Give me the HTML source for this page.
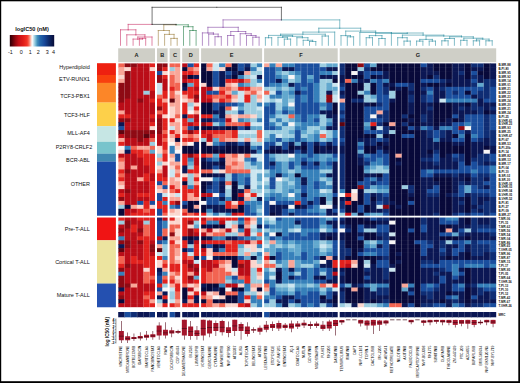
<!DOCTYPE html>
<html><head><meta charset="utf-8"><title>Drug response heatmap</title>
<style>html,body{margin:0;padding:0;background:#fff;overflow:hidden}body{width:520px;height:383px;position:relative}</style>
</head><body>
<svg width="520" height="383" viewBox="0 0 520 383" style="position:absolute;left:0;top:0">
<rect x="0" y="0" width="520" height="383" fill="#fff"/>
<defs><linearGradient id="lg" x1="0" x2="1" y1="0" y2="0"><stop offset="0" stop-color="#2a0008"/><stop offset="0.04" stop-color="#4a0008"/><stop offset="0.13" stop-color="#980810"/><stop offset="0.2" stop-color="#c41018"/><stop offset="0.3" stop-color="#e01c18"/><stop offset="0.39" stop-color="#f43426"/><stop offset="0.43" stop-color="#f86a58"/><stop offset="0.46" stop-color="#faa898"/><stop offset="0.485" stop-color="#fcdcd4"/><stop offset="0.505" stop-color="#ffffff"/><stop offset="0.53" stop-color="#d4eaf2"/><stop offset="0.57" stop-color="#8cc6dc"/><stop offset="0.62" stop-color="#4490bc"/><stop offset="0.68" stop-color="#2468ac"/><stop offset="0.78" stop-color="#18489a"/><stop offset="0.88" stop-color="#0e2a6a"/><stop offset="0.96" stop-color="#0a1648"/><stop offset="1" stop-color="#080c38"/></linearGradient></defs>
<rect x="9.8" y="35" width="44.4" height="11.5" fill="url(#lg)"/>
<text x="32" y="30.6" font-family="Liberation Sans, sans-serif" font-weight="bold" font-size="5.6" text-anchor="middle" fill="#111">logIC50 (nM)</text>
<text x="10.3" y="53.9" font-family="Liberation Sans, sans-serif" font-size="5.4" text-anchor="middle" fill="#111">-1</text>
<text x="21.3" y="53.9" font-family="Liberation Sans, sans-serif" font-size="5.4" text-anchor="middle" fill="#111">0</text>
<text x="30.3" y="53.9" font-family="Liberation Sans, sans-serif" font-size="5.4" text-anchor="middle" fill="#111">1</text>
<text x="38.3" y="53.9" font-family="Liberation Sans, sans-serif" font-size="5.4" text-anchor="middle" fill="#111">2</text>
<text x="47.3" y="53.9" font-family="Liberation Sans, sans-serif" font-size="5.4" text-anchor="middle" fill="#111">3</text>
<text x="53.4" y="53.9" font-family="Liberation Sans, sans-serif" font-size="5.4" text-anchor="middle" fill="#111">4</text>
<clipPath id="hc"><rect x="118.2" y="63.2" width="378.00" height="243.97"/></clipPath>
<g id="heat" clip-path="url(#hc)">
<rect x="118.20" y="63.20" width="6.90" height="4.54" fill="#f26452"/>
<rect x="124.50" y="63.20" width="13.20" height="4.54" fill="#8e0a14"/>
<rect x="137.10" y="63.20" width="13.20" height="4.54" fill="#ba0d18"/>
<rect x="149.70" y="63.20" width="6.90" height="4.54" fill="#e2221e"/>
<rect x="156.00" y="63.20" width="13.20" height="4.54" fill="#8e0a14"/>
<rect x="168.60" y="63.20" width="13.20" height="4.54" fill="#f26452"/>
<rect x="181.20" y="63.20" width="6.90" height="4.54" fill="#ba0d18"/>
<rect x="187.50" y="63.20" width="6.90" height="4.54" fill="#1a4e9e"/>
<rect x="193.80" y="63.20" width="6.90" height="4.54" fill="#e2221e"/>
<rect x="200.10" y="63.20" width="6.90" height="4.54" fill="#08093a"/>
<rect x="206.40" y="63.20" width="6.90" height="4.54" fill="#f26452"/>
<rect x="212.70" y="63.20" width="6.90" height="4.54" fill="#cce6f0"/>
<rect x="219.00" y="63.20" width="6.90" height="4.54" fill="#3680ba"/>
<rect x="225.30" y="63.20" width="6.90" height="4.54" fill="#f26452"/>
<rect x="231.60" y="63.20" width="6.90" height="4.54" fill="#08093a"/>
<rect x="237.90" y="63.20" width="6.90" height="4.54" fill="#1a4e9e"/>
<rect x="244.20" y="63.20" width="6.90" height="4.54" fill="#0f2d74"/>
<rect x="250.50" y="63.20" width="6.90" height="4.54" fill="#9ccde0"/>
<rect x="256.80" y="63.20" width="6.90" height="4.54" fill="#3680ba"/>
<rect x="263.10" y="63.20" width="6.90" height="4.54" fill="#f9a698"/>
<rect x="269.40" y="63.20" width="6.90" height="4.54" fill="#3680ba"/>
<rect x="275.70" y="63.20" width="6.90" height="4.54" fill="#f9a698"/>
<rect x="282.00" y="63.20" width="13.20" height="4.54" fill="#3680ba"/>
<rect x="294.60" y="63.20" width="25.80" height="4.54" fill="#1a4e9e"/>
<rect x="319.80" y="63.20" width="6.90" height="4.54" fill="#9ccde0"/>
<rect x="326.10" y="63.20" width="13.20" height="4.54" fill="#62a8ce"/>
<rect x="338.70" y="63.20" width="6.90" height="4.54" fill="#0f2d74"/>
<rect x="345.00" y="63.20" width="13.20" height="4.54" fill="#08093a"/>
<rect x="357.60" y="63.20" width="6.90" height="4.54" fill="#8e0a14"/>
<rect x="363.90" y="63.20" width="6.90" height="4.54" fill="#1a4e9e"/>
<rect x="370.20" y="63.20" width="6.90" height="4.54" fill="#62a8ce"/>
<rect x="376.50" y="63.20" width="44.70" height="4.54" fill="#08093a"/>
<rect x="420.60" y="63.20" width="6.90" height="4.54" fill="#1a4e9e"/>
<rect x="426.90" y="63.20" width="6.90" height="4.54" fill="#0b1754"/>
<rect x="433.20" y="63.20" width="19.50" height="4.54" fill="#08093a"/>
<rect x="452.10" y="63.20" width="13.20" height="4.54" fill="#0b1754"/>
<rect x="464.70" y="63.20" width="6.90" height="4.54" fill="#08093a"/>
<rect x="471.00" y="63.20" width="13.20" height="4.54" fill="#0f2d74"/>
<rect x="483.60" y="63.20" width="6.90" height="4.54" fill="#08093a"/>
<rect x="489.90" y="63.20" width="6.90" height="4.54" fill="#0b1754"/>
<rect x="118.20" y="67.14" width="6.90" height="4.54" fill="#f9a698"/>
<rect x="124.50" y="67.14" width="6.90" height="4.54" fill="#fbd6ce"/>
<rect x="130.80" y="67.14" width="19.50" height="4.54" fill="#ba0d18"/>
<rect x="149.70" y="67.14" width="6.90" height="4.54" fill="#fbd6ce"/>
<rect x="156.00" y="67.14" width="6.90" height="4.54" fill="#8e0a14"/>
<rect x="162.30" y="67.14" width="6.90" height="4.54" fill="#e2221e"/>
<rect x="168.60" y="67.14" width="6.90" height="4.54" fill="#9ccde0"/>
<rect x="174.90" y="67.14" width="6.90" height="4.54" fill="#f9a698"/>
<rect x="181.20" y="67.14" width="6.90" height="4.54" fill="#08093a"/>
<rect x="187.50" y="67.14" width="6.90" height="4.54" fill="#f26452"/>
<rect x="193.80" y="67.14" width="6.90" height="4.54" fill="#f9a698"/>
<rect x="200.10" y="67.14" width="6.90" height="4.54" fill="#08093a"/>
<rect x="206.40" y="67.14" width="6.90" height="4.54" fill="#f9a698"/>
<rect x="212.70" y="67.14" width="6.90" height="4.54" fill="#cce6f0"/>
<rect x="219.00" y="67.14" width="6.90" height="4.54" fill="#fbd6ce"/>
<rect x="225.30" y="67.14" width="13.20" height="4.54" fill="#08093a"/>
<rect x="237.90" y="67.14" width="6.90" height="4.54" fill="#1a4e9e"/>
<rect x="244.20" y="67.14" width="6.90" height="4.54" fill="#0b1754"/>
<rect x="250.50" y="67.14" width="6.90" height="4.54" fill="#3680ba"/>
<rect x="256.80" y="67.14" width="6.90" height="4.54" fill="#cce6f0"/>
<rect x="263.10" y="67.14" width="13.20" height="4.54" fill="#1a4e9e"/>
<rect x="275.70" y="67.14" width="6.90" height="4.54" fill="#3680ba"/>
<rect x="282.00" y="67.14" width="13.20" height="4.54" fill="#0b1754"/>
<rect x="294.60" y="67.14" width="32.10" height="4.54" fill="#1a4e9e"/>
<rect x="326.10" y="67.14" width="13.20" height="4.54" fill="#0b1754"/>
<rect x="338.70" y="67.14" width="6.90" height="4.54" fill="#0f2d74"/>
<rect x="345.00" y="67.14" width="13.20" height="4.54" fill="#08093a"/>
<rect x="357.60" y="67.14" width="6.90" height="4.54" fill="#9ccde0"/>
<rect x="363.90" y="67.14" width="6.90" height="4.54" fill="#0f2d74"/>
<rect x="370.20" y="67.14" width="51.00" height="4.54" fill="#08093a"/>
<rect x="420.60" y="67.14" width="13.20" height="4.54" fill="#0b1754"/>
<rect x="433.20" y="67.14" width="19.50" height="4.54" fill="#08093a"/>
<rect x="452.10" y="67.14" width="13.20" height="4.54" fill="#0b1754"/>
<rect x="464.70" y="67.14" width="6.90" height="4.54" fill="#08093a"/>
<rect x="471.00" y="67.14" width="13.20" height="4.54" fill="#0b1754"/>
<rect x="483.60" y="67.14" width="6.90" height="4.54" fill="#08093a"/>
<rect x="489.90" y="67.14" width="6.90" height="4.54" fill="#0b1754"/>
<rect x="118.20" y="71.07" width="6.90" height="4.54" fill="#f9a698"/>
<rect x="124.50" y="71.07" width="6.90" height="4.54" fill="#8e0a14"/>
<rect x="130.80" y="71.07" width="19.50" height="4.54" fill="#ba0d18"/>
<rect x="149.70" y="71.07" width="6.90" height="4.54" fill="#e2221e"/>
<rect x="156.00" y="71.07" width="6.90" height="4.54" fill="#1a4e9e"/>
<rect x="162.30" y="71.07" width="6.90" height="4.54" fill="#fbd6ce"/>
<rect x="168.60" y="71.07" width="13.20" height="4.54" fill="#f9a698"/>
<rect x="181.20" y="71.07" width="13.20" height="4.54" fill="#e2221e"/>
<rect x="193.80" y="71.07" width="6.90" height="4.54" fill="#f26452"/>
<rect x="200.10" y="71.07" width="13.20" height="4.54" fill="#08093a"/>
<rect x="212.70" y="71.07" width="6.90" height="4.54" fill="#1a4e9e"/>
<rect x="219.00" y="71.07" width="6.90" height="4.54" fill="#0b1754"/>
<rect x="225.30" y="71.07" width="6.90" height="4.54" fill="#1a4e9e"/>
<rect x="231.60" y="71.07" width="6.90" height="4.54" fill="#0b1754"/>
<rect x="237.90" y="71.07" width="6.90" height="4.54" fill="#08093a"/>
<rect x="244.20" y="71.07" width="6.90" height="4.54" fill="#f9a698"/>
<rect x="250.50" y="71.07" width="13.20" height="4.54" fill="#9ccde0"/>
<rect x="263.10" y="71.07" width="13.20" height="4.54" fill="#1a4e9e"/>
<rect x="275.70" y="71.07" width="6.90" height="4.54" fill="#62a8ce"/>
<rect x="282.00" y="71.07" width="6.90" height="4.54" fill="#9ccde0"/>
<rect x="288.30" y="71.07" width="6.90" height="4.54" fill="#62a8ce"/>
<rect x="294.60" y="71.07" width="6.90" height="4.54" fill="#3680ba"/>
<rect x="300.90" y="71.07" width="19.50" height="4.54" fill="#1a4e9e"/>
<rect x="319.80" y="71.07" width="13.20" height="4.54" fill="#3680ba"/>
<rect x="332.40" y="71.07" width="6.90" height="4.54" fill="#9ccde0"/>
<rect x="338.70" y="71.07" width="6.90" height="4.54" fill="#0f2d74"/>
<rect x="345.00" y="71.07" width="6.90" height="4.54" fill="#08093a"/>
<rect x="351.30" y="71.07" width="6.90" height="4.54" fill="#f8f6f6"/>
<rect x="357.60" y="71.07" width="6.90" height="4.54" fill="#0b1754"/>
<rect x="363.90" y="71.07" width="19.50" height="4.54" fill="#1a4e9e"/>
<rect x="382.80" y="71.07" width="6.90" height="4.54" fill="#0b1754"/>
<rect x="389.10" y="71.07" width="32.10" height="4.54" fill="#08093a"/>
<rect x="420.60" y="71.07" width="19.50" height="4.54" fill="#0b1754"/>
<rect x="439.50" y="71.07" width="13.20" height="4.54" fill="#08093a"/>
<rect x="452.10" y="71.07" width="6.90" height="4.54" fill="#0b1754"/>
<rect x="458.40" y="71.07" width="6.90" height="4.54" fill="#0f2d74"/>
<rect x="464.70" y="71.07" width="6.90" height="4.54" fill="#08093a"/>
<rect x="471.00" y="71.07" width="6.90" height="4.54" fill="#1a4e9e"/>
<rect x="477.30" y="71.07" width="13.20" height="4.54" fill="#08093a"/>
<rect x="489.90" y="71.07" width="6.90" height="4.54" fill="#0b1754"/>
<rect x="118.20" y="75.00" width="6.90" height="4.54" fill="#fbd6ce"/>
<rect x="124.50" y="75.00" width="6.90" height="4.54" fill="#8e0a14"/>
<rect x="130.80" y="75.00" width="19.50" height="4.54" fill="#ba0d18"/>
<rect x="149.70" y="75.00" width="6.90" height="4.54" fill="#e2221e"/>
<rect x="156.00" y="75.00" width="6.90" height="4.54" fill="#8e0a14"/>
<rect x="162.30" y="75.00" width="6.90" height="4.54" fill="#e2221e"/>
<rect x="168.60" y="75.00" width="6.90" height="4.54" fill="#f26452"/>
<rect x="174.90" y="75.00" width="6.90" height="4.54" fill="#f9a698"/>
<rect x="181.20" y="75.00" width="6.90" height="4.54" fill="#8e0a14"/>
<rect x="187.50" y="75.00" width="6.90" height="4.54" fill="#08093a"/>
<rect x="193.80" y="75.00" width="6.90" height="4.54" fill="#0b1754"/>
<rect x="200.10" y="75.00" width="13.20" height="4.54" fill="#08093a"/>
<rect x="212.70" y="75.00" width="6.90" height="4.54" fill="#1a4e9e"/>
<rect x="219.00" y="75.00" width="6.90" height="4.54" fill="#0b1754"/>
<rect x="225.30" y="75.00" width="6.90" height="4.54" fill="#0f2d74"/>
<rect x="231.60" y="75.00" width="6.90" height="4.54" fill="#08093a"/>
<rect x="237.90" y="75.00" width="6.90" height="4.54" fill="#3680ba"/>
<rect x="244.20" y="75.00" width="6.90" height="4.54" fill="#9ccde0"/>
<rect x="250.50" y="75.00" width="6.90" height="4.54" fill="#cce6f0"/>
<rect x="256.80" y="75.00" width="6.90" height="4.54" fill="#0b1754"/>
<rect x="263.10" y="75.00" width="13.20" height="4.54" fill="#1a4e9e"/>
<rect x="275.70" y="75.00" width="6.90" height="4.54" fill="#3680ba"/>
<rect x="282.00" y="75.00" width="6.90" height="4.54" fill="#62a8ce"/>
<rect x="288.30" y="75.00" width="6.90" height="4.54" fill="#f8f6f6"/>
<rect x="294.60" y="75.00" width="6.90" height="4.54" fill="#62a8ce"/>
<rect x="300.90" y="75.00" width="6.90" height="4.54" fill="#1a4e9e"/>
<rect x="307.20" y="75.00" width="6.90" height="4.54" fill="#62a8ce"/>
<rect x="313.50" y="75.00" width="6.90" height="4.54" fill="#1a4e9e"/>
<rect x="319.80" y="75.00" width="25.80" height="4.54" fill="#0b1754"/>
<rect x="345.00" y="75.00" width="19.50" height="4.54" fill="#08093a"/>
<rect x="363.90" y="75.00" width="6.90" height="4.54" fill="#1a4e9e"/>
<rect x="370.20" y="75.00" width="6.90" height="4.54" fill="#08093a"/>
<rect x="376.50" y="75.00" width="13.20" height="4.54" fill="#0b1754"/>
<rect x="389.10" y="75.00" width="32.10" height="4.54" fill="#08093a"/>
<rect x="420.60" y="75.00" width="6.90" height="4.54" fill="#0b1754"/>
<rect x="426.90" y="75.00" width="6.90" height="4.54" fill="#08093a"/>
<rect x="433.20" y="75.00" width="6.90" height="4.54" fill="#0f2d74"/>
<rect x="439.50" y="75.00" width="13.20" height="4.54" fill="#08093a"/>
<rect x="452.10" y="75.00" width="13.20" height="4.54" fill="#0b1754"/>
<rect x="464.70" y="75.00" width="6.90" height="4.54" fill="#08093a"/>
<rect x="471.00" y="75.00" width="6.90" height="4.54" fill="#0f2d74"/>
<rect x="477.30" y="75.00" width="6.90" height="4.54" fill="#0b1754"/>
<rect x="483.60" y="75.00" width="6.90" height="4.54" fill="#08093a"/>
<rect x="489.90" y="75.00" width="6.90" height="4.54" fill="#0b1754"/>
<rect x="118.20" y="78.94" width="6.90" height="4.54" fill="#f9a698"/>
<rect x="124.50" y="78.94" width="6.90" height="4.54" fill="#8e0a14"/>
<rect x="130.80" y="78.94" width="19.50" height="4.54" fill="#ba0d18"/>
<rect x="149.70" y="78.94" width="6.90" height="4.54" fill="#e2221e"/>
<rect x="156.00" y="78.94" width="6.90" height="4.54" fill="#8e0a14"/>
<rect x="162.30" y="78.94" width="6.90" height="4.54" fill="#ba0d18"/>
<rect x="168.60" y="78.94" width="6.90" height="4.54" fill="#f26452"/>
<rect x="174.90" y="78.94" width="6.90" height="4.54" fill="#f9a698"/>
<rect x="181.20" y="78.94" width="6.90" height="4.54" fill="#ba0d18"/>
<rect x="187.50" y="78.94" width="13.20" height="4.54" fill="#e2221e"/>
<rect x="200.10" y="78.94" width="13.20" height="4.54" fill="#08093a"/>
<rect x="212.70" y="78.94" width="6.90" height="4.54" fill="#1a4e9e"/>
<rect x="219.00" y="78.94" width="6.90" height="4.54" fill="#0b1754"/>
<rect x="225.30" y="78.94" width="13.20" height="4.54" fill="#e2221e"/>
<rect x="237.90" y="78.94" width="6.90" height="4.54" fill="#ba0d18"/>
<rect x="244.20" y="78.94" width="6.90" height="4.54" fill="#f26452"/>
<rect x="250.50" y="78.94" width="6.90" height="4.54" fill="#9ccde0"/>
<rect x="256.80" y="78.94" width="6.90" height="4.54" fill="#3680ba"/>
<rect x="263.10" y="78.94" width="13.20" height="4.54" fill="#1a4e9e"/>
<rect x="275.70" y="78.94" width="6.90" height="4.54" fill="#0b1754"/>
<rect x="282.00" y="78.94" width="6.90" height="4.54" fill="#3680ba"/>
<rect x="288.30" y="78.94" width="6.90" height="4.54" fill="#9ccde0"/>
<rect x="294.60" y="78.94" width="6.90" height="4.54" fill="#62a8ce"/>
<rect x="300.90" y="78.94" width="6.90" height="4.54" fill="#1a4e9e"/>
<rect x="307.20" y="78.94" width="6.90" height="4.54" fill="#3680ba"/>
<rect x="313.50" y="78.94" width="6.90" height="4.54" fill="#1a4e9e"/>
<rect x="319.80" y="78.94" width="13.20" height="4.54" fill="#9ccde0"/>
<rect x="332.40" y="78.94" width="6.90" height="4.54" fill="#08093a"/>
<rect x="338.70" y="78.94" width="6.90" height="4.54" fill="#0b1754"/>
<rect x="345.00" y="78.94" width="6.90" height="4.54" fill="#f26452"/>
<rect x="351.30" y="78.94" width="6.90" height="4.54" fill="#3680ba"/>
<rect x="357.60" y="78.94" width="13.20" height="4.54" fill="#0b1754"/>
<rect x="370.20" y="78.94" width="6.90" height="4.54" fill="#3680ba"/>
<rect x="376.50" y="78.94" width="6.90" height="4.54" fill="#1a4e9e"/>
<rect x="382.80" y="78.94" width="6.90" height="4.54" fill="#3680ba"/>
<rect x="389.10" y="78.94" width="32.10" height="4.54" fill="#08093a"/>
<rect x="420.60" y="78.94" width="19.50" height="4.54" fill="#1a4e9e"/>
<rect x="439.50" y="78.94" width="6.90" height="4.54" fill="#0f2d74"/>
<rect x="445.80" y="78.94" width="25.80" height="4.54" fill="#0b1754"/>
<rect x="471.00" y="78.94" width="6.90" height="4.54" fill="#1a4e9e"/>
<rect x="477.30" y="78.94" width="6.90" height="4.54" fill="#0b1754"/>
<rect x="483.60" y="78.94" width="13.20" height="4.54" fill="#0f2d74"/>
<rect x="118.20" y="82.88" width="13.20" height="4.54" fill="#8e0a14"/>
<rect x="130.80" y="82.88" width="19.50" height="4.54" fill="#ba0d18"/>
<rect x="149.70" y="82.88" width="6.90" height="4.54" fill="#e2221e"/>
<rect x="156.00" y="82.88" width="6.90" height="4.54" fill="#cce6f0"/>
<rect x="162.30" y="82.88" width="6.90" height="4.54" fill="#ba0d18"/>
<rect x="168.60" y="82.88" width="13.20" height="4.54" fill="#f26452"/>
<rect x="181.20" y="82.88" width="6.90" height="4.54" fill="#08093a"/>
<rect x="187.50" y="82.88" width="6.90" height="4.54" fill="#62a8ce"/>
<rect x="193.80" y="82.88" width="6.90" height="4.54" fill="#e2221e"/>
<rect x="200.10" y="82.88" width="6.90" height="4.54" fill="#fbd6ce"/>
<rect x="206.40" y="82.88" width="6.90" height="4.54" fill="#08093a"/>
<rect x="212.70" y="82.88" width="6.90" height="4.54" fill="#1a4e9e"/>
<rect x="219.00" y="82.88" width="6.90" height="4.54" fill="#0b1754"/>
<rect x="225.30" y="82.88" width="6.90" height="4.54" fill="#f9a698"/>
<rect x="231.60" y="82.88" width="6.90" height="4.54" fill="#fbd6ce"/>
<rect x="237.90" y="82.88" width="6.90" height="4.54" fill="#3680ba"/>
<rect x="244.20" y="82.88" width="6.90" height="4.54" fill="#62a8ce"/>
<rect x="250.50" y="82.88" width="6.90" height="4.54" fill="#9ccde0"/>
<rect x="256.80" y="82.88" width="6.90" height="4.54" fill="#cce6f0"/>
<rect x="263.10" y="82.88" width="6.90" height="4.54" fill="#1a4e9e"/>
<rect x="269.40" y="82.88" width="13.20" height="4.54" fill="#3680ba"/>
<rect x="282.00" y="82.88" width="6.90" height="4.54" fill="#62a8ce"/>
<rect x="288.30" y="82.88" width="6.90" height="4.54" fill="#0b1754"/>
<rect x="294.60" y="82.88" width="19.50" height="4.54" fill="#1a4e9e"/>
<rect x="313.50" y="82.88" width="6.90" height="4.54" fill="#3680ba"/>
<rect x="319.80" y="82.88" width="6.90" height="4.54" fill="#9ccde0"/>
<rect x="326.10" y="82.88" width="6.90" height="4.54" fill="#62a8ce"/>
<rect x="332.40" y="82.88" width="6.90" height="4.54" fill="#cce6f0"/>
<rect x="338.70" y="82.88" width="6.90" height="4.54" fill="#0f2d74"/>
<rect x="345.00" y="82.88" width="19.50" height="4.54" fill="#08093a"/>
<rect x="363.90" y="82.88" width="6.90" height="4.54" fill="#9ccde0"/>
<rect x="370.20" y="82.88" width="6.90" height="4.54" fill="#08093a"/>
<rect x="376.50" y="82.88" width="6.90" height="4.54" fill="#1a4e9e"/>
<rect x="382.80" y="82.88" width="13.20" height="4.54" fill="#0b1754"/>
<rect x="395.40" y="82.88" width="13.20" height="4.54" fill="#1a4e9e"/>
<rect x="408.00" y="82.88" width="6.90" height="4.54" fill="#0f2d74"/>
<rect x="414.30" y="82.88" width="6.90" height="4.54" fill="#08093a"/>
<rect x="420.60" y="82.88" width="6.90" height="4.54" fill="#0b1754"/>
<rect x="426.90" y="82.88" width="13.20" height="4.54" fill="#08093a"/>
<rect x="439.50" y="82.88" width="6.90" height="4.54" fill="#0b1754"/>
<rect x="445.80" y="82.88" width="6.90" height="4.54" fill="#08093a"/>
<rect x="452.10" y="82.88" width="19.50" height="4.54" fill="#0b1754"/>
<rect x="471.00" y="82.88" width="6.90" height="4.54" fill="#0f2d74"/>
<rect x="477.30" y="82.88" width="6.90" height="4.54" fill="#62a8ce"/>
<rect x="483.60" y="82.88" width="13.20" height="4.54" fill="#0f2d74"/>
<rect x="118.20" y="86.81" width="13.20" height="4.54" fill="#8e0a14"/>
<rect x="130.80" y="86.81" width="19.50" height="4.54" fill="#ba0d18"/>
<rect x="149.70" y="86.81" width="6.90" height="4.54" fill="#e2221e"/>
<rect x="156.00" y="86.81" width="6.90" height="4.54" fill="#cce6f0"/>
<rect x="162.30" y="86.81" width="6.90" height="4.54" fill="#ba0d18"/>
<rect x="168.60" y="86.81" width="6.90" height="4.54" fill="#e2221e"/>
<rect x="174.90" y="86.81" width="6.90" height="4.54" fill="#f26452"/>
<rect x="181.20" y="86.81" width="6.90" height="4.54" fill="#0b1754"/>
<rect x="187.50" y="86.81" width="6.90" height="4.54" fill="#e2221e"/>
<rect x="193.80" y="86.81" width="19.50" height="4.54" fill="#ba0d18"/>
<rect x="212.70" y="86.81" width="6.90" height="4.54" fill="#fbd6ce"/>
<rect x="219.00" y="86.81" width="13.20" height="4.54" fill="#f26452"/>
<rect x="231.60" y="86.81" width="6.90" height="4.54" fill="#f9a698"/>
<rect x="237.90" y="86.81" width="13.20" height="4.54" fill="#e2221e"/>
<rect x="250.50" y="86.81" width="13.20" height="4.54" fill="#f9a698"/>
<rect x="263.10" y="86.81" width="13.20" height="4.54" fill="#9ccde0"/>
<rect x="275.70" y="86.81" width="6.90" height="4.54" fill="#62a8ce"/>
<rect x="282.00" y="86.81" width="6.90" height="4.54" fill="#9ccde0"/>
<rect x="288.30" y="86.81" width="6.90" height="4.54" fill="#62a8ce"/>
<rect x="294.60" y="86.81" width="6.90" height="4.54" fill="#1a4e9e"/>
<rect x="300.90" y="86.81" width="6.90" height="4.54" fill="#3680ba"/>
<rect x="307.20" y="86.81" width="6.90" height="4.54" fill="#1a4e9e"/>
<rect x="313.50" y="86.81" width="6.90" height="4.54" fill="#3680ba"/>
<rect x="319.80" y="86.81" width="6.90" height="4.54" fill="#9ccde0"/>
<rect x="326.10" y="86.81" width="13.20" height="4.54" fill="#62a8ce"/>
<rect x="338.70" y="86.81" width="6.90" height="4.54" fill="#1a4e9e"/>
<rect x="345.00" y="86.81" width="19.50" height="4.54" fill="#08093a"/>
<rect x="363.90" y="86.81" width="6.90" height="4.54" fill="#9ccde0"/>
<rect x="370.20" y="86.81" width="6.90" height="4.54" fill="#08093a"/>
<rect x="376.50" y="86.81" width="6.90" height="4.54" fill="#1a4e9e"/>
<rect x="382.80" y="86.81" width="6.90" height="4.54" fill="#0f2d74"/>
<rect x="389.10" y="86.81" width="6.90" height="4.54" fill="#08093a"/>
<rect x="395.40" y="86.81" width="6.90" height="4.54" fill="#0b1754"/>
<rect x="401.70" y="86.81" width="6.90" height="4.54" fill="#08093a"/>
<rect x="408.00" y="86.81" width="6.90" height="4.54" fill="#0f2d74"/>
<rect x="414.30" y="86.81" width="6.90" height="4.54" fill="#08093a"/>
<rect x="420.60" y="86.81" width="6.90" height="4.54" fill="#0f2d74"/>
<rect x="426.90" y="86.81" width="6.90" height="4.54" fill="#1a4e9e"/>
<rect x="433.20" y="86.81" width="6.90" height="4.54" fill="#0b1754"/>
<rect x="439.50" y="86.81" width="6.90" height="4.54" fill="#0f2d74"/>
<rect x="445.80" y="86.81" width="38.40" height="4.54" fill="#1a4e9e"/>
<rect x="483.60" y="86.81" width="6.90" height="4.54" fill="#0f2d74"/>
<rect x="489.90" y="86.81" width="6.90" height="4.54" fill="#1a4e9e"/>
<rect x="118.20" y="90.75" width="13.20" height="4.54" fill="#8e0a14"/>
<rect x="130.80" y="90.75" width="13.20" height="4.54" fill="#ba0d18"/>
<rect x="143.40" y="90.75" width="6.90" height="4.54" fill="#9ccde0"/>
<rect x="149.70" y="90.75" width="6.90" height="4.54" fill="#ba0d18"/>
<rect x="156.00" y="90.75" width="6.90" height="4.54" fill="#cce6f0"/>
<rect x="162.30" y="90.75" width="6.90" height="4.54" fill="#e2221e"/>
<rect x="168.60" y="90.75" width="6.90" height="4.54" fill="#f26452"/>
<rect x="174.90" y="90.75" width="6.90" height="4.54" fill="#fbd6ce"/>
<rect x="181.20" y="90.75" width="19.50" height="4.54" fill="#e2221e"/>
<rect x="200.10" y="90.75" width="6.90" height="4.54" fill="#ba0d18"/>
<rect x="206.40" y="90.75" width="13.20" height="4.54" fill="#1a4e9e"/>
<rect x="219.00" y="90.75" width="6.90" height="4.54" fill="#e2221e"/>
<rect x="225.30" y="90.75" width="6.90" height="4.54" fill="#f9a698"/>
<rect x="231.60" y="90.75" width="6.90" height="4.54" fill="#62a8ce"/>
<rect x="237.90" y="90.75" width="6.90" height="4.54" fill="#cce6f0"/>
<rect x="244.20" y="90.75" width="6.90" height="4.54" fill="#f9a698"/>
<rect x="250.50" y="90.75" width="6.90" height="4.54" fill="#f26452"/>
<rect x="256.80" y="90.75" width="6.90" height="4.54" fill="#fbd6ce"/>
<rect x="263.10" y="90.75" width="6.90" height="4.54" fill="#f26452"/>
<rect x="269.40" y="90.75" width="6.90" height="4.54" fill="#cce6f0"/>
<rect x="275.70" y="90.75" width="6.90" height="4.54" fill="#1a4e9e"/>
<rect x="282.00" y="90.75" width="6.90" height="4.54" fill="#62a8ce"/>
<rect x="288.30" y="90.75" width="6.90" height="4.54" fill="#3680ba"/>
<rect x="294.60" y="90.75" width="6.90" height="4.54" fill="#0b1754"/>
<rect x="300.90" y="90.75" width="13.20" height="4.54" fill="#1a4e9e"/>
<rect x="313.50" y="90.75" width="6.90" height="4.54" fill="#3680ba"/>
<rect x="319.80" y="90.75" width="6.90" height="4.54" fill="#9ccde0"/>
<rect x="326.10" y="90.75" width="6.90" height="4.54" fill="#0b1754"/>
<rect x="332.40" y="90.75" width="6.90" height="4.54" fill="#9ccde0"/>
<rect x="338.70" y="90.75" width="6.90" height="4.54" fill="#0b1754"/>
<rect x="345.00" y="90.75" width="13.20" height="4.54" fill="#08093a"/>
<rect x="357.60" y="90.75" width="6.90" height="4.54" fill="#9ccde0"/>
<rect x="363.90" y="90.75" width="6.90" height="4.54" fill="#3680ba"/>
<rect x="370.20" y="90.75" width="6.90" height="4.54" fill="#08093a"/>
<rect x="376.50" y="90.75" width="6.90" height="4.54" fill="#1a4e9e"/>
<rect x="382.80" y="90.75" width="6.90" height="4.54" fill="#0f2d74"/>
<rect x="389.10" y="90.75" width="6.90" height="4.54" fill="#9ccde0"/>
<rect x="395.40" y="90.75" width="13.20" height="4.54" fill="#08093a"/>
<rect x="408.00" y="90.75" width="6.90" height="4.54" fill="#0b1754"/>
<rect x="414.30" y="90.75" width="6.90" height="4.54" fill="#08093a"/>
<rect x="420.60" y="90.75" width="6.90" height="4.54" fill="#0b1754"/>
<rect x="426.90" y="90.75" width="6.90" height="4.54" fill="#3680ba"/>
<rect x="433.20" y="90.75" width="13.20" height="4.54" fill="#0b1754"/>
<rect x="445.80" y="90.75" width="6.90" height="4.54" fill="#1a4e9e"/>
<rect x="452.10" y="90.75" width="6.90" height="4.54" fill="#0f2d74"/>
<rect x="458.40" y="90.75" width="6.90" height="4.54" fill="#1a4e9e"/>
<rect x="464.70" y="90.75" width="6.90" height="4.54" fill="#08093a"/>
<rect x="471.00" y="90.75" width="6.90" height="4.54" fill="#1a4e9e"/>
<rect x="477.30" y="90.75" width="13.20" height="4.54" fill="#0f2d74"/>
<rect x="489.90" y="90.75" width="6.90" height="4.54" fill="#1a4e9e"/>
<rect x="118.20" y="94.68" width="13.20" height="4.54" fill="#8e0a14"/>
<rect x="130.80" y="94.68" width="25.80" height="4.54" fill="#ba0d18"/>
<rect x="156.00" y="94.68" width="6.90" height="4.54" fill="#f26452"/>
<rect x="162.30" y="94.68" width="6.90" height="4.54" fill="#e2221e"/>
<rect x="168.60" y="94.68" width="6.90" height="4.54" fill="#f26452"/>
<rect x="174.90" y="94.68" width="13.20" height="4.54" fill="#f9a698"/>
<rect x="187.50" y="94.68" width="6.90" height="4.54" fill="#e2221e"/>
<rect x="193.80" y="94.68" width="6.90" height="4.54" fill="#8e0a14"/>
<rect x="200.10" y="94.68" width="6.90" height="4.54" fill="#ba0d18"/>
<rect x="206.40" y="94.68" width="6.90" height="4.54" fill="#e2221e"/>
<rect x="212.70" y="94.68" width="13.20" height="4.54" fill="#f26452"/>
<rect x="225.30" y="94.68" width="6.90" height="4.54" fill="#e2221e"/>
<rect x="231.60" y="94.68" width="6.90" height="4.54" fill="#f9a698"/>
<rect x="237.90" y="94.68" width="6.90" height="4.54" fill="#cce6f0"/>
<rect x="244.20" y="94.68" width="6.90" height="4.54" fill="#e2221e"/>
<rect x="250.50" y="94.68" width="6.90" height="4.54" fill="#9ccde0"/>
<rect x="256.80" y="94.68" width="6.90" height="4.54" fill="#f9a698"/>
<rect x="263.10" y="94.68" width="6.90" height="4.54" fill="#cce6f0"/>
<rect x="269.40" y="94.68" width="13.20" height="4.54" fill="#3680ba"/>
<rect x="282.00" y="94.68" width="13.20" height="4.54" fill="#62a8ce"/>
<rect x="294.60" y="94.68" width="6.90" height="4.54" fill="#1a4e9e"/>
<rect x="300.90" y="94.68" width="6.90" height="4.54" fill="#3680ba"/>
<rect x="307.20" y="94.68" width="6.90" height="4.54" fill="#1a4e9e"/>
<rect x="313.50" y="94.68" width="6.90" height="4.54" fill="#3680ba"/>
<rect x="319.80" y="94.68" width="6.90" height="4.54" fill="#9ccde0"/>
<rect x="326.10" y="94.68" width="6.90" height="4.54" fill="#8e0a14"/>
<rect x="332.40" y="94.68" width="6.90" height="4.54" fill="#cce6f0"/>
<rect x="338.70" y="94.68" width="6.90" height="4.54" fill="#0f2d74"/>
<rect x="345.00" y="94.68" width="19.50" height="4.54" fill="#08093a"/>
<rect x="363.90" y="94.68" width="6.90" height="4.54" fill="#9ccde0"/>
<rect x="370.20" y="94.68" width="6.90" height="4.54" fill="#62a8ce"/>
<rect x="376.50" y="94.68" width="13.20" height="4.54" fill="#1a4e9e"/>
<rect x="389.10" y="94.68" width="6.90" height="4.54" fill="#9ccde0"/>
<rect x="395.40" y="94.68" width="13.20" height="4.54" fill="#08093a"/>
<rect x="408.00" y="94.68" width="6.90" height="4.54" fill="#0f2d74"/>
<rect x="414.30" y="94.68" width="6.90" height="4.54" fill="#08093a"/>
<rect x="420.60" y="94.68" width="6.90" height="4.54" fill="#0f2d74"/>
<rect x="426.90" y="94.68" width="6.90" height="4.54" fill="#1a4e9e"/>
<rect x="433.20" y="94.68" width="13.20" height="4.54" fill="#0b1754"/>
<rect x="445.80" y="94.68" width="25.80" height="4.54" fill="#1a4e9e"/>
<rect x="471.00" y="94.68" width="6.90" height="4.54" fill="#0b1754"/>
<rect x="477.30" y="94.68" width="13.20" height="4.54" fill="#0f2d74"/>
<rect x="489.90" y="94.68" width="6.90" height="4.54" fill="#1a4e9e"/>
<rect x="118.20" y="98.62" width="6.90" height="4.54" fill="#8e0a14"/>
<rect x="124.50" y="98.62" width="13.20" height="4.54" fill="#ba0d18"/>
<rect x="137.10" y="98.62" width="6.90" height="4.54" fill="#8e0a14"/>
<rect x="143.40" y="98.62" width="6.90" height="4.54" fill="#ba0d18"/>
<rect x="149.70" y="98.62" width="13.20" height="4.54" fill="#e2221e"/>
<rect x="162.30" y="98.62" width="6.90" height="4.54" fill="#f9a698"/>
<rect x="168.60" y="98.62" width="6.90" height="4.54" fill="#5e0410"/>
<rect x="174.90" y="98.62" width="6.90" height="4.54" fill="#f9a698"/>
<rect x="181.20" y="98.62" width="6.90" height="4.54" fill="#fbd6ce"/>
<rect x="187.50" y="98.62" width="6.90" height="4.54" fill="#f9a698"/>
<rect x="193.80" y="98.62" width="19.50" height="4.54" fill="#ba0d18"/>
<rect x="212.70" y="98.62" width="6.90" height="4.54" fill="#f9a698"/>
<rect x="219.00" y="98.62" width="6.90" height="4.54" fill="#e2221e"/>
<rect x="225.30" y="98.62" width="6.90" height="4.54" fill="#f26452"/>
<rect x="231.60" y="98.62" width="6.90" height="4.54" fill="#fbd6ce"/>
<rect x="237.90" y="98.62" width="6.90" height="4.54" fill="#cce6f0"/>
<rect x="244.20" y="98.62" width="6.90" height="4.54" fill="#e2221e"/>
<rect x="250.50" y="98.62" width="6.90" height="4.54" fill="#9ccde0"/>
<rect x="256.80" y="98.62" width="6.90" height="4.54" fill="#fbd6ce"/>
<rect x="263.10" y="98.62" width="6.90" height="4.54" fill="#cce6f0"/>
<rect x="269.40" y="98.62" width="6.90" height="4.54" fill="#9ccde0"/>
<rect x="275.70" y="98.62" width="6.90" height="4.54" fill="#cce6f0"/>
<rect x="282.00" y="98.62" width="6.90" height="4.54" fill="#62a8ce"/>
<rect x="288.30" y="98.62" width="6.90" height="4.54" fill="#9ccde0"/>
<rect x="294.60" y="98.62" width="6.90" height="4.54" fill="#1a4e9e"/>
<rect x="300.90" y="98.62" width="6.90" height="4.54" fill="#3680ba"/>
<rect x="307.20" y="98.62" width="6.90" height="4.54" fill="#1a4e9e"/>
<rect x="313.50" y="98.62" width="6.90" height="4.54" fill="#3680ba"/>
<rect x="319.80" y="98.62" width="6.90" height="4.54" fill="#9ccde0"/>
<rect x="326.10" y="98.62" width="6.90" height="4.54" fill="#8e0a14"/>
<rect x="332.40" y="98.62" width="6.90" height="4.54" fill="#cce6f0"/>
<rect x="338.70" y="98.62" width="6.90" height="4.54" fill="#f9a698"/>
<rect x="345.00" y="98.62" width="6.90" height="4.54" fill="#08093a"/>
<rect x="351.30" y="98.62" width="13.20" height="4.54" fill="#0f2d74"/>
<rect x="363.90" y="98.62" width="13.20" height="4.54" fill="#9ccde0"/>
<rect x="376.50" y="98.62" width="13.20" height="4.54" fill="#1a4e9e"/>
<rect x="389.10" y="98.62" width="6.90" height="4.54" fill="#0b1754"/>
<rect x="395.40" y="98.62" width="13.20" height="4.54" fill="#08093a"/>
<rect x="408.00" y="98.62" width="6.90" height="4.54" fill="#0f2d74"/>
<rect x="414.30" y="98.62" width="6.90" height="4.54" fill="#08093a"/>
<rect x="420.60" y="98.62" width="6.90" height="4.54" fill="#0f2d74"/>
<rect x="426.90" y="98.62" width="6.90" height="4.54" fill="#1a4e9e"/>
<rect x="433.20" y="98.62" width="6.90" height="4.54" fill="#0b1754"/>
<rect x="439.50" y="98.62" width="6.90" height="4.54" fill="#cce6f0"/>
<rect x="445.80" y="98.62" width="32.10" height="4.54" fill="#3680ba"/>
<rect x="477.30" y="98.62" width="6.90" height="4.54" fill="#0b1754"/>
<rect x="483.60" y="98.62" width="13.20" height="4.54" fill="#1a4e9e"/>
<rect x="118.20" y="102.55" width="38.40" height="4.54" fill="#ba0d18"/>
<rect x="156.00" y="102.55" width="13.20" height="4.54" fill="#e2221e"/>
<rect x="168.60" y="102.55" width="13.20" height="4.54" fill="#f9a698"/>
<rect x="181.20" y="102.55" width="6.90" height="4.54" fill="#e2221e"/>
<rect x="187.50" y="102.55" width="6.90" height="4.54" fill="#9ccde0"/>
<rect x="193.80" y="102.55" width="6.90" height="4.54" fill="#fbd6ce"/>
<rect x="200.10" y="102.55" width="13.20" height="4.54" fill="#08093a"/>
<rect x="212.70" y="102.55" width="6.90" height="4.54" fill="#1a4e9e"/>
<rect x="219.00" y="102.55" width="6.90" height="4.54" fill="#0f2d74"/>
<rect x="225.30" y="102.55" width="13.20" height="4.54" fill="#1a4e9e"/>
<rect x="237.90" y="102.55" width="6.90" height="4.54" fill="#3680ba"/>
<rect x="244.20" y="102.55" width="13.20" height="4.54" fill="#9ccde0"/>
<rect x="256.80" y="102.55" width="13.20" height="4.54" fill="#3680ba"/>
<rect x="269.40" y="102.55" width="6.90" height="4.54" fill="#1a4e9e"/>
<rect x="275.70" y="102.55" width="6.90" height="4.54" fill="#9ccde0"/>
<rect x="282.00" y="102.55" width="6.90" height="4.54" fill="#62a8ce"/>
<rect x="288.30" y="102.55" width="6.90" height="4.54" fill="#f8f6f6"/>
<rect x="294.60" y="102.55" width="25.80" height="4.54" fill="#1a4e9e"/>
<rect x="319.80" y="102.55" width="6.90" height="4.54" fill="#3680ba"/>
<rect x="326.10" y="102.55" width="6.90" height="4.54" fill="#1a4e9e"/>
<rect x="332.40" y="102.55" width="6.90" height="4.54" fill="#08093a"/>
<rect x="338.70" y="102.55" width="6.90" height="4.54" fill="#1a4e9e"/>
<rect x="345.00" y="102.55" width="19.50" height="4.54" fill="#08093a"/>
<rect x="363.90" y="102.55" width="6.90" height="4.54" fill="#0b1754"/>
<rect x="370.20" y="102.55" width="6.90" height="4.54" fill="#08093a"/>
<rect x="376.50" y="102.55" width="6.90" height="4.54" fill="#0f2d74"/>
<rect x="382.80" y="102.55" width="6.90" height="4.54" fill="#1a4e9e"/>
<rect x="389.10" y="102.55" width="19.50" height="4.54" fill="#08093a"/>
<rect x="408.00" y="102.55" width="6.90" height="4.54" fill="#0b1754"/>
<rect x="414.30" y="102.55" width="6.90" height="4.54" fill="#08093a"/>
<rect x="420.60" y="102.55" width="13.20" height="4.54" fill="#0b1754"/>
<rect x="433.20" y="102.55" width="19.50" height="4.54" fill="#08093a"/>
<rect x="452.10" y="102.55" width="13.20" height="4.54" fill="#0b1754"/>
<rect x="464.70" y="102.55" width="6.90" height="4.54" fill="#08093a"/>
<rect x="471.00" y="102.55" width="6.90" height="4.54" fill="#0f2d74"/>
<rect x="477.30" y="102.55" width="19.50" height="4.54" fill="#0b1754"/>
<rect x="118.20" y="106.49" width="38.40" height="4.54" fill="#ba0d18"/>
<rect x="156.00" y="106.49" width="6.90" height="4.54" fill="#8e0a14"/>
<rect x="162.30" y="106.49" width="6.90" height="4.54" fill="#e2221e"/>
<rect x="168.60" y="106.49" width="6.90" height="4.54" fill="#fbd6ce"/>
<rect x="174.90" y="106.49" width="6.90" height="4.54" fill="#f9a698"/>
<rect x="181.20" y="106.49" width="6.90" height="4.54" fill="#e2221e"/>
<rect x="187.50" y="106.49" width="6.90" height="4.54" fill="#cce6f0"/>
<rect x="193.80" y="106.49" width="6.90" height="4.54" fill="#e2221e"/>
<rect x="200.10" y="106.49" width="13.20" height="4.54" fill="#08093a"/>
<rect x="212.70" y="106.49" width="6.90" height="4.54" fill="#1a4e9e"/>
<rect x="219.00" y="106.49" width="6.90" height="4.54" fill="#0b1754"/>
<rect x="225.30" y="106.49" width="6.90" height="4.54" fill="#f26452"/>
<rect x="231.60" y="106.49" width="6.90" height="4.54" fill="#f8f6f6"/>
<rect x="237.90" y="106.49" width="6.90" height="4.54" fill="#62a8ce"/>
<rect x="244.20" y="106.49" width="13.20" height="4.54" fill="#9ccde0"/>
<rect x="256.80" y="106.49" width="6.90" height="4.54" fill="#cce6f0"/>
<rect x="263.10" y="106.49" width="13.20" height="4.54" fill="#1a4e9e"/>
<rect x="275.70" y="106.49" width="6.90" height="4.54" fill="#9ccde0"/>
<rect x="282.00" y="106.49" width="6.90" height="4.54" fill="#3680ba"/>
<rect x="288.30" y="106.49" width="6.90" height="4.54" fill="#62a8ce"/>
<rect x="294.60" y="106.49" width="25.80" height="4.54" fill="#1a4e9e"/>
<rect x="319.80" y="106.49" width="6.90" height="4.54" fill="#62a8ce"/>
<rect x="326.10" y="106.49" width="6.90" height="4.54" fill="#1a4e9e"/>
<rect x="332.40" y="106.49" width="6.90" height="4.54" fill="#08093a"/>
<rect x="338.70" y="106.49" width="6.90" height="4.54" fill="#1a4e9e"/>
<rect x="345.00" y="106.49" width="19.50" height="4.54" fill="#08093a"/>
<rect x="363.90" y="106.49" width="25.80" height="4.54" fill="#1a4e9e"/>
<rect x="389.10" y="106.49" width="19.50" height="4.54" fill="#08093a"/>
<rect x="408.00" y="106.49" width="6.90" height="4.54" fill="#0b1754"/>
<rect x="414.30" y="106.49" width="6.90" height="4.54" fill="#08093a"/>
<rect x="420.60" y="106.49" width="6.90" height="4.54" fill="#0b1754"/>
<rect x="426.90" y="106.49" width="6.90" height="4.54" fill="#0f2d74"/>
<rect x="433.20" y="106.49" width="19.50" height="4.54" fill="#08093a"/>
<rect x="452.10" y="106.49" width="6.90" height="4.54" fill="#0b1754"/>
<rect x="458.40" y="106.49" width="6.90" height="4.54" fill="#0f2d74"/>
<rect x="464.70" y="106.49" width="6.90" height="4.54" fill="#0b1754"/>
<rect x="471.00" y="106.49" width="13.20" height="4.54" fill="#0f2d74"/>
<rect x="483.60" y="106.49" width="6.90" height="4.54" fill="#0b1754"/>
<rect x="489.90" y="106.49" width="6.90" height="4.54" fill="#0f2d74"/>
<rect x="118.20" y="110.42" width="6.90" height="4.54" fill="#f9a698"/>
<rect x="124.50" y="110.42" width="32.10" height="4.54" fill="#ba0d18"/>
<rect x="156.00" y="110.42" width="6.90" height="4.54" fill="#f26452"/>
<rect x="162.30" y="110.42" width="6.90" height="4.54" fill="#e2221e"/>
<rect x="168.60" y="110.42" width="6.90" height="4.54" fill="#fbd6ce"/>
<rect x="174.90" y="110.42" width="6.90" height="4.54" fill="#f9a698"/>
<rect x="181.20" y="110.42" width="6.90" height="4.54" fill="#e2221e"/>
<rect x="187.50" y="110.42" width="6.90" height="4.54" fill="#f8f6f6"/>
<rect x="193.80" y="110.42" width="6.90" height="4.54" fill="#f9a698"/>
<rect x="200.10" y="110.42" width="13.20" height="4.54" fill="#08093a"/>
<rect x="212.70" y="110.42" width="13.20" height="4.54" fill="#0b1754"/>
<rect x="225.30" y="110.42" width="13.20" height="4.54" fill="#9ccde0"/>
<rect x="237.90" y="110.42" width="6.90" height="4.54" fill="#1a4e9e"/>
<rect x="244.20" y="110.42" width="19.50" height="4.54" fill="#9ccde0"/>
<rect x="263.10" y="110.42" width="13.20" height="4.54" fill="#1a4e9e"/>
<rect x="275.70" y="110.42" width="6.90" height="4.54" fill="#62a8ce"/>
<rect x="282.00" y="110.42" width="6.90" height="4.54" fill="#1a4e9e"/>
<rect x="288.30" y="110.42" width="6.90" height="4.54" fill="#3680ba"/>
<rect x="294.60" y="110.42" width="25.80" height="4.54" fill="#1a4e9e"/>
<rect x="319.80" y="110.42" width="13.20" height="4.54" fill="#0b1754"/>
<rect x="332.40" y="110.42" width="6.90" height="4.54" fill="#08093a"/>
<rect x="338.70" y="110.42" width="6.90" height="4.54" fill="#0f2d74"/>
<rect x="345.00" y="110.42" width="19.50" height="4.54" fill="#08093a"/>
<rect x="363.90" y="110.42" width="13.20" height="4.54" fill="#1a4e9e"/>
<rect x="376.50" y="110.42" width="6.90" height="4.54" fill="#f9a698"/>
<rect x="382.80" y="110.42" width="6.90" height="4.54" fill="#0f2d74"/>
<rect x="389.10" y="110.42" width="19.50" height="4.54" fill="#08093a"/>
<rect x="408.00" y="110.42" width="6.90" height="4.54" fill="#0b1754"/>
<rect x="414.30" y="110.42" width="6.90" height="4.54" fill="#08093a"/>
<rect x="420.60" y="110.42" width="13.20" height="4.54" fill="#0b1754"/>
<rect x="433.20" y="110.42" width="19.50" height="4.54" fill="#08093a"/>
<rect x="452.10" y="110.42" width="25.80" height="4.54" fill="#0b1754"/>
<rect x="477.30" y="110.42" width="6.90" height="4.54" fill="#0f2d74"/>
<rect x="483.60" y="110.42" width="6.90" height="4.54" fill="#08093a"/>
<rect x="489.90" y="110.42" width="6.90" height="4.54" fill="#0b1754"/>
<rect x="118.20" y="114.36" width="13.20" height="4.54" fill="#e2221e"/>
<rect x="130.80" y="114.36" width="19.50" height="4.54" fill="#ba0d18"/>
<rect x="149.70" y="114.36" width="6.90" height="4.54" fill="#e2221e"/>
<rect x="156.00" y="114.36" width="6.90" height="4.54" fill="#ba0d18"/>
<rect x="162.30" y="114.36" width="13.20" height="4.54" fill="#fbd6ce"/>
<rect x="174.90" y="114.36" width="6.90" height="4.54" fill="#f26452"/>
<rect x="181.20" y="114.36" width="6.90" height="4.54" fill="#0b1754"/>
<rect x="187.50" y="114.36" width="6.90" height="4.54" fill="#e2221e"/>
<rect x="193.80" y="114.36" width="6.90" height="4.54" fill="#ba0d18"/>
<rect x="200.10" y="114.36" width="13.20" height="4.54" fill="#e2221e"/>
<rect x="212.70" y="114.36" width="6.90" height="4.54" fill="#3680ba"/>
<rect x="219.00" y="114.36" width="6.90" height="4.54" fill="#0b1754"/>
<rect x="225.30" y="114.36" width="6.90" height="4.54" fill="#f9a698"/>
<rect x="231.60" y="114.36" width="6.90" height="4.54" fill="#fbd6ce"/>
<rect x="237.90" y="114.36" width="13.20" height="4.54" fill="#f9a698"/>
<rect x="250.50" y="114.36" width="6.90" height="4.54" fill="#fbd6ce"/>
<rect x="256.80" y="114.36" width="6.90" height="4.54" fill="#9ccde0"/>
<rect x="263.10" y="114.36" width="6.90" height="4.54" fill="#1a4e9e"/>
<rect x="269.40" y="114.36" width="6.90" height="4.54" fill="#3680ba"/>
<rect x="275.70" y="114.36" width="13.20" height="4.54" fill="#9ccde0"/>
<rect x="288.30" y="114.36" width="6.90" height="4.54" fill="#f26452"/>
<rect x="294.60" y="114.36" width="6.90" height="4.54" fill="#3680ba"/>
<rect x="300.90" y="114.36" width="6.90" height="4.54" fill="#1a4e9e"/>
<rect x="307.20" y="114.36" width="13.20" height="4.54" fill="#3680ba"/>
<rect x="319.80" y="114.36" width="6.90" height="4.54" fill="#9ccde0"/>
<rect x="326.10" y="114.36" width="13.20" height="4.54" fill="#0b1754"/>
<rect x="338.70" y="114.36" width="6.90" height="4.54" fill="#1a4e9e"/>
<rect x="345.00" y="114.36" width="19.50" height="4.54" fill="#08093a"/>
<rect x="363.90" y="114.36" width="6.90" height="4.54" fill="#1a4e9e"/>
<rect x="370.20" y="114.36" width="6.90" height="4.54" fill="#f8f6f6"/>
<rect x="376.50" y="114.36" width="13.20" height="4.54" fill="#0f2d74"/>
<rect x="389.10" y="114.36" width="13.20" height="4.54" fill="#08093a"/>
<rect x="401.70" y="114.36" width="6.90" height="4.54" fill="#0f2d74"/>
<rect x="408.00" y="114.36" width="13.20" height="4.54" fill="#08093a"/>
<rect x="420.60" y="114.36" width="6.90" height="4.54" fill="#0f2d74"/>
<rect x="426.90" y="114.36" width="6.90" height="4.54" fill="#0b1754"/>
<rect x="433.20" y="114.36" width="19.50" height="4.54" fill="#08093a"/>
<rect x="452.10" y="114.36" width="6.90" height="4.54" fill="#1a4e9e"/>
<rect x="458.40" y="114.36" width="6.90" height="4.54" fill="#0b1754"/>
<rect x="464.70" y="114.36" width="19.50" height="4.54" fill="#1a4e9e"/>
<rect x="483.60" y="114.36" width="6.90" height="4.54" fill="#0f2d74"/>
<rect x="489.90" y="114.36" width="6.90" height="4.54" fill="#1a4e9e"/>
<rect x="118.20" y="118.29" width="13.20" height="4.54" fill="#8e0a14"/>
<rect x="130.80" y="118.29" width="25.80" height="4.54" fill="#ba0d18"/>
<rect x="156.00" y="118.29" width="6.90" height="4.54" fill="#8e0a14"/>
<rect x="162.30" y="118.29" width="13.20" height="4.54" fill="#e2221e"/>
<rect x="174.90" y="118.29" width="6.90" height="4.54" fill="#fbd6ce"/>
<rect x="181.20" y="118.29" width="6.90" height="4.54" fill="#e2221e"/>
<rect x="187.50" y="118.29" width="6.90" height="4.54" fill="#62a8ce"/>
<rect x="193.80" y="118.29" width="6.90" height="4.54" fill="#ba0d18"/>
<rect x="200.10" y="118.29" width="13.20" height="4.54" fill="#0b1754"/>
<rect x="212.70" y="118.29" width="13.20" height="4.54" fill="#1a4e9e"/>
<rect x="225.30" y="118.29" width="6.90" height="4.54" fill="#ba0d18"/>
<rect x="231.60" y="118.29" width="6.90" height="4.54" fill="#fbd6ce"/>
<rect x="237.90" y="118.29" width="6.90" height="4.54" fill="#3680ba"/>
<rect x="244.20" y="118.29" width="6.90" height="4.54" fill="#62a8ce"/>
<rect x="250.50" y="118.29" width="6.90" height="4.54" fill="#9ccde0"/>
<rect x="256.80" y="118.29" width="6.90" height="4.54" fill="#3680ba"/>
<rect x="263.10" y="118.29" width="6.90" height="4.54" fill="#1a4e9e"/>
<rect x="269.40" y="118.29" width="6.90" height="4.54" fill="#9ccde0"/>
<rect x="275.70" y="118.29" width="6.90" height="4.54" fill="#3680ba"/>
<rect x="282.00" y="118.29" width="6.90" height="4.54" fill="#9ccde0"/>
<rect x="288.30" y="118.29" width="6.90" height="4.54" fill="#62a8ce"/>
<rect x="294.60" y="118.29" width="6.90" height="4.54" fill="#3680ba"/>
<rect x="300.90" y="118.29" width="6.90" height="4.54" fill="#1a4e9e"/>
<rect x="307.20" y="118.29" width="6.90" height="4.54" fill="#3680ba"/>
<rect x="313.50" y="118.29" width="6.90" height="4.54" fill="#1a4e9e"/>
<rect x="319.80" y="118.29" width="6.90" height="4.54" fill="#9ccde0"/>
<rect x="326.10" y="118.29" width="6.90" height="4.54" fill="#62a8ce"/>
<rect x="332.40" y="118.29" width="6.90" height="4.54" fill="#0b1754"/>
<rect x="338.70" y="118.29" width="6.90" height="4.54" fill="#0f2d74"/>
<rect x="345.00" y="118.29" width="19.50" height="4.54" fill="#08093a"/>
<rect x="363.90" y="118.29" width="19.50" height="4.54" fill="#1a4e9e"/>
<rect x="382.80" y="118.29" width="6.90" height="4.54" fill="#0f2d74"/>
<rect x="389.10" y="118.29" width="19.50" height="4.54" fill="#08093a"/>
<rect x="408.00" y="118.29" width="6.90" height="4.54" fill="#0b1754"/>
<rect x="414.30" y="118.29" width="6.90" height="4.54" fill="#08093a"/>
<rect x="420.60" y="118.29" width="6.90" height="4.54" fill="#0f2d74"/>
<rect x="426.90" y="118.29" width="6.90" height="4.54" fill="#0b1754"/>
<rect x="433.20" y="118.29" width="13.20" height="4.54" fill="#08093a"/>
<rect x="445.80" y="118.29" width="6.90" height="4.54" fill="#0b1754"/>
<rect x="452.10" y="118.29" width="6.90" height="4.54" fill="#08093a"/>
<rect x="458.40" y="118.29" width="6.90" height="4.54" fill="#0b1754"/>
<rect x="464.70" y="118.29" width="19.50" height="4.54" fill="#1a4e9e"/>
<rect x="483.60" y="118.29" width="6.90" height="4.54" fill="#0f2d74"/>
<rect x="489.90" y="118.29" width="6.90" height="4.54" fill="#1a4e9e"/>
<rect x="118.20" y="122.22" width="6.90" height="4.54" fill="#0b1754"/>
<rect x="124.50" y="122.22" width="25.80" height="4.54" fill="#ba0d18"/>
<rect x="149.70" y="122.22" width="6.90" height="4.54" fill="#e2221e"/>
<rect x="156.00" y="122.22" width="6.90" height="4.54" fill="#8e0a14"/>
<rect x="162.30" y="122.22" width="6.90" height="4.54" fill="#e2221e"/>
<rect x="168.60" y="122.22" width="13.20" height="4.54" fill="#f9a698"/>
<rect x="181.20" y="122.22" width="6.90" height="4.54" fill="#e2221e"/>
<rect x="187.50" y="122.22" width="6.90" height="4.54" fill="#ba0d18"/>
<rect x="193.80" y="122.22" width="6.90" height="4.54" fill="#e2221e"/>
<rect x="200.10" y="122.22" width="6.90" height="4.54" fill="#8e0a14"/>
<rect x="206.40" y="122.22" width="6.90" height="4.54" fill="#e2221e"/>
<rect x="212.70" y="122.22" width="6.90" height="4.54" fill="#9ccde0"/>
<rect x="219.00" y="122.22" width="6.90" height="4.54" fill="#3680ba"/>
<rect x="225.30" y="122.22" width="19.50" height="4.54" fill="#f26452"/>
<rect x="244.20" y="122.22" width="6.90" height="4.54" fill="#e2221e"/>
<rect x="250.50" y="122.22" width="13.20" height="4.54" fill="#cce6f0"/>
<rect x="263.10" y="122.22" width="6.90" height="4.54" fill="#1a4e9e"/>
<rect x="269.40" y="122.22" width="6.90" height="4.54" fill="#3680ba"/>
<rect x="275.70" y="122.22" width="6.90" height="4.54" fill="#9ccde0"/>
<rect x="282.00" y="122.22" width="6.90" height="4.54" fill="#3680ba"/>
<rect x="288.30" y="122.22" width="6.90" height="4.54" fill="#f8f6f6"/>
<rect x="294.60" y="122.22" width="6.90" height="4.54" fill="#62a8ce"/>
<rect x="300.90" y="122.22" width="19.50" height="4.54" fill="#3680ba"/>
<rect x="319.80" y="122.22" width="6.90" height="4.54" fill="#9ccde0"/>
<rect x="326.10" y="122.22" width="6.90" height="4.54" fill="#3680ba"/>
<rect x="332.40" y="122.22" width="6.90" height="4.54" fill="#0b1754"/>
<rect x="338.70" y="122.22" width="6.90" height="4.54" fill="#5e0410"/>
<rect x="345.00" y="122.22" width="19.50" height="4.54" fill="#08093a"/>
<rect x="363.90" y="122.22" width="6.90" height="4.54" fill="#62a8ce"/>
<rect x="370.20" y="122.22" width="6.90" height="4.54" fill="#e2221e"/>
<rect x="376.50" y="122.22" width="6.90" height="4.54" fill="#0f2d74"/>
<rect x="382.80" y="122.22" width="6.90" height="4.54" fill="#08093a"/>
<rect x="389.10" y="122.22" width="6.90" height="4.54" fill="#f9a698"/>
<rect x="395.40" y="122.22" width="6.90" height="4.54" fill="#08093a"/>
<rect x="401.70" y="122.22" width="6.90" height="4.54" fill="#0f2d74"/>
<rect x="408.00" y="122.22" width="13.20" height="4.54" fill="#08093a"/>
<rect x="420.60" y="122.22" width="13.20" height="4.54" fill="#0b1754"/>
<rect x="433.20" y="122.22" width="6.90" height="4.54" fill="#08093a"/>
<rect x="439.50" y="122.22" width="13.20" height="4.54" fill="#0b1754"/>
<rect x="452.10" y="122.22" width="13.20" height="4.54" fill="#1a4e9e"/>
<rect x="464.70" y="122.22" width="6.90" height="4.54" fill="#3680ba"/>
<rect x="471.00" y="122.22" width="13.20" height="4.54" fill="#1a4e9e"/>
<rect x="483.60" y="122.22" width="6.90" height="4.54" fill="#0f2d74"/>
<rect x="489.90" y="122.22" width="6.90" height="4.54" fill="#1a4e9e"/>
<rect x="118.20" y="126.16" width="6.90" height="4.54" fill="#1a4e9e"/>
<rect x="124.50" y="126.16" width="25.80" height="4.54" fill="#ba0d18"/>
<rect x="149.70" y="126.16" width="6.90" height="4.54" fill="#fbd6ce"/>
<rect x="156.00" y="126.16" width="6.90" height="4.54" fill="#8e0a14"/>
<rect x="162.30" y="126.16" width="6.90" height="4.54" fill="#e2221e"/>
<rect x="168.60" y="126.16" width="6.90" height="4.54" fill="#cce6f0"/>
<rect x="174.90" y="126.16" width="6.90" height="4.54" fill="#f9a698"/>
<rect x="181.20" y="126.16" width="6.90" height="4.54" fill="#f26452"/>
<rect x="187.50" y="126.16" width="6.90" height="4.54" fill="#1a4e9e"/>
<rect x="193.80" y="126.16" width="6.90" height="4.54" fill="#0b1754"/>
<rect x="200.10" y="126.16" width="13.20" height="4.54" fill="#08093a"/>
<rect x="212.70" y="126.16" width="13.20" height="4.54" fill="#0b1754"/>
<rect x="225.30" y="126.16" width="13.20" height="4.54" fill="#08093a"/>
<rect x="237.90" y="126.16" width="6.90" height="4.54" fill="#1a4e9e"/>
<rect x="244.20" y="126.16" width="6.90" height="4.54" fill="#0b1754"/>
<rect x="250.50" y="126.16" width="13.20" height="4.54" fill="#62a8ce"/>
<rect x="263.10" y="126.16" width="13.20" height="4.54" fill="#1a4e9e"/>
<rect x="275.70" y="126.16" width="6.90" height="4.54" fill="#3680ba"/>
<rect x="282.00" y="126.16" width="13.20" height="4.54" fill="#9ccde0"/>
<rect x="294.60" y="126.16" width="13.20" height="4.54" fill="#3680ba"/>
<rect x="307.20" y="126.16" width="13.20" height="4.54" fill="#9ccde0"/>
<rect x="319.80" y="126.16" width="6.90" height="4.54" fill="#62a8ce"/>
<rect x="326.10" y="126.16" width="13.20" height="4.54" fill="#0b1754"/>
<rect x="338.70" y="126.16" width="6.90" height="4.54" fill="#0f2d74"/>
<rect x="345.00" y="126.16" width="19.50" height="4.54" fill="#08093a"/>
<rect x="363.90" y="126.16" width="6.90" height="4.54" fill="#3680ba"/>
<rect x="370.20" y="126.16" width="6.90" height="4.54" fill="#08093a"/>
<rect x="376.50" y="126.16" width="6.90" height="4.54" fill="#cce6f0"/>
<rect x="382.80" y="126.16" width="6.90" height="4.54" fill="#0f2d74"/>
<rect x="389.10" y="126.16" width="19.50" height="4.54" fill="#08093a"/>
<rect x="408.00" y="126.16" width="6.90" height="4.54" fill="#1a4e9e"/>
<rect x="414.30" y="126.16" width="6.90" height="4.54" fill="#0b1754"/>
<rect x="420.60" y="126.16" width="6.90" height="4.54" fill="#3680ba"/>
<rect x="426.90" y="126.16" width="6.90" height="4.54" fill="#1a4e9e"/>
<rect x="433.20" y="126.16" width="6.90" height="4.54" fill="#0b1754"/>
<rect x="439.50" y="126.16" width="13.20" height="4.54" fill="#3680ba"/>
<rect x="452.10" y="126.16" width="6.90" height="4.54" fill="#1a4e9e"/>
<rect x="458.40" y="126.16" width="6.90" height="4.54" fill="#8e0a14"/>
<rect x="464.70" y="126.16" width="6.90" height="4.54" fill="#f8f6f6"/>
<rect x="471.00" y="126.16" width="13.20" height="4.54" fill="#1a4e9e"/>
<rect x="483.60" y="126.16" width="6.90" height="4.54" fill="#0f2d74"/>
<rect x="489.90" y="126.16" width="6.90" height="4.54" fill="#1a4e9e"/>
<rect x="118.20" y="130.09" width="6.90" height="4.54" fill="#5e0410"/>
<rect x="124.50" y="130.09" width="38.40" height="4.54" fill="#8e0a14"/>
<rect x="162.30" y="130.09" width="6.90" height="4.54" fill="#f26452"/>
<rect x="168.60" y="130.09" width="6.90" height="4.54" fill="#e2221e"/>
<rect x="174.90" y="130.09" width="6.90" height="4.54" fill="#f9a698"/>
<rect x="181.20" y="130.09" width="6.90" height="4.54" fill="#e2221e"/>
<rect x="187.50" y="130.09" width="6.90" height="4.54" fill="#8e0a14"/>
<rect x="193.80" y="130.09" width="6.90" height="4.54" fill="#e2221e"/>
<rect x="200.10" y="130.09" width="6.90" height="4.54" fill="#ba0d18"/>
<rect x="206.40" y="130.09" width="19.50" height="4.54" fill="#e2221e"/>
<rect x="225.30" y="130.09" width="6.90" height="4.54" fill="#f26452"/>
<rect x="231.60" y="130.09" width="6.90" height="4.54" fill="#e2221e"/>
<rect x="237.90" y="130.09" width="19.50" height="4.54" fill="#cce6f0"/>
<rect x="256.80" y="130.09" width="6.90" height="4.54" fill="#f26452"/>
<rect x="263.10" y="130.09" width="25.80" height="4.54" fill="#9ccde0"/>
<rect x="288.30" y="130.09" width="6.90" height="4.54" fill="#62a8ce"/>
<rect x="294.60" y="130.09" width="6.90" height="4.54" fill="#1a4e9e"/>
<rect x="300.90" y="130.09" width="6.90" height="4.54" fill="#62a8ce"/>
<rect x="307.20" y="130.09" width="6.90" height="4.54" fill="#9ccde0"/>
<rect x="313.50" y="130.09" width="6.90" height="4.54" fill="#62a8ce"/>
<rect x="319.80" y="130.09" width="6.90" height="4.54" fill="#cce6f0"/>
<rect x="326.10" y="130.09" width="6.90" height="4.54" fill="#9ccde0"/>
<rect x="332.40" y="130.09" width="6.90" height="4.54" fill="#3680ba"/>
<rect x="338.70" y="130.09" width="6.90" height="4.54" fill="#0f2d74"/>
<rect x="345.00" y="130.09" width="19.50" height="4.54" fill="#08093a"/>
<rect x="363.90" y="130.09" width="19.50" height="4.54" fill="#1a4e9e"/>
<rect x="382.80" y="130.09" width="6.90" height="4.54" fill="#0f2d74"/>
<rect x="389.10" y="130.09" width="6.90" height="4.54" fill="#9ccde0"/>
<rect x="395.40" y="130.09" width="25.80" height="4.54" fill="#08093a"/>
<rect x="420.60" y="130.09" width="6.90" height="4.54" fill="#0b1754"/>
<rect x="426.90" y="130.09" width="6.90" height="4.54" fill="#0f2d74"/>
<rect x="433.20" y="130.09" width="6.90" height="4.54" fill="#1a4e9e"/>
<rect x="439.50" y="130.09" width="6.90" height="4.54" fill="#0f2d74"/>
<rect x="445.80" y="130.09" width="6.90" height="4.54" fill="#0b1754"/>
<rect x="452.10" y="130.09" width="13.20" height="4.54" fill="#1a4e9e"/>
<rect x="464.70" y="130.09" width="6.90" height="4.54" fill="#0b1754"/>
<rect x="471.00" y="130.09" width="13.20" height="4.54" fill="#1a4e9e"/>
<rect x="483.60" y="130.09" width="13.20" height="4.54" fill="#0f2d74"/>
<rect x="118.20" y="134.03" width="6.90" height="4.54" fill="#ba0d18"/>
<rect x="124.50" y="134.03" width="19.50" height="4.54" fill="#8e0a14"/>
<rect x="143.40" y="134.03" width="6.90" height="4.54" fill="#5e0410"/>
<rect x="149.70" y="134.03" width="13.20" height="4.54" fill="#ba0d18"/>
<rect x="162.30" y="134.03" width="6.90" height="4.54" fill="#e2221e"/>
<rect x="168.60" y="134.03" width="6.90" height="4.54" fill="#f9a698"/>
<rect x="174.90" y="134.03" width="6.90" height="4.54" fill="#e2221e"/>
<rect x="181.20" y="134.03" width="6.90" height="4.54" fill="#f9a698"/>
<rect x="187.50" y="134.03" width="6.90" height="4.54" fill="#f26452"/>
<rect x="193.80" y="134.03" width="6.90" height="4.54" fill="#f9a698"/>
<rect x="200.10" y="134.03" width="6.90" height="4.54" fill="#e2221e"/>
<rect x="206.40" y="134.03" width="6.90" height="4.54" fill="#ba0d18"/>
<rect x="212.70" y="134.03" width="19.50" height="4.54" fill="#f26452"/>
<rect x="231.60" y="134.03" width="6.90" height="4.54" fill="#e2221e"/>
<rect x="237.90" y="134.03" width="19.50" height="4.54" fill="#9ccde0"/>
<rect x="256.80" y="134.03" width="6.90" height="4.54" fill="#f26452"/>
<rect x="263.10" y="134.03" width="6.90" height="4.54" fill="#9ccde0"/>
<rect x="269.40" y="134.03" width="6.90" height="4.54" fill="#3680ba"/>
<rect x="275.70" y="134.03" width="6.90" height="4.54" fill="#cce6f0"/>
<rect x="282.00" y="134.03" width="13.20" height="4.54" fill="#9ccde0"/>
<rect x="294.60" y="134.03" width="6.90" height="4.54" fill="#1a4e9e"/>
<rect x="300.90" y="134.03" width="6.90" height="4.54" fill="#9ccde0"/>
<rect x="307.20" y="134.03" width="6.90" height="4.54" fill="#62a8ce"/>
<rect x="313.50" y="134.03" width="6.90" height="4.54" fill="#3680ba"/>
<rect x="319.80" y="134.03" width="6.90" height="4.54" fill="#f26452"/>
<rect x="326.10" y="134.03" width="6.90" height="4.54" fill="#9ccde0"/>
<rect x="332.40" y="134.03" width="6.90" height="4.54" fill="#3680ba"/>
<rect x="338.70" y="134.03" width="6.90" height="4.54" fill="#0f2d74"/>
<rect x="345.00" y="134.03" width="32.10" height="4.54" fill="#08093a"/>
<rect x="376.50" y="134.03" width="6.90" height="4.54" fill="#9ccde0"/>
<rect x="382.80" y="134.03" width="19.50" height="4.54" fill="#08093a"/>
<rect x="401.70" y="134.03" width="13.20" height="4.54" fill="#1a4e9e"/>
<rect x="414.30" y="134.03" width="6.90" height="4.54" fill="#08093a"/>
<rect x="420.60" y="134.03" width="6.90" height="4.54" fill="#0b1754"/>
<rect x="426.90" y="134.03" width="6.90" height="4.54" fill="#0f2d74"/>
<rect x="433.20" y="134.03" width="6.90" height="4.54" fill="#1a4e9e"/>
<rect x="439.50" y="134.03" width="6.90" height="4.54" fill="#0f2d74"/>
<rect x="445.80" y="134.03" width="6.90" height="4.54" fill="#0b1754"/>
<rect x="452.10" y="134.03" width="6.90" height="4.54" fill="#08093a"/>
<rect x="458.40" y="134.03" width="6.90" height="4.54" fill="#3680ba"/>
<rect x="464.70" y="134.03" width="6.90" height="4.54" fill="#08093a"/>
<rect x="471.00" y="134.03" width="6.90" height="4.54" fill="#3680ba"/>
<rect x="477.30" y="134.03" width="6.90" height="4.54" fill="#1a4e9e"/>
<rect x="483.60" y="134.03" width="13.20" height="4.54" fill="#0f2d74"/>
<rect x="118.20" y="137.97" width="6.90" height="4.54" fill="#f9a698"/>
<rect x="124.50" y="137.97" width="13.20" height="4.54" fill="#ba0d18"/>
<rect x="137.10" y="137.97" width="6.90" height="4.54" fill="#8e0a14"/>
<rect x="143.40" y="137.97" width="6.90" height="4.54" fill="#ba0d18"/>
<rect x="149.70" y="137.97" width="6.90" height="4.54" fill="#f26452"/>
<rect x="156.00" y="137.97" width="6.90" height="4.54" fill="#ba0d18"/>
<rect x="162.30" y="137.97" width="6.90" height="4.54" fill="#f26452"/>
<rect x="168.60" y="137.97" width="6.90" height="4.54" fill="#fbd6ce"/>
<rect x="174.90" y="137.97" width="6.90" height="4.54" fill="#08093a"/>
<rect x="181.20" y="137.97" width="13.20" height="4.54" fill="#e2221e"/>
<rect x="193.80" y="137.97" width="6.90" height="4.54" fill="#f26452"/>
<rect x="200.10" y="137.97" width="6.90" height="4.54" fill="#9ccde0"/>
<rect x="206.40" y="137.97" width="6.90" height="4.54" fill="#ba0d18"/>
<rect x="212.70" y="137.97" width="6.90" height="4.54" fill="#62a8ce"/>
<rect x="219.00" y="137.97" width="6.90" height="4.54" fill="#f26452"/>
<rect x="225.30" y="137.97" width="13.20" height="4.54" fill="#f9a698"/>
<rect x="237.90" y="137.97" width="6.90" height="4.54" fill="#cce6f0"/>
<rect x="244.20" y="137.97" width="6.90" height="4.54" fill="#f9a698"/>
<rect x="250.50" y="137.97" width="6.90" height="4.54" fill="#cce6f0"/>
<rect x="256.80" y="137.97" width="6.90" height="4.54" fill="#f9a698"/>
<rect x="263.10" y="137.97" width="6.90" height="4.54" fill="#62a8ce"/>
<rect x="269.40" y="137.97" width="6.90" height="4.54" fill="#3680ba"/>
<rect x="275.70" y="137.97" width="6.90" height="4.54" fill="#1a4e9e"/>
<rect x="282.00" y="137.97" width="6.90" height="4.54" fill="#62a8ce"/>
<rect x="288.30" y="137.97" width="6.90" height="4.54" fill="#3680ba"/>
<rect x="294.60" y="137.97" width="6.90" height="4.54" fill="#1a4e9e"/>
<rect x="300.90" y="137.97" width="6.90" height="4.54" fill="#3680ba"/>
<rect x="307.20" y="137.97" width="6.90" height="4.54" fill="#62a8ce"/>
<rect x="313.50" y="137.97" width="6.90" height="4.54" fill="#3680ba"/>
<rect x="319.80" y="137.97" width="6.90" height="4.54" fill="#9ccde0"/>
<rect x="326.10" y="137.97" width="6.90" height="4.54" fill="#62a8ce"/>
<rect x="332.40" y="137.97" width="13.20" height="4.54" fill="#1a4e9e"/>
<rect x="345.00" y="137.97" width="13.20" height="4.54" fill="#08093a"/>
<rect x="357.60" y="137.97" width="13.20" height="4.54" fill="#0b1754"/>
<rect x="370.20" y="137.97" width="6.90" height="4.54" fill="#0f2d74"/>
<rect x="376.50" y="137.97" width="6.90" height="4.54" fill="#1a4e9e"/>
<rect x="382.80" y="137.97" width="6.90" height="4.54" fill="#0f2d74"/>
<rect x="389.10" y="137.97" width="32.10" height="4.54" fill="#08093a"/>
<rect x="420.60" y="137.97" width="13.20" height="4.54" fill="#0b1754"/>
<rect x="433.20" y="137.97" width="6.90" height="4.54" fill="#3680ba"/>
<rect x="439.50" y="137.97" width="13.20" height="4.54" fill="#0b1754"/>
<rect x="452.10" y="137.97" width="13.20" height="4.54" fill="#1a4e9e"/>
<rect x="464.70" y="137.97" width="6.90" height="4.54" fill="#08093a"/>
<rect x="471.00" y="137.97" width="6.90" height="4.54" fill="#1a4e9e"/>
<rect x="477.30" y="137.97" width="6.90" height="4.54" fill="#0f2d74"/>
<rect x="483.60" y="137.97" width="6.90" height="4.54" fill="#0b1754"/>
<rect x="489.90" y="137.97" width="6.90" height="4.54" fill="#0f2d74"/>
<rect x="118.20" y="141.90" width="6.90" height="4.54" fill="#e2221e"/>
<rect x="124.50" y="141.90" width="25.80" height="4.54" fill="#ba0d18"/>
<rect x="149.70" y="141.90" width="6.90" height="4.54" fill="#9ccde0"/>
<rect x="156.00" y="141.90" width="6.90" height="4.54" fill="#ba0d18"/>
<rect x="162.30" y="141.90" width="6.90" height="4.54" fill="#e2221e"/>
<rect x="168.60" y="141.90" width="6.90" height="4.54" fill="#f8f6f6"/>
<rect x="174.90" y="141.90" width="13.20" height="4.54" fill="#f9a698"/>
<rect x="187.50" y="141.90" width="6.90" height="4.54" fill="#f8f6f6"/>
<rect x="193.80" y="141.90" width="6.90" height="4.54" fill="#0b1754"/>
<rect x="200.10" y="141.90" width="6.90" height="4.54" fill="#08093a"/>
<rect x="206.40" y="141.90" width="6.90" height="4.54" fill="#fbd6ce"/>
<rect x="212.70" y="141.90" width="6.90" height="4.54" fill="#3680ba"/>
<rect x="219.00" y="141.90" width="6.90" height="4.54" fill="#1a4e9e"/>
<rect x="225.30" y="141.90" width="13.20" height="4.54" fill="#0b1754"/>
<rect x="237.90" y="141.90" width="6.90" height="4.54" fill="#1a4e9e"/>
<rect x="244.20" y="141.90" width="6.90" height="4.54" fill="#0b1754"/>
<rect x="250.50" y="141.90" width="13.20" height="4.54" fill="#9ccde0"/>
<rect x="263.10" y="141.90" width="13.20" height="4.54" fill="#1a4e9e"/>
<rect x="275.70" y="141.90" width="6.90" height="4.54" fill="#9ccde0"/>
<rect x="282.00" y="141.90" width="6.90" height="4.54" fill="#1a4e9e"/>
<rect x="288.30" y="141.90" width="6.90" height="4.54" fill="#0b1754"/>
<rect x="294.60" y="141.90" width="6.90" height="4.54" fill="#62a8ce"/>
<rect x="300.90" y="141.90" width="6.90" height="4.54" fill="#0b1754"/>
<rect x="307.20" y="141.90" width="6.90" height="4.54" fill="#1a4e9e"/>
<rect x="313.50" y="141.90" width="6.90" height="4.54" fill="#0b1754"/>
<rect x="319.80" y="141.90" width="6.90" height="4.54" fill="#1a4e9e"/>
<rect x="326.10" y="141.90" width="6.90" height="4.54" fill="#0b1754"/>
<rect x="332.40" y="141.90" width="6.90" height="4.54" fill="#1a4e9e"/>
<rect x="338.70" y="141.90" width="6.90" height="4.54" fill="#0f2d74"/>
<rect x="345.00" y="141.90" width="13.20" height="4.54" fill="#08093a"/>
<rect x="357.60" y="141.90" width="6.90" height="4.54" fill="#3680ba"/>
<rect x="363.90" y="141.90" width="6.90" height="4.54" fill="#0b1754"/>
<rect x="370.20" y="141.90" width="6.90" height="4.54" fill="#0f2d74"/>
<rect x="376.50" y="141.90" width="6.90" height="4.54" fill="#08093a"/>
<rect x="382.80" y="141.90" width="6.90" height="4.54" fill="#0b1754"/>
<rect x="389.10" y="141.90" width="32.10" height="4.54" fill="#08093a"/>
<rect x="420.60" y="141.90" width="19.50" height="4.54" fill="#0b1754"/>
<rect x="439.50" y="141.90" width="13.20" height="4.54" fill="#08093a"/>
<rect x="452.10" y="141.90" width="13.20" height="4.54" fill="#0b1754"/>
<rect x="464.70" y="141.90" width="6.90" height="4.54" fill="#08093a"/>
<rect x="471.00" y="141.90" width="19.50" height="4.54" fill="#0b1754"/>
<rect x="489.90" y="141.90" width="6.90" height="4.54" fill="#0f2d74"/>
<rect x="118.20" y="145.84" width="6.90" height="4.54" fill="#f8f6f6"/>
<rect x="124.50" y="145.84" width="6.90" height="4.54" fill="#3680ba"/>
<rect x="130.80" y="145.84" width="6.90" height="4.54" fill="#f26452"/>
<rect x="137.10" y="145.84" width="13.20" height="4.54" fill="#f9a698"/>
<rect x="149.70" y="145.84" width="6.90" height="4.54" fill="#f26452"/>
<rect x="156.00" y="145.84" width="6.90" height="4.54" fill="#fbd6ce"/>
<rect x="162.30" y="145.84" width="6.90" height="4.54" fill="#e2221e"/>
<rect x="168.60" y="145.84" width="6.90" height="4.54" fill="#3680ba"/>
<rect x="174.90" y="145.84" width="6.90" height="4.54" fill="#fbd6ce"/>
<rect x="181.20" y="145.84" width="13.20" height="4.54" fill="#08093a"/>
<rect x="193.80" y="145.84" width="6.90" height="4.54" fill="#0b1754"/>
<rect x="200.10" y="145.84" width="13.20" height="4.54" fill="#08093a"/>
<rect x="212.70" y="145.84" width="13.20" height="4.54" fill="#0b1754"/>
<rect x="225.30" y="145.84" width="25.80" height="4.54" fill="#08093a"/>
<rect x="250.50" y="145.84" width="6.90" height="4.54" fill="#3680ba"/>
<rect x="256.80" y="145.84" width="13.20" height="4.54" fill="#1a4e9e"/>
<rect x="269.40" y="145.84" width="13.20" height="4.54" fill="#0b1754"/>
<rect x="282.00" y="145.84" width="6.90" height="4.54" fill="#1a4e9e"/>
<rect x="288.30" y="145.84" width="6.90" height="4.54" fill="#08093a"/>
<rect x="294.60" y="145.84" width="6.90" height="4.54" fill="#0b1754"/>
<rect x="300.90" y="145.84" width="6.90" height="4.54" fill="#08093a"/>
<rect x="307.20" y="145.84" width="6.90" height="4.54" fill="#1a4e9e"/>
<rect x="313.50" y="145.84" width="6.90" height="4.54" fill="#08093a"/>
<rect x="319.80" y="145.84" width="6.90" height="4.54" fill="#0b1754"/>
<rect x="326.10" y="145.84" width="6.90" height="4.54" fill="#08093a"/>
<rect x="332.40" y="145.84" width="13.20" height="4.54" fill="#0b1754"/>
<rect x="345.00" y="145.84" width="13.20" height="4.54" fill="#08093a"/>
<rect x="357.60" y="145.84" width="6.90" height="4.54" fill="#1a4e9e"/>
<rect x="363.90" y="145.84" width="13.20" height="4.54" fill="#08093a"/>
<rect x="376.50" y="145.84" width="6.90" height="4.54" fill="#0b1754"/>
<rect x="382.80" y="145.84" width="38.40" height="4.54" fill="#08093a"/>
<rect x="420.60" y="145.84" width="19.50" height="4.54" fill="#0b1754"/>
<rect x="439.50" y="145.84" width="32.10" height="4.54" fill="#08093a"/>
<rect x="471.00" y="145.84" width="13.20" height="4.54" fill="#0b1754"/>
<rect x="483.60" y="145.84" width="6.90" height="4.54" fill="#08093a"/>
<rect x="489.90" y="145.84" width="6.90" height="4.54" fill="#0b1754"/>
<rect x="118.20" y="149.77" width="6.90" height="4.54" fill="#fbd6ce"/>
<rect x="124.50" y="149.77" width="6.90" height="4.54" fill="#0b1754"/>
<rect x="130.80" y="149.77" width="13.20" height="4.54" fill="#e2221e"/>
<rect x="143.40" y="149.77" width="6.90" height="4.54" fill="#f26452"/>
<rect x="149.70" y="149.77" width="6.90" height="4.54" fill="#62a8ce"/>
<rect x="156.00" y="149.77" width="6.90" height="4.54" fill="#fbd6ce"/>
<rect x="162.30" y="149.77" width="6.90" height="4.54" fill="#f26452"/>
<rect x="168.60" y="149.77" width="6.90" height="4.54" fill="#3680ba"/>
<rect x="174.90" y="149.77" width="6.90" height="4.54" fill="#f8f6f6"/>
<rect x="181.20" y="149.77" width="69.90" height="4.54" fill="#08093a"/>
<rect x="250.50" y="149.77" width="6.90" height="4.54" fill="#0b1754"/>
<rect x="256.80" y="149.77" width="6.90" height="4.54" fill="#3680ba"/>
<rect x="263.10" y="149.77" width="6.90" height="4.54" fill="#0b1754"/>
<rect x="269.40" y="149.77" width="13.20" height="4.54" fill="#08093a"/>
<rect x="282.00" y="149.77" width="13.20" height="4.54" fill="#0b1754"/>
<rect x="294.60" y="149.77" width="6.90" height="4.54" fill="#1a4e9e"/>
<rect x="300.90" y="149.77" width="6.90" height="4.54" fill="#0b1754"/>
<rect x="307.20" y="149.77" width="6.90" height="4.54" fill="#1a4e9e"/>
<rect x="313.50" y="149.77" width="6.90" height="4.54" fill="#08093a"/>
<rect x="319.80" y="149.77" width="25.80" height="4.54" fill="#0b1754"/>
<rect x="345.00" y="149.77" width="13.20" height="4.54" fill="#08093a"/>
<rect x="357.60" y="149.77" width="6.90" height="4.54" fill="#62a8ce"/>
<rect x="363.90" y="149.77" width="13.20" height="4.54" fill="#08093a"/>
<rect x="376.50" y="149.77" width="6.90" height="4.54" fill="#1a4e9e"/>
<rect x="382.80" y="149.77" width="6.90" height="4.54" fill="#0b1754"/>
<rect x="389.10" y="149.77" width="32.10" height="4.54" fill="#08093a"/>
<rect x="420.60" y="149.77" width="6.90" height="4.54" fill="#0b1754"/>
<rect x="426.90" y="149.77" width="6.90" height="4.54" fill="#08093a"/>
<rect x="433.20" y="149.77" width="6.90" height="4.54" fill="#0f2d74"/>
<rect x="439.50" y="149.77" width="32.10" height="4.54" fill="#08093a"/>
<rect x="471.00" y="149.77" width="13.20" height="4.54" fill="#0b1754"/>
<rect x="483.60" y="149.77" width="6.90" height="4.54" fill="#f8f6f6"/>
<rect x="489.90" y="149.77" width="6.90" height="4.54" fill="#0b1754"/>
<rect x="118.20" y="153.70" width="19.50" height="4.54" fill="#ba0d18"/>
<rect x="137.10" y="153.70" width="19.50" height="4.54" fill="#e2221e"/>
<rect x="156.00" y="153.70" width="6.90" height="4.54" fill="#9ccde0"/>
<rect x="162.30" y="153.70" width="6.90" height="4.54" fill="#e2221e"/>
<rect x="168.60" y="153.70" width="6.90" height="4.54" fill="#f9a698"/>
<rect x="174.90" y="153.70" width="6.90" height="4.54" fill="#1a4e9e"/>
<rect x="181.20" y="153.70" width="6.90" height="4.54" fill="#e2221e"/>
<rect x="187.50" y="153.70" width="6.90" height="4.54" fill="#8e0a14"/>
<rect x="193.80" y="153.70" width="13.20" height="4.54" fill="#e2221e"/>
<rect x="206.40" y="153.70" width="6.90" height="4.54" fill="#f26452"/>
<rect x="212.70" y="153.70" width="6.90" height="4.54" fill="#62a8ce"/>
<rect x="219.00" y="153.70" width="6.90" height="4.54" fill="#e2221e"/>
<rect x="225.30" y="153.70" width="6.90" height="4.54" fill="#f9a698"/>
<rect x="231.60" y="153.70" width="6.90" height="4.54" fill="#f26452"/>
<rect x="237.90" y="153.70" width="6.90" height="4.54" fill="#fbd6ce"/>
<rect x="244.20" y="153.70" width="6.90" height="4.54" fill="#f26452"/>
<rect x="250.50" y="153.70" width="13.20" height="4.54" fill="#cce6f0"/>
<rect x="263.10" y="153.70" width="6.90" height="4.54" fill="#1a4e9e"/>
<rect x="269.40" y="153.70" width="6.90" height="4.54" fill="#62a8ce"/>
<rect x="275.70" y="153.70" width="13.20" height="4.54" fill="#9ccde0"/>
<rect x="288.30" y="153.70" width="6.90" height="4.54" fill="#f8f6f6"/>
<rect x="294.60" y="153.70" width="13.20" height="4.54" fill="#3680ba"/>
<rect x="307.20" y="153.70" width="6.90" height="4.54" fill="#1a4e9e"/>
<rect x="313.50" y="153.70" width="6.90" height="4.54" fill="#3680ba"/>
<rect x="319.80" y="153.70" width="13.20" height="4.54" fill="#62a8ce"/>
<rect x="332.40" y="153.70" width="6.90" height="4.54" fill="#1a4e9e"/>
<rect x="338.70" y="153.70" width="6.90" height="4.54" fill="#0f2d74"/>
<rect x="345.00" y="153.70" width="13.20" height="4.54" fill="#08093a"/>
<rect x="357.60" y="153.70" width="6.90" height="4.54" fill="#0f2d74"/>
<rect x="363.90" y="153.70" width="6.90" height="4.54" fill="#3680ba"/>
<rect x="370.20" y="153.70" width="19.50" height="4.54" fill="#1a4e9e"/>
<rect x="389.10" y="153.70" width="6.90" height="4.54" fill="#08093a"/>
<rect x="395.40" y="153.70" width="6.90" height="4.54" fill="#f9a698"/>
<rect x="401.70" y="153.70" width="19.50" height="4.54" fill="#08093a"/>
<rect x="420.60" y="153.70" width="13.20" height="4.54" fill="#0b1754"/>
<rect x="433.20" y="153.70" width="6.90" height="4.54" fill="#1a4e9e"/>
<rect x="439.50" y="153.70" width="6.90" height="4.54" fill="#08093a"/>
<rect x="445.80" y="153.70" width="6.90" height="4.54" fill="#0b1754"/>
<rect x="452.10" y="153.70" width="6.90" height="4.54" fill="#1a4e9e"/>
<rect x="458.40" y="153.70" width="6.90" height="4.54" fill="#0f2d74"/>
<rect x="464.70" y="153.70" width="6.90" height="4.54" fill="#08093a"/>
<rect x="471.00" y="153.70" width="6.90" height="4.54" fill="#0b1754"/>
<rect x="477.30" y="153.70" width="13.20" height="4.54" fill="#0f2d74"/>
<rect x="489.90" y="153.70" width="6.90" height="4.54" fill="#1a4e9e"/>
<rect x="118.20" y="157.64" width="6.90" height="4.54" fill="#f26452"/>
<rect x="124.50" y="157.64" width="19.50" height="4.54" fill="#ba0d18"/>
<rect x="143.40" y="157.64" width="13.20" height="4.54" fill="#e2221e"/>
<rect x="156.00" y="157.64" width="6.90" height="4.54" fill="#f9a698"/>
<rect x="162.30" y="157.64" width="6.90" height="4.54" fill="#e2221e"/>
<rect x="168.60" y="157.64" width="6.90" height="4.54" fill="#fbd6ce"/>
<rect x="174.90" y="157.64" width="6.90" height="4.54" fill="#1a4e9e"/>
<rect x="181.20" y="157.64" width="6.90" height="4.54" fill="#e2221e"/>
<rect x="187.50" y="157.64" width="6.90" height="4.54" fill="#3680ba"/>
<rect x="193.80" y="157.64" width="6.90" height="4.54" fill="#ba0d18"/>
<rect x="200.10" y="157.64" width="6.90" height="4.54" fill="#0b1754"/>
<rect x="206.40" y="157.64" width="6.90" height="4.54" fill="#1a4e9e"/>
<rect x="212.70" y="157.64" width="6.90" height="4.54" fill="#3680ba"/>
<rect x="219.00" y="157.64" width="6.90" height="4.54" fill="#0b1754"/>
<rect x="225.30" y="157.64" width="13.20" height="4.54" fill="#f9a698"/>
<rect x="237.90" y="157.64" width="6.90" height="4.54" fill="#fbd6ce"/>
<rect x="244.20" y="157.64" width="6.90" height="4.54" fill="#3680ba"/>
<rect x="250.50" y="157.64" width="6.90" height="4.54" fill="#1a4e9e"/>
<rect x="256.80" y="157.64" width="6.90" height="4.54" fill="#cce6f0"/>
<rect x="263.10" y="157.64" width="6.90" height="4.54" fill="#1a4e9e"/>
<rect x="269.40" y="157.64" width="6.90" height="4.54" fill="#3680ba"/>
<rect x="275.70" y="157.64" width="13.20" height="4.54" fill="#9ccde0"/>
<rect x="288.30" y="157.64" width="6.90" height="4.54" fill="#62a8ce"/>
<rect x="294.60" y="157.64" width="6.90" height="4.54" fill="#3680ba"/>
<rect x="300.90" y="157.64" width="6.90" height="4.54" fill="#1a4e9e"/>
<rect x="307.20" y="157.64" width="13.20" height="4.54" fill="#3680ba"/>
<rect x="319.80" y="157.64" width="6.90" height="4.54" fill="#62a8ce"/>
<rect x="326.10" y="157.64" width="13.20" height="4.54" fill="#3680ba"/>
<rect x="338.70" y="157.64" width="6.90" height="4.54" fill="#0f2d74"/>
<rect x="345.00" y="157.64" width="13.20" height="4.54" fill="#08093a"/>
<rect x="357.60" y="157.64" width="6.90" height="4.54" fill="#0b1754"/>
<rect x="363.90" y="157.64" width="13.20" height="4.54" fill="#1a4e9e"/>
<rect x="376.50" y="157.64" width="6.90" height="4.54" fill="#3680ba"/>
<rect x="382.80" y="157.64" width="6.90" height="4.54" fill="#1a4e9e"/>
<rect x="389.10" y="157.64" width="32.10" height="4.54" fill="#08093a"/>
<rect x="420.60" y="157.64" width="13.20" height="4.54" fill="#0f2d74"/>
<rect x="433.20" y="157.64" width="6.90" height="4.54" fill="#1a4e9e"/>
<rect x="439.50" y="157.64" width="13.20" height="4.54" fill="#0b1754"/>
<rect x="452.10" y="157.64" width="13.20" height="4.54" fill="#0f2d74"/>
<rect x="464.70" y="157.64" width="6.90" height="4.54" fill="#08093a"/>
<rect x="471.00" y="157.64" width="19.50" height="4.54" fill="#0f2d74"/>
<rect x="489.90" y="157.64" width="6.90" height="4.54" fill="#1a4e9e"/>
<rect x="118.20" y="161.57" width="6.90" height="4.54" fill="#f9a698"/>
<rect x="124.50" y="161.57" width="19.50" height="4.54" fill="#ba0d18"/>
<rect x="143.40" y="161.57" width="13.20" height="4.54" fill="#e2221e"/>
<rect x="156.00" y="161.57" width="6.90" height="4.54" fill="#9ccde0"/>
<rect x="162.30" y="161.57" width="6.90" height="4.54" fill="#fbd6ce"/>
<rect x="168.60" y="161.57" width="13.20" height="4.54" fill="#f9a698"/>
<rect x="181.20" y="161.57" width="6.90" height="4.54" fill="#e2221e"/>
<rect x="187.50" y="161.57" width="6.90" height="4.54" fill="#62a8ce"/>
<rect x="193.80" y="161.57" width="6.90" height="4.54" fill="#ba0d18"/>
<rect x="200.10" y="161.57" width="6.90" height="4.54" fill="#08093a"/>
<rect x="206.40" y="161.57" width="13.20" height="4.54" fill="#0b1754"/>
<rect x="219.00" y="161.57" width="6.90" height="4.54" fill="#08093a"/>
<rect x="225.30" y="161.57" width="6.90" height="4.54" fill="#f9a698"/>
<rect x="231.60" y="161.57" width="6.90" height="4.54" fill="#f26452"/>
<rect x="237.90" y="161.57" width="6.90" height="4.54" fill="#f9a698"/>
<rect x="244.20" y="161.57" width="6.90" height="4.54" fill="#9ccde0"/>
<rect x="250.50" y="161.57" width="6.90" height="4.54" fill="#3680ba"/>
<rect x="256.80" y="161.57" width="6.90" height="4.54" fill="#62a8ce"/>
<rect x="263.10" y="161.57" width="6.90" height="4.54" fill="#1a4e9e"/>
<rect x="269.40" y="161.57" width="6.90" height="4.54" fill="#0b1754"/>
<rect x="275.70" y="161.57" width="6.90" height="4.54" fill="#3680ba"/>
<rect x="282.00" y="161.57" width="6.90" height="4.54" fill="#62a8ce"/>
<rect x="288.30" y="161.57" width="6.90" height="4.54" fill="#1a4e9e"/>
<rect x="294.60" y="161.57" width="6.90" height="4.54" fill="#3680ba"/>
<rect x="300.90" y="161.57" width="6.90" height="4.54" fill="#0b1754"/>
<rect x="307.20" y="161.57" width="6.90" height="4.54" fill="#1a4e9e"/>
<rect x="313.50" y="161.57" width="6.90" height="4.54" fill="#0b1754"/>
<rect x="319.80" y="161.57" width="6.90" height="4.54" fill="#3680ba"/>
<rect x="326.10" y="161.57" width="6.90" height="4.54" fill="#1a4e9e"/>
<rect x="332.40" y="161.57" width="6.90" height="4.54" fill="#0b1754"/>
<rect x="338.70" y="161.57" width="6.90" height="4.54" fill="#0f2d74"/>
<rect x="345.00" y="161.57" width="13.20" height="4.54" fill="#08093a"/>
<rect x="357.60" y="161.57" width="6.90" height="4.54" fill="#0b1754"/>
<rect x="363.90" y="161.57" width="6.90" height="4.54" fill="#0f2d74"/>
<rect x="370.20" y="161.57" width="13.20" height="4.54" fill="#3680ba"/>
<rect x="382.80" y="161.57" width="6.90" height="4.54" fill="#1a4e9e"/>
<rect x="389.10" y="161.57" width="6.90" height="4.54" fill="#08093a"/>
<rect x="395.40" y="161.57" width="6.90" height="4.54" fill="#0b1754"/>
<rect x="401.70" y="161.57" width="19.50" height="4.54" fill="#08093a"/>
<rect x="420.60" y="161.57" width="13.20" height="4.54" fill="#0b1754"/>
<rect x="433.20" y="161.57" width="6.90" height="4.54" fill="#0f2d74"/>
<rect x="439.50" y="161.57" width="19.50" height="4.54" fill="#0b1754"/>
<rect x="458.40" y="161.57" width="6.90" height="4.54" fill="#1a4e9e"/>
<rect x="464.70" y="161.57" width="6.90" height="4.54" fill="#08093a"/>
<rect x="471.00" y="161.57" width="6.90" height="4.54" fill="#1a4e9e"/>
<rect x="477.30" y="161.57" width="6.90" height="4.54" fill="#0f2d74"/>
<rect x="483.60" y="161.57" width="6.90" height="4.54" fill="#0b1754"/>
<rect x="489.90" y="161.57" width="6.90" height="4.54" fill="#0f2d74"/>
<rect x="118.20" y="165.51" width="6.90" height="4.54" fill="#f9a698"/>
<rect x="124.50" y="165.51" width="6.90" height="4.54" fill="#ba0d18"/>
<rect x="130.80" y="165.51" width="6.90" height="4.54" fill="#f9a698"/>
<rect x="137.10" y="165.51" width="13.20" height="4.54" fill="#ba0d18"/>
<rect x="149.70" y="165.51" width="6.90" height="4.54" fill="#e2221e"/>
<rect x="156.00" y="165.51" width="6.90" height="4.54" fill="#fbd6ce"/>
<rect x="162.30" y="165.51" width="6.90" height="4.54" fill="#ba0d18"/>
<rect x="168.60" y="165.51" width="6.90" height="4.54" fill="#fbd6ce"/>
<rect x="174.90" y="165.51" width="6.90" height="4.54" fill="#f26452"/>
<rect x="181.20" y="165.51" width="6.90" height="4.54" fill="#0b1754"/>
<rect x="187.50" y="165.51" width="6.90" height="4.54" fill="#9ccde0"/>
<rect x="193.80" y="165.51" width="6.90" height="4.54" fill="#e2221e"/>
<rect x="200.10" y="165.51" width="6.90" height="4.54" fill="#08093a"/>
<rect x="206.40" y="165.51" width="6.90" height="4.54" fill="#0b1754"/>
<rect x="212.70" y="165.51" width="6.90" height="4.54" fill="#1a4e9e"/>
<rect x="219.00" y="165.51" width="6.90" height="4.54" fill="#0b1754"/>
<rect x="225.30" y="165.51" width="6.90" height="4.54" fill="#f26452"/>
<rect x="231.60" y="165.51" width="13.20" height="4.54" fill="#f9a698"/>
<rect x="244.20" y="165.51" width="13.20" height="4.54" fill="#9ccde0"/>
<rect x="256.80" y="165.51" width="6.90" height="4.54" fill="#62a8ce"/>
<rect x="263.10" y="165.51" width="13.20" height="4.54" fill="#1a4e9e"/>
<rect x="275.70" y="165.51" width="6.90" height="4.54" fill="#3680ba"/>
<rect x="282.00" y="165.51" width="6.90" height="4.54" fill="#62a8ce"/>
<rect x="288.30" y="165.51" width="6.90" height="4.54" fill="#1a4e9e"/>
<rect x="294.60" y="165.51" width="6.90" height="4.54" fill="#62a8ce"/>
<rect x="300.90" y="165.51" width="19.50" height="4.54" fill="#1a4e9e"/>
<rect x="319.80" y="165.51" width="13.20" height="4.54" fill="#3680ba"/>
<rect x="332.40" y="165.51" width="6.90" height="4.54" fill="#0b1754"/>
<rect x="338.70" y="165.51" width="6.90" height="4.54" fill="#0f2d74"/>
<rect x="345.00" y="165.51" width="19.50" height="4.54" fill="#08093a"/>
<rect x="363.90" y="165.51" width="6.90" height="4.54" fill="#3680ba"/>
<rect x="370.20" y="165.51" width="6.90" height="4.54" fill="#62a8ce"/>
<rect x="376.50" y="165.51" width="6.90" height="4.54" fill="#9ccde0"/>
<rect x="382.80" y="165.51" width="6.90" height="4.54" fill="#62a8ce"/>
<rect x="389.10" y="165.51" width="32.10" height="4.54" fill="#08093a"/>
<rect x="420.60" y="165.51" width="38.40" height="4.54" fill="#0b1754"/>
<rect x="458.40" y="165.51" width="32.10" height="4.54" fill="#1a4e9e"/>
<rect x="489.90" y="165.51" width="6.90" height="4.54" fill="#3680ba"/>
<rect x="118.20" y="169.44" width="6.90" height="4.54" fill="#e2221e"/>
<rect x="124.50" y="169.44" width="6.90" height="4.54" fill="#8e0a14"/>
<rect x="130.80" y="169.44" width="19.50" height="4.54" fill="#ba0d18"/>
<rect x="149.70" y="169.44" width="6.90" height="4.54" fill="#e2221e"/>
<rect x="156.00" y="169.44" width="6.90" height="4.54" fill="#f9a698"/>
<rect x="162.30" y="169.44" width="6.90" height="4.54" fill="#ba0d18"/>
<rect x="168.60" y="169.44" width="6.90" height="4.54" fill="#cce6f0"/>
<rect x="174.90" y="169.44" width="6.90" height="4.54" fill="#f9a698"/>
<rect x="181.20" y="169.44" width="6.90" height="4.54" fill="#0b1754"/>
<rect x="187.50" y="169.44" width="13.20" height="4.54" fill="#e2221e"/>
<rect x="200.10" y="169.44" width="13.20" height="4.54" fill="#f26452"/>
<rect x="212.70" y="169.44" width="6.90" height="4.54" fill="#cce6f0"/>
<rect x="219.00" y="169.44" width="6.90" height="4.54" fill="#fbd6ce"/>
<rect x="225.30" y="169.44" width="25.80" height="4.54" fill="#f26452"/>
<rect x="250.50" y="169.44" width="13.20" height="4.54" fill="#cce6f0"/>
<rect x="263.10" y="169.44" width="6.90" height="4.54" fill="#9ccde0"/>
<rect x="269.40" y="169.44" width="13.20" height="4.54" fill="#3680ba"/>
<rect x="282.00" y="169.44" width="6.90" height="4.54" fill="#62a8ce"/>
<rect x="288.30" y="169.44" width="6.90" height="4.54" fill="#9ccde0"/>
<rect x="294.60" y="169.44" width="6.90" height="4.54" fill="#62a8ce"/>
<rect x="300.90" y="169.44" width="19.50" height="4.54" fill="#3680ba"/>
<rect x="319.80" y="169.44" width="13.20" height="4.54" fill="#9ccde0"/>
<rect x="332.40" y="169.44" width="6.90" height="4.54" fill="#0b1754"/>
<rect x="338.70" y="169.44" width="6.90" height="4.54" fill="#0f2d74"/>
<rect x="345.00" y="169.44" width="19.50" height="4.54" fill="#08093a"/>
<rect x="363.90" y="169.44" width="6.90" height="4.54" fill="#62a8ce"/>
<rect x="370.20" y="169.44" width="19.50" height="4.54" fill="#9ccde0"/>
<rect x="389.10" y="169.44" width="32.10" height="4.54" fill="#08093a"/>
<rect x="420.60" y="169.44" width="6.90" height="4.54" fill="#1a4e9e"/>
<rect x="426.90" y="169.44" width="6.90" height="4.54" fill="#3680ba"/>
<rect x="433.20" y="169.44" width="38.40" height="4.54" fill="#1a4e9e"/>
<rect x="471.00" y="169.44" width="6.90" height="4.54" fill="#3680ba"/>
<rect x="477.30" y="169.44" width="13.20" height="4.54" fill="#1a4e9e"/>
<rect x="489.90" y="169.44" width="6.90" height="4.54" fill="#3680ba"/>
<rect x="118.20" y="173.38" width="6.90" height="4.54" fill="#f26452"/>
<rect x="124.50" y="173.38" width="19.50" height="4.54" fill="#ba0d18"/>
<rect x="143.40" y="173.38" width="6.90" height="4.54" fill="#e2221e"/>
<rect x="149.70" y="173.38" width="6.90" height="4.54" fill="#ba0d18"/>
<rect x="156.00" y="173.38" width="6.90" height="4.54" fill="#e2221e"/>
<rect x="162.30" y="173.38" width="6.90" height="4.54" fill="#ba0d18"/>
<rect x="168.60" y="173.38" width="6.90" height="4.54" fill="#cce6f0"/>
<rect x="174.90" y="173.38" width="6.90" height="4.54" fill="#f26452"/>
<rect x="181.20" y="173.38" width="6.90" height="4.54" fill="#fbd6ce"/>
<rect x="187.50" y="173.38" width="6.90" height="4.54" fill="#9ccde0"/>
<rect x="193.80" y="173.38" width="6.90" height="4.54" fill="#f9a698"/>
<rect x="200.10" y="173.38" width="13.20" height="4.54" fill="#08093a"/>
<rect x="212.70" y="173.38" width="13.20" height="4.54" fill="#0b1754"/>
<rect x="225.30" y="173.38" width="6.90" height="4.54" fill="#9ccde0"/>
<rect x="231.60" y="173.38" width="6.90" height="4.54" fill="#1a4e9e"/>
<rect x="237.90" y="173.38" width="13.20" height="4.54" fill="#3680ba"/>
<rect x="250.50" y="173.38" width="6.90" height="4.54" fill="#cce6f0"/>
<rect x="256.80" y="173.38" width="13.20" height="4.54" fill="#62a8ce"/>
<rect x="269.40" y="173.38" width="6.90" height="4.54" fill="#3680ba"/>
<rect x="275.70" y="173.38" width="6.90" height="4.54" fill="#0b1754"/>
<rect x="282.00" y="173.38" width="6.90" height="4.54" fill="#3680ba"/>
<rect x="288.30" y="173.38" width="6.90" height="4.54" fill="#62a8ce"/>
<rect x="294.60" y="173.38" width="6.90" height="4.54" fill="#08093a"/>
<rect x="300.90" y="173.38" width="25.80" height="4.54" fill="#3680ba"/>
<rect x="326.10" y="173.38" width="13.20" height="4.54" fill="#0b1754"/>
<rect x="338.70" y="173.38" width="6.90" height="4.54" fill="#0f2d74"/>
<rect x="345.00" y="173.38" width="19.50" height="4.54" fill="#08093a"/>
<rect x="363.90" y="173.38" width="13.20" height="4.54" fill="#0b1754"/>
<rect x="376.50" y="173.38" width="6.90" height="4.54" fill="#08093a"/>
<rect x="382.80" y="173.38" width="6.90" height="4.54" fill="#1a4e9e"/>
<rect x="389.10" y="173.38" width="32.10" height="4.54" fill="#08093a"/>
<rect x="420.60" y="173.38" width="13.20" height="4.54" fill="#1a4e9e"/>
<rect x="433.20" y="173.38" width="19.50" height="4.54" fill="#0b1754"/>
<rect x="452.10" y="173.38" width="6.90" height="4.54" fill="#0f2d74"/>
<rect x="458.40" y="173.38" width="13.20" height="4.54" fill="#0b1754"/>
<rect x="471.00" y="173.38" width="6.90" height="4.54" fill="#1a4e9e"/>
<rect x="477.30" y="173.38" width="13.20" height="4.54" fill="#0f2d74"/>
<rect x="489.90" y="173.38" width="6.90" height="4.54" fill="#1a4e9e"/>
<rect x="118.20" y="177.31" width="6.90" height="4.54" fill="#e2221e"/>
<rect x="124.50" y="177.31" width="13.20" height="4.54" fill="#ba0d18"/>
<rect x="137.10" y="177.31" width="6.90" height="4.54" fill="#f9a698"/>
<rect x="143.40" y="177.31" width="6.90" height="4.54" fill="#e2221e"/>
<rect x="149.70" y="177.31" width="6.90" height="4.54" fill="#ba0d18"/>
<rect x="156.00" y="177.31" width="13.20" height="4.54" fill="#e2221e"/>
<rect x="168.60" y="177.31" width="6.90" height="4.54" fill="#f9a698"/>
<rect x="174.90" y="177.31" width="6.90" height="4.54" fill="#fbd6ce"/>
<rect x="181.20" y="177.31" width="6.90" height="4.54" fill="#e2221e"/>
<rect x="187.50" y="177.31" width="6.90" height="4.54" fill="#9ccde0"/>
<rect x="193.80" y="177.31" width="6.90" height="4.54" fill="#e2221e"/>
<rect x="200.10" y="177.31" width="13.20" height="4.54" fill="#f8f6f6"/>
<rect x="212.70" y="177.31" width="6.90" height="4.54" fill="#3680ba"/>
<rect x="219.00" y="177.31" width="6.90" height="4.54" fill="#1a4e9e"/>
<rect x="225.30" y="177.31" width="6.90" height="4.54" fill="#9ccde0"/>
<rect x="231.60" y="177.31" width="6.90" height="4.54" fill="#1a4e9e"/>
<rect x="237.90" y="177.31" width="6.90" height="4.54" fill="#3680ba"/>
<rect x="244.20" y="177.31" width="6.90" height="4.54" fill="#1a4e9e"/>
<rect x="250.50" y="177.31" width="6.90" height="4.54" fill="#cce6f0"/>
<rect x="256.80" y="177.31" width="6.90" height="4.54" fill="#62a8ce"/>
<rect x="263.10" y="177.31" width="6.90" height="4.54" fill="#cce6f0"/>
<rect x="269.40" y="177.31" width="6.90" height="4.54" fill="#1a4e9e"/>
<rect x="275.70" y="177.31" width="6.90" height="4.54" fill="#f8f6f6"/>
<rect x="282.00" y="177.31" width="6.90" height="4.54" fill="#9ccde0"/>
<rect x="288.30" y="177.31" width="6.90" height="4.54" fill="#62a8ce"/>
<rect x="294.60" y="177.31" width="6.90" height="4.54" fill="#3680ba"/>
<rect x="300.90" y="177.31" width="6.90" height="4.54" fill="#0b1754"/>
<rect x="307.20" y="177.31" width="13.20" height="4.54" fill="#3680ba"/>
<rect x="319.80" y="177.31" width="6.90" height="4.54" fill="#9ccde0"/>
<rect x="326.10" y="177.31" width="6.90" height="4.54" fill="#62a8ce"/>
<rect x="332.40" y="177.31" width="6.90" height="4.54" fill="#0b1754"/>
<rect x="338.70" y="177.31" width="6.90" height="4.54" fill="#0f2d74"/>
<rect x="345.00" y="177.31" width="19.50" height="4.54" fill="#08093a"/>
<rect x="363.90" y="177.31" width="6.90" height="4.54" fill="#1a4e9e"/>
<rect x="370.20" y="177.31" width="6.90" height="4.54" fill="#3680ba"/>
<rect x="376.50" y="177.31" width="6.90" height="4.54" fill="#0f2d74"/>
<rect x="382.80" y="177.31" width="6.90" height="4.54" fill="#1a4e9e"/>
<rect x="389.10" y="177.31" width="32.10" height="4.54" fill="#08093a"/>
<rect x="420.60" y="177.31" width="13.20" height="4.54" fill="#0b1754"/>
<rect x="433.20" y="177.31" width="19.50" height="4.54" fill="#08093a"/>
<rect x="452.10" y="177.31" width="13.20" height="4.54" fill="#0b1754"/>
<rect x="464.70" y="177.31" width="6.90" height="4.54" fill="#08093a"/>
<rect x="471.00" y="177.31" width="13.20" height="4.54" fill="#0f2d74"/>
<rect x="483.60" y="177.31" width="6.90" height="4.54" fill="#0b1754"/>
<rect x="489.90" y="177.31" width="6.90" height="4.54" fill="#1a4e9e"/>
<rect x="118.20" y="181.25" width="6.90" height="4.54" fill="#f9a698"/>
<rect x="124.50" y="181.25" width="25.80" height="4.54" fill="#ba0d18"/>
<rect x="149.70" y="181.25" width="6.90" height="4.54" fill="#e2221e"/>
<rect x="156.00" y="181.25" width="6.90" height="4.54" fill="#1a4e9e"/>
<rect x="162.30" y="181.25" width="6.90" height="4.54" fill="#f26452"/>
<rect x="168.60" y="181.25" width="13.20" height="4.54" fill="#f9a698"/>
<rect x="181.20" y="181.25" width="6.90" height="4.54" fill="#08093a"/>
<rect x="187.50" y="181.25" width="6.90" height="4.54" fill="#9ccde0"/>
<rect x="193.80" y="181.25" width="6.90" height="4.54" fill="#f9a698"/>
<rect x="200.10" y="181.25" width="6.90" height="4.54" fill="#08093a"/>
<rect x="206.40" y="181.25" width="6.90" height="4.54" fill="#0b1754"/>
<rect x="212.70" y="181.25" width="6.90" height="4.54" fill="#1a4e9e"/>
<rect x="219.00" y="181.25" width="6.90" height="4.54" fill="#0b1754"/>
<rect x="225.30" y="181.25" width="6.90" height="4.54" fill="#f26452"/>
<rect x="231.60" y="181.25" width="6.90" height="4.54" fill="#08093a"/>
<rect x="237.90" y="181.25" width="6.90" height="4.54" fill="#3680ba"/>
<rect x="244.20" y="181.25" width="6.90" height="4.54" fill="#1a4e9e"/>
<rect x="250.50" y="181.25" width="6.90" height="4.54" fill="#cce6f0"/>
<rect x="256.80" y="181.25" width="13.20" height="4.54" fill="#9ccde0"/>
<rect x="269.40" y="181.25" width="6.90" height="4.54" fill="#1a4e9e"/>
<rect x="275.70" y="181.25" width="6.90" height="4.54" fill="#9ccde0"/>
<rect x="282.00" y="181.25" width="6.90" height="4.54" fill="#62a8ce"/>
<rect x="288.30" y="181.25" width="6.90" height="4.54" fill="#9ccde0"/>
<rect x="294.60" y="181.25" width="6.90" height="4.54" fill="#3680ba"/>
<rect x="300.90" y="181.25" width="6.90" height="4.54" fill="#0b1754"/>
<rect x="307.20" y="181.25" width="6.90" height="4.54" fill="#3680ba"/>
<rect x="313.50" y="181.25" width="6.90" height="4.54" fill="#1a4e9e"/>
<rect x="319.80" y="181.25" width="6.90" height="4.54" fill="#3680ba"/>
<rect x="326.10" y="181.25" width="6.90" height="4.54" fill="#9ccde0"/>
<rect x="332.40" y="181.25" width="6.90" height="4.54" fill="#0b1754"/>
<rect x="338.70" y="181.25" width="6.90" height="4.54" fill="#0f2d74"/>
<rect x="345.00" y="181.25" width="13.20" height="4.54" fill="#08093a"/>
<rect x="357.60" y="181.25" width="13.20" height="4.54" fill="#1a4e9e"/>
<rect x="370.20" y="181.25" width="6.90" height="4.54" fill="#0f2d74"/>
<rect x="376.50" y="181.25" width="13.20" height="4.54" fill="#1a4e9e"/>
<rect x="389.10" y="181.25" width="32.10" height="4.54" fill="#08093a"/>
<rect x="420.60" y="181.25" width="19.50" height="4.54" fill="#0b1754"/>
<rect x="439.50" y="181.25" width="13.20" height="4.54" fill="#08093a"/>
<rect x="452.10" y="181.25" width="6.90" height="4.54" fill="#0b1754"/>
<rect x="458.40" y="181.25" width="6.90" height="4.54" fill="#0f2d74"/>
<rect x="464.70" y="181.25" width="6.90" height="4.54" fill="#0b1754"/>
<rect x="471.00" y="181.25" width="13.20" height="4.54" fill="#0f2d74"/>
<rect x="483.60" y="181.25" width="13.20" height="4.54" fill="#1a4e9e"/>
<rect x="118.20" y="185.19" width="6.90" height="4.54" fill="#fbd6ce"/>
<rect x="124.50" y="185.19" width="25.80" height="4.54" fill="#ba0d18"/>
<rect x="149.70" y="185.19" width="6.90" height="4.54" fill="#e2221e"/>
<rect x="156.00" y="185.19" width="6.90" height="4.54" fill="#f9a698"/>
<rect x="162.30" y="185.19" width="6.90" height="4.54" fill="#1a4e9e"/>
<rect x="168.60" y="185.19" width="6.90" height="4.54" fill="#e2221e"/>
<rect x="174.90" y="185.19" width="6.90" height="4.54" fill="#f9a698"/>
<rect x="181.20" y="185.19" width="6.90" height="4.54" fill="#e2221e"/>
<rect x="187.50" y="185.19" width="6.90" height="4.54" fill="#3680ba"/>
<rect x="193.80" y="185.19" width="6.90" height="4.54" fill="#e2221e"/>
<rect x="200.10" y="185.19" width="6.90" height="4.54" fill="#08093a"/>
<rect x="206.40" y="185.19" width="6.90" height="4.54" fill="#0f2d74"/>
<rect x="212.70" y="185.19" width="6.90" height="4.54" fill="#1a4e9e"/>
<rect x="219.00" y="185.19" width="6.90" height="4.54" fill="#0b1754"/>
<rect x="225.30" y="185.19" width="6.90" height="4.54" fill="#cce6f0"/>
<rect x="231.60" y="185.19" width="6.90" height="4.54" fill="#08093a"/>
<rect x="237.90" y="185.19" width="6.90" height="4.54" fill="#9ccde0"/>
<rect x="244.20" y="185.19" width="6.90" height="4.54" fill="#0b1754"/>
<rect x="250.50" y="185.19" width="6.90" height="4.54" fill="#cce6f0"/>
<rect x="256.80" y="185.19" width="13.20" height="4.54" fill="#62a8ce"/>
<rect x="269.40" y="185.19" width="6.90" height="4.54" fill="#1a4e9e"/>
<rect x="275.70" y="185.19" width="6.90" height="4.54" fill="#9ccde0"/>
<rect x="282.00" y="185.19" width="13.20" height="4.54" fill="#62a8ce"/>
<rect x="294.60" y="185.19" width="6.90" height="4.54" fill="#3680ba"/>
<rect x="300.90" y="185.19" width="6.90" height="4.54" fill="#1a4e9e"/>
<rect x="307.20" y="185.19" width="6.90" height="4.54" fill="#3680ba"/>
<rect x="313.50" y="185.19" width="6.90" height="4.54" fill="#1a4e9e"/>
<rect x="319.80" y="185.19" width="13.20" height="4.54" fill="#3680ba"/>
<rect x="332.40" y="185.19" width="6.90" height="4.54" fill="#0b1754"/>
<rect x="338.70" y="185.19" width="6.90" height="4.54" fill="#0f2d74"/>
<rect x="345.00" y="185.19" width="13.20" height="4.54" fill="#08093a"/>
<rect x="357.60" y="185.19" width="6.90" height="4.54" fill="#8e0a14"/>
<rect x="363.90" y="185.19" width="6.90" height="4.54" fill="#1a4e9e"/>
<rect x="370.20" y="185.19" width="6.90" height="4.54" fill="#62a8ce"/>
<rect x="376.50" y="185.19" width="13.20" height="4.54" fill="#3680ba"/>
<rect x="389.10" y="185.19" width="13.20" height="4.54" fill="#08093a"/>
<rect x="401.70" y="185.19" width="6.90" height="4.54" fill="#9ccde0"/>
<rect x="408.00" y="185.19" width="6.90" height="4.54" fill="#0f2d74"/>
<rect x="414.30" y="185.19" width="6.90" height="4.54" fill="#08093a"/>
<rect x="420.60" y="185.19" width="13.20" height="4.54" fill="#0b1754"/>
<rect x="433.20" y="185.19" width="6.90" height="4.54" fill="#1a4e9e"/>
<rect x="439.50" y="185.19" width="13.20" height="4.54" fill="#08093a"/>
<rect x="452.10" y="185.19" width="6.90" height="4.54" fill="#0b1754"/>
<rect x="458.40" y="185.19" width="6.90" height="4.54" fill="#1a4e9e"/>
<rect x="464.70" y="185.19" width="6.90" height="4.54" fill="#62a8ce"/>
<rect x="471.00" y="185.19" width="6.90" height="4.54" fill="#1a4e9e"/>
<rect x="477.30" y="185.19" width="6.90" height="4.54" fill="#0f2d74"/>
<rect x="483.60" y="185.19" width="6.90" height="4.54" fill="#0b1754"/>
<rect x="489.90" y="185.19" width="6.90" height="4.54" fill="#1a4e9e"/>
<rect x="118.20" y="189.12" width="6.90" height="4.54" fill="#ba0d18"/>
<rect x="124.50" y="189.12" width="6.90" height="4.54" fill="#8e0a14"/>
<rect x="130.80" y="189.12" width="19.50" height="4.54" fill="#ba0d18"/>
<rect x="149.70" y="189.12" width="6.90" height="4.54" fill="#e2221e"/>
<rect x="156.00" y="189.12" width="6.90" height="4.54" fill="#fbd6ce"/>
<rect x="162.30" y="189.12" width="6.90" height="4.54" fill="#f9a698"/>
<rect x="168.60" y="189.12" width="6.90" height="4.54" fill="#f26452"/>
<rect x="174.90" y="189.12" width="25.80" height="4.54" fill="#e2221e"/>
<rect x="200.10" y="189.12" width="6.90" height="4.54" fill="#08093a"/>
<rect x="206.40" y="189.12" width="13.20" height="4.54" fill="#1a4e9e"/>
<rect x="219.00" y="189.12" width="6.90" height="4.54" fill="#0b1754"/>
<rect x="225.30" y="189.12" width="6.90" height="4.54" fill="#9ccde0"/>
<rect x="231.60" y="189.12" width="6.90" height="4.54" fill="#08093a"/>
<rect x="237.90" y="189.12" width="6.90" height="4.54" fill="#0b1754"/>
<rect x="244.20" y="189.12" width="6.90" height="4.54" fill="#f26452"/>
<rect x="250.50" y="189.12" width="19.50" height="4.54" fill="#9ccde0"/>
<rect x="269.40" y="189.12" width="6.90" height="4.54" fill="#62a8ce"/>
<rect x="275.70" y="189.12" width="6.90" height="4.54" fill="#9ccde0"/>
<rect x="282.00" y="189.12" width="6.90" height="4.54" fill="#62a8ce"/>
<rect x="288.30" y="189.12" width="6.90" height="4.54" fill="#3680ba"/>
<rect x="294.60" y="189.12" width="6.90" height="4.54" fill="#62a8ce"/>
<rect x="300.90" y="189.12" width="6.90" height="4.54" fill="#1a4e9e"/>
<rect x="307.20" y="189.12" width="13.20" height="4.54" fill="#3680ba"/>
<rect x="319.80" y="189.12" width="6.90" height="4.54" fill="#cce6f0"/>
<rect x="326.10" y="189.12" width="6.90" height="4.54" fill="#9ccde0"/>
<rect x="332.40" y="189.12" width="6.90" height="4.54" fill="#0b1754"/>
<rect x="338.70" y="189.12" width="6.90" height="4.54" fill="#3680ba"/>
<rect x="345.00" y="189.12" width="6.90" height="4.54" fill="#08093a"/>
<rect x="351.30" y="189.12" width="6.90" height="4.54" fill="#f8f6f6"/>
<rect x="357.60" y="189.12" width="6.90" height="4.54" fill="#08093a"/>
<rect x="363.90" y="189.12" width="13.20" height="4.54" fill="#9ccde0"/>
<rect x="376.50" y="189.12" width="13.20" height="4.54" fill="#62a8ce"/>
<rect x="389.10" y="189.12" width="19.50" height="4.54" fill="#08093a"/>
<rect x="408.00" y="189.12" width="6.90" height="4.54" fill="#0f2d74"/>
<rect x="414.30" y="189.12" width="6.90" height="4.54" fill="#08093a"/>
<rect x="420.60" y="189.12" width="6.90" height="4.54" fill="#0b1754"/>
<rect x="426.90" y="189.12" width="13.20" height="4.54" fill="#1a4e9e"/>
<rect x="439.50" y="189.12" width="13.20" height="4.54" fill="#08093a"/>
<rect x="452.10" y="189.12" width="6.90" height="4.54" fill="#0b1754"/>
<rect x="458.40" y="189.12" width="6.90" height="4.54" fill="#1a4e9e"/>
<rect x="464.70" y="189.12" width="6.90" height="4.54" fill="#62a8ce"/>
<rect x="471.00" y="189.12" width="25.80" height="4.54" fill="#1a4e9e"/>
<rect x="118.20" y="193.06" width="6.90" height="4.54" fill="#e2221e"/>
<rect x="124.50" y="193.06" width="13.20" height="4.54" fill="#ba0d18"/>
<rect x="137.10" y="193.06" width="19.50" height="4.54" fill="#e2221e"/>
<rect x="156.00" y="193.06" width="6.90" height="4.54" fill="#1a4e9e"/>
<rect x="162.30" y="193.06" width="6.90" height="4.54" fill="#cce6f0"/>
<rect x="168.60" y="193.06" width="6.90" height="4.54" fill="#fbd6ce"/>
<rect x="174.90" y="193.06" width="6.90" height="4.54" fill="#cce6f0"/>
<rect x="181.20" y="193.06" width="6.90" height="4.54" fill="#e2221e"/>
<rect x="187.50" y="193.06" width="6.90" height="4.54" fill="#f9a698"/>
<rect x="193.80" y="193.06" width="6.90" height="4.54" fill="#e2221e"/>
<rect x="200.10" y="193.06" width="13.20" height="4.54" fill="#ba0d18"/>
<rect x="212.70" y="193.06" width="6.90" height="4.54" fill="#f8f6f6"/>
<rect x="219.00" y="193.06" width="6.90" height="4.54" fill="#1a4e9e"/>
<rect x="225.30" y="193.06" width="6.90" height="4.54" fill="#9ccde0"/>
<rect x="231.60" y="193.06" width="6.90" height="4.54" fill="#08093a"/>
<rect x="237.90" y="193.06" width="6.90" height="4.54" fill="#ba0d18"/>
<rect x="244.20" y="193.06" width="6.90" height="4.54" fill="#fbd6ce"/>
<rect x="250.50" y="193.06" width="6.90" height="4.54" fill="#e2221e"/>
<rect x="256.80" y="193.06" width="6.90" height="4.54" fill="#cce6f0"/>
<rect x="263.10" y="193.06" width="6.90" height="4.54" fill="#62a8ce"/>
<rect x="269.40" y="193.06" width="13.20" height="4.54" fill="#3680ba"/>
<rect x="282.00" y="193.06" width="6.90" height="4.54" fill="#62a8ce"/>
<rect x="288.30" y="193.06" width="6.90" height="4.54" fill="#f8f6f6"/>
<rect x="294.60" y="193.06" width="6.90" height="4.54" fill="#3680ba"/>
<rect x="300.90" y="193.06" width="6.90" height="4.54" fill="#0b1754"/>
<rect x="307.20" y="193.06" width="13.20" height="4.54" fill="#3680ba"/>
<rect x="319.80" y="193.06" width="13.20" height="4.54" fill="#62a8ce"/>
<rect x="332.40" y="193.06" width="6.90" height="4.54" fill="#1a4e9e"/>
<rect x="338.70" y="193.06" width="6.90" height="4.54" fill="#f8f6f6"/>
<rect x="345.00" y="193.06" width="6.90" height="4.54" fill="#e2221e"/>
<rect x="351.30" y="193.06" width="6.90" height="4.54" fill="#fbd6ce"/>
<rect x="357.60" y="193.06" width="6.90" height="4.54" fill="#08093a"/>
<rect x="363.90" y="193.06" width="6.90" height="4.54" fill="#1a4e9e"/>
<rect x="370.20" y="193.06" width="6.90" height="4.54" fill="#0b1754"/>
<rect x="376.50" y="193.06" width="6.90" height="4.54" fill="#0f2d74"/>
<rect x="382.80" y="193.06" width="6.90" height="4.54" fill="#1a4e9e"/>
<rect x="389.10" y="193.06" width="19.50" height="4.54" fill="#08093a"/>
<rect x="408.00" y="193.06" width="6.90" height="4.54" fill="#0b1754"/>
<rect x="414.30" y="193.06" width="6.90" height="4.54" fill="#08093a"/>
<rect x="420.60" y="193.06" width="6.90" height="4.54" fill="#0b1754"/>
<rect x="426.90" y="193.06" width="13.20" height="4.54" fill="#0f2d74"/>
<rect x="439.50" y="193.06" width="6.90" height="4.54" fill="#08093a"/>
<rect x="445.80" y="193.06" width="6.90" height="4.54" fill="#0b1754"/>
<rect x="452.10" y="193.06" width="6.90" height="4.54" fill="#0f2d74"/>
<rect x="458.40" y="193.06" width="6.90" height="4.54" fill="#1a4e9e"/>
<rect x="464.70" y="193.06" width="6.90" height="4.54" fill="#0b1754"/>
<rect x="471.00" y="193.06" width="19.50" height="4.54" fill="#0f2d74"/>
<rect x="489.90" y="193.06" width="6.90" height="4.54" fill="#1a4e9e"/>
<rect x="118.20" y="196.99" width="6.90" height="4.54" fill="#8e0a14"/>
<rect x="124.50" y="196.99" width="25.80" height="4.54" fill="#ba0d18"/>
<rect x="149.70" y="196.99" width="6.90" height="4.54" fill="#e2221e"/>
<rect x="156.00" y="196.99" width="6.90" height="4.54" fill="#1a4e9e"/>
<rect x="162.30" y="196.99" width="6.90" height="4.54" fill="#e2221e"/>
<rect x="168.60" y="196.99" width="13.20" height="4.54" fill="#f9a698"/>
<rect x="181.20" y="196.99" width="6.90" height="4.54" fill="#e2221e"/>
<rect x="187.50" y="196.99" width="13.20" height="4.54" fill="#f9a698"/>
<rect x="200.10" y="196.99" width="6.90" height="4.54" fill="#08093a"/>
<rect x="206.40" y="196.99" width="13.20" height="4.54" fill="#1a4e9e"/>
<rect x="219.00" y="196.99" width="6.90" height="4.54" fill="#0b1754"/>
<rect x="225.30" y="196.99" width="6.90" height="4.54" fill="#3680ba"/>
<rect x="231.60" y="196.99" width="6.90" height="4.54" fill="#08093a"/>
<rect x="237.90" y="196.99" width="6.90" height="4.54" fill="#0b1754"/>
<rect x="244.20" y="196.99" width="6.90" height="4.54" fill="#f9a698"/>
<rect x="250.50" y="196.99" width="6.90" height="4.54" fill="#9ccde0"/>
<rect x="256.80" y="196.99" width="6.90" height="4.54" fill="#0b1754"/>
<rect x="263.10" y="196.99" width="6.90" height="4.54" fill="#3680ba"/>
<rect x="269.40" y="196.99" width="6.90" height="4.54" fill="#1a4e9e"/>
<rect x="275.70" y="196.99" width="13.20" height="4.54" fill="#3680ba"/>
<rect x="288.30" y="196.99" width="6.90" height="4.54" fill="#62a8ce"/>
<rect x="294.60" y="196.99" width="6.90" height="4.54" fill="#3680ba"/>
<rect x="300.90" y="196.99" width="6.90" height="4.54" fill="#1a4e9e"/>
<rect x="307.20" y="196.99" width="6.90" height="4.54" fill="#3680ba"/>
<rect x="313.50" y="196.99" width="6.90" height="4.54" fill="#1a4e9e"/>
<rect x="319.80" y="196.99" width="6.90" height="4.54" fill="#08093a"/>
<rect x="326.10" y="196.99" width="6.90" height="4.54" fill="#62a8ce"/>
<rect x="332.40" y="196.99" width="6.90" height="4.54" fill="#08093a"/>
<rect x="338.70" y="196.99" width="6.90" height="4.54" fill="#0b1754"/>
<rect x="345.00" y="196.99" width="6.90" height="4.54" fill="#08093a"/>
<rect x="351.30" y="196.99" width="6.90" height="4.54" fill="#fbd6ce"/>
<rect x="357.60" y="196.99" width="6.90" height="4.54" fill="#08093a"/>
<rect x="363.90" y="196.99" width="6.90" height="4.54" fill="#1a4e9e"/>
<rect x="370.20" y="196.99" width="6.90" height="4.54" fill="#08093a"/>
<rect x="376.50" y="196.99" width="13.20" height="4.54" fill="#0f2d74"/>
<rect x="389.10" y="196.99" width="32.10" height="4.54" fill="#08093a"/>
<rect x="420.60" y="196.99" width="19.50" height="4.54" fill="#0b1754"/>
<rect x="439.50" y="196.99" width="13.20" height="4.54" fill="#08093a"/>
<rect x="452.10" y="196.99" width="13.20" height="4.54" fill="#0b1754"/>
<rect x="464.70" y="196.99" width="6.90" height="4.54" fill="#08093a"/>
<rect x="471.00" y="196.99" width="6.90" height="4.54" fill="#0f2d74"/>
<rect x="477.30" y="196.99" width="13.20" height="4.54" fill="#0b1754"/>
<rect x="489.90" y="196.99" width="6.90" height="4.54" fill="#0f2d74"/>
<rect x="118.20" y="200.93" width="6.90" height="4.54" fill="#f9a698"/>
<rect x="124.50" y="200.93" width="13.20" height="4.54" fill="#ba0d18"/>
<rect x="137.10" y="200.93" width="6.90" height="4.54" fill="#1a4e9e"/>
<rect x="143.40" y="200.93" width="6.90" height="4.54" fill="#e2221e"/>
<rect x="149.70" y="200.93" width="6.90" height="4.54" fill="#1a4e9e"/>
<rect x="156.00" y="200.93" width="6.90" height="4.54" fill="#e2221e"/>
<rect x="162.30" y="200.93" width="6.90" height="4.54" fill="#3680ba"/>
<rect x="168.60" y="200.93" width="6.90" height="4.54" fill="#e2221e"/>
<rect x="174.90" y="200.93" width="6.90" height="4.54" fill="#8e0a14"/>
<rect x="181.20" y="200.93" width="6.90" height="4.54" fill="#1a4e9e"/>
<rect x="187.50" y="200.93" width="13.20" height="4.54" fill="#08093a"/>
<rect x="200.10" y="200.93" width="6.90" height="4.54" fill="#f8f6f6"/>
<rect x="206.40" y="200.93" width="13.20" height="4.54" fill="#1a4e9e"/>
<rect x="219.00" y="200.93" width="6.90" height="4.54" fill="#3680ba"/>
<rect x="225.30" y="200.93" width="6.90" height="4.54" fill="#e2221e"/>
<rect x="231.60" y="200.93" width="6.90" height="4.54" fill="#fbd6ce"/>
<rect x="237.90" y="200.93" width="6.90" height="4.54" fill="#e2221e"/>
<rect x="244.20" y="200.93" width="19.50" height="4.54" fill="#3680ba"/>
<rect x="263.10" y="200.93" width="6.90" height="4.54" fill="#1a4e9e"/>
<rect x="269.40" y="200.93" width="6.90" height="4.54" fill="#f8f6f6"/>
<rect x="275.70" y="200.93" width="19.50" height="4.54" fill="#1a4e9e"/>
<rect x="294.60" y="200.93" width="6.90" height="4.54" fill="#e2221e"/>
<rect x="300.90" y="200.93" width="6.90" height="4.54" fill="#1a4e9e"/>
<rect x="307.20" y="200.93" width="6.90" height="4.54" fill="#0b1754"/>
<rect x="313.50" y="200.93" width="6.90" height="4.54" fill="#1a4e9e"/>
<rect x="319.80" y="200.93" width="6.90" height="4.54" fill="#08093a"/>
<rect x="326.10" y="200.93" width="6.90" height="4.54" fill="#9ccde0"/>
<rect x="332.40" y="200.93" width="6.90" height="4.54" fill="#08093a"/>
<rect x="338.70" y="200.93" width="6.90" height="4.54" fill="#0f2d74"/>
<rect x="345.00" y="200.93" width="6.90" height="4.54" fill="#e2221e"/>
<rect x="351.30" y="200.93" width="13.20" height="4.54" fill="#08093a"/>
<rect x="363.90" y="200.93" width="6.90" height="4.54" fill="#1a4e9e"/>
<rect x="370.20" y="200.93" width="6.90" height="4.54" fill="#0b1754"/>
<rect x="376.50" y="200.93" width="6.90" height="4.54" fill="#1a4e9e"/>
<rect x="382.80" y="200.93" width="6.90" height="4.54" fill="#0f2d74"/>
<rect x="389.10" y="200.93" width="6.90" height="4.54" fill="#0b1754"/>
<rect x="395.40" y="200.93" width="13.20" height="4.54" fill="#08093a"/>
<rect x="408.00" y="200.93" width="6.90" height="4.54" fill="#1a4e9e"/>
<rect x="414.30" y="200.93" width="6.90" height="4.54" fill="#08093a"/>
<rect x="420.60" y="200.93" width="19.50" height="4.54" fill="#0b1754"/>
<rect x="439.50" y="200.93" width="13.20" height="4.54" fill="#08093a"/>
<rect x="452.10" y="200.93" width="6.90" height="4.54" fill="#0b1754"/>
<rect x="458.40" y="200.93" width="6.90" height="4.54" fill="#0f2d74"/>
<rect x="464.70" y="200.93" width="6.90" height="4.54" fill="#08093a"/>
<rect x="471.00" y="200.93" width="6.90" height="4.54" fill="#0f2d74"/>
<rect x="477.30" y="200.93" width="6.90" height="4.54" fill="#0b1754"/>
<rect x="483.60" y="200.93" width="13.20" height="4.54" fill="#0f2d74"/>
<rect x="118.20" y="204.86" width="6.90" height="4.54" fill="#9ccde0"/>
<rect x="124.50" y="204.86" width="6.90" height="4.54" fill="#08093a"/>
<rect x="130.80" y="204.86" width="6.90" height="4.54" fill="#f9a698"/>
<rect x="137.10" y="204.86" width="6.90" height="4.54" fill="#fbd6ce"/>
<rect x="143.40" y="204.86" width="6.90" height="4.54" fill="#e2221e"/>
<rect x="149.70" y="204.86" width="6.90" height="4.54" fill="#fbd6ce"/>
<rect x="156.00" y="204.86" width="13.20" height="4.54" fill="#e2221e"/>
<rect x="168.60" y="204.86" width="6.90" height="4.54" fill="#3680ba"/>
<rect x="174.90" y="204.86" width="6.90" height="4.54" fill="#1a4e9e"/>
<rect x="181.20" y="204.86" width="6.90" height="4.54" fill="#0b1754"/>
<rect x="187.50" y="204.86" width="6.90" height="4.54" fill="#08093a"/>
<rect x="193.80" y="204.86" width="6.90" height="4.54" fill="#f9a698"/>
<rect x="200.10" y="204.86" width="6.90" height="4.54" fill="#08093a"/>
<rect x="206.40" y="204.86" width="19.50" height="4.54" fill="#0b1754"/>
<rect x="225.30" y="204.86" width="6.90" height="4.54" fill="#e2221e"/>
<rect x="231.60" y="204.86" width="6.90" height="4.54" fill="#f26452"/>
<rect x="237.90" y="204.86" width="6.90" height="4.54" fill="#08093a"/>
<rect x="244.20" y="204.86" width="6.90" height="4.54" fill="#1a4e9e"/>
<rect x="250.50" y="204.86" width="6.90" height="4.54" fill="#3680ba"/>
<rect x="256.80" y="204.86" width="6.90" height="4.54" fill="#62a8ce"/>
<rect x="263.10" y="204.86" width="6.90" height="4.54" fill="#1a4e9e"/>
<rect x="269.40" y="204.86" width="19.50" height="4.54" fill="#0b1754"/>
<rect x="288.30" y="204.86" width="6.90" height="4.54" fill="#f8f6f6"/>
<rect x="294.60" y="204.86" width="6.90" height="4.54" fill="#08093a"/>
<rect x="300.90" y="204.86" width="6.90" height="4.54" fill="#0b1754"/>
<rect x="307.20" y="204.86" width="6.90" height="4.54" fill="#1a4e9e"/>
<rect x="313.50" y="204.86" width="6.90" height="4.54" fill="#3680ba"/>
<rect x="319.80" y="204.86" width="13.20" height="4.54" fill="#f8f6f6"/>
<rect x="332.40" y="204.86" width="6.90" height="4.54" fill="#0b1754"/>
<rect x="338.70" y="204.86" width="6.90" height="4.54" fill="#0f2d74"/>
<rect x="345.00" y="204.86" width="13.20" height="4.54" fill="#08093a"/>
<rect x="357.60" y="204.86" width="6.90" height="4.54" fill="#1a4e9e"/>
<rect x="363.90" y="204.86" width="6.90" height="4.54" fill="#08093a"/>
<rect x="370.20" y="204.86" width="6.90" height="4.54" fill="#0b1754"/>
<rect x="376.50" y="204.86" width="6.90" height="4.54" fill="#cce6f0"/>
<rect x="382.80" y="204.86" width="6.90" height="4.54" fill="#8e0a14"/>
<rect x="389.10" y="204.86" width="6.90" height="4.54" fill="#08093a"/>
<rect x="395.40" y="204.86" width="6.90" height="4.54" fill="#0b1754"/>
<rect x="401.70" y="204.86" width="19.50" height="4.54" fill="#08093a"/>
<rect x="420.60" y="204.86" width="19.50" height="4.54" fill="#0b1754"/>
<rect x="439.50" y="204.86" width="13.20" height="4.54" fill="#08093a"/>
<rect x="452.10" y="204.86" width="13.20" height="4.54" fill="#0b1754"/>
<rect x="464.70" y="204.86" width="6.90" height="4.54" fill="#08093a"/>
<rect x="471.00" y="204.86" width="6.90" height="4.54" fill="#0b1754"/>
<rect x="477.30" y="204.86" width="19.50" height="4.54" fill="#0f2d74"/>
<rect x="118.20" y="208.80" width="6.90" height="4.54" fill="#08093a"/>
<rect x="124.50" y="208.80" width="13.20" height="4.54" fill="#ba0d18"/>
<rect x="137.10" y="208.80" width="6.90" height="4.54" fill="#e2221e"/>
<rect x="143.40" y="208.80" width="6.90" height="4.54" fill="#f26452"/>
<rect x="149.70" y="208.80" width="6.90" height="4.54" fill="#e2221e"/>
<rect x="156.00" y="208.80" width="6.90" height="4.54" fill="#1a4e9e"/>
<rect x="162.30" y="208.80" width="6.90" height="4.54" fill="#e2221e"/>
<rect x="168.60" y="208.80" width="6.90" height="4.54" fill="#f9a698"/>
<rect x="174.90" y="208.80" width="6.90" height="4.54" fill="#fbd6ce"/>
<rect x="181.20" y="208.80" width="6.90" height="4.54" fill="#f26452"/>
<rect x="187.50" y="208.80" width="6.90" height="4.54" fill="#08093a"/>
<rect x="193.80" y="208.80" width="6.90" height="4.54" fill="#0b1754"/>
<rect x="200.10" y="208.80" width="6.90" height="4.54" fill="#08093a"/>
<rect x="206.40" y="208.80" width="6.90" height="4.54" fill="#3680ba"/>
<rect x="212.70" y="208.80" width="19.50" height="4.54" fill="#0b1754"/>
<rect x="231.60" y="208.80" width="13.20" height="4.54" fill="#08093a"/>
<rect x="244.20" y="208.80" width="6.90" height="4.54" fill="#1a4e9e"/>
<rect x="250.50" y="208.80" width="6.90" height="4.54" fill="#3680ba"/>
<rect x="256.80" y="208.80" width="6.90" height="4.54" fill="#9ccde0"/>
<rect x="263.10" y="208.80" width="6.90" height="4.54" fill="#1a4e9e"/>
<rect x="269.40" y="208.80" width="13.20" height="4.54" fill="#0b1754"/>
<rect x="282.00" y="208.80" width="6.90" height="4.54" fill="#1a4e9e"/>
<rect x="288.30" y="208.80" width="6.90" height="4.54" fill="#3680ba"/>
<rect x="294.60" y="208.80" width="13.20" height="4.54" fill="#1a4e9e"/>
<rect x="307.20" y="208.80" width="13.20" height="4.54" fill="#3680ba"/>
<rect x="319.80" y="208.80" width="6.90" height="4.54" fill="#62a8ce"/>
<rect x="326.10" y="208.80" width="6.90" height="4.54" fill="#0b1754"/>
<rect x="332.40" y="208.80" width="13.20" height="4.54" fill="#1a4e9e"/>
<rect x="345.00" y="208.80" width="13.20" height="4.54" fill="#08093a"/>
<rect x="357.60" y="208.80" width="6.90" height="4.54" fill="#1a4e9e"/>
<rect x="363.90" y="208.80" width="6.90" height="4.54" fill="#08093a"/>
<rect x="370.20" y="208.80" width="13.20" height="4.54" fill="#0b1754"/>
<rect x="382.80" y="208.80" width="6.90" height="4.54" fill="#0f2d74"/>
<rect x="389.10" y="208.80" width="32.10" height="4.54" fill="#08093a"/>
<rect x="420.60" y="208.80" width="19.50" height="4.54" fill="#0b1754"/>
<rect x="439.50" y="208.80" width="13.20" height="4.54" fill="#08093a"/>
<rect x="452.10" y="208.80" width="13.20" height="4.54" fill="#0b1754"/>
<rect x="464.70" y="208.80" width="6.90" height="4.54" fill="#08093a"/>
<rect x="471.00" y="208.80" width="6.90" height="4.54" fill="#0f2d74"/>
<rect x="477.30" y="208.80" width="6.90" height="4.54" fill="#0b1754"/>
<rect x="483.60" y="208.80" width="13.20" height="4.54" fill="#0f2d74"/>
<rect x="118.20" y="212.73" width="6.90" height="4.54" fill="#08093a"/>
<rect x="124.50" y="212.73" width="6.90" height="4.54" fill="#ba0d18"/>
<rect x="130.80" y="212.73" width="25.80" height="4.54" fill="#e2221e"/>
<rect x="156.00" y="212.73" width="6.90" height="4.54" fill="#1a4e9e"/>
<rect x="162.30" y="212.73" width="6.90" height="4.54" fill="#f26452"/>
<rect x="168.60" y="212.73" width="13.20" height="4.54" fill="#fbd6ce"/>
<rect x="181.20" y="212.73" width="6.90" height="4.54" fill="#e2221e"/>
<rect x="187.50" y="212.73" width="6.90" height="4.54" fill="#f26452"/>
<rect x="193.80" y="212.73" width="13.20" height="4.54" fill="#e2221e"/>
<rect x="206.40" y="212.73" width="6.90" height="4.54" fill="#9ccde0"/>
<rect x="212.70" y="212.73" width="6.90" height="4.54" fill="#3680ba"/>
<rect x="219.00" y="212.73" width="6.90" height="4.54" fill="#9ccde0"/>
<rect x="225.30" y="212.73" width="6.90" height="4.54" fill="#3680ba"/>
<rect x="231.60" y="212.73" width="6.90" height="4.54" fill="#ba0d18"/>
<rect x="237.90" y="212.73" width="6.90" height="4.54" fill="#e2221e"/>
<rect x="244.20" y="212.73" width="13.20" height="4.54" fill="#1a4e9e"/>
<rect x="256.80" y="212.73" width="6.90" height="4.54" fill="#62a8ce"/>
<rect x="263.10" y="212.73" width="6.90" height="4.54" fill="#1a4e9e"/>
<rect x="269.40" y="212.73" width="6.90" height="4.54" fill="#08093a"/>
<rect x="275.70" y="212.73" width="6.90" height="4.54" fill="#0b1754"/>
<rect x="282.00" y="212.73" width="6.90" height="4.54" fill="#1a4e9e"/>
<rect x="288.30" y="212.73" width="6.90" height="4.54" fill="#0b1754"/>
<rect x="294.60" y="212.73" width="25.80" height="4.54" fill="#1a4e9e"/>
<rect x="319.80" y="212.73" width="6.90" height="4.54" fill="#3680ba"/>
<rect x="326.10" y="212.73" width="13.20" height="4.54" fill="#0b1754"/>
<rect x="338.70" y="212.73" width="6.90" height="4.54" fill="#9ccde0"/>
<rect x="345.00" y="212.73" width="6.90" height="4.54" fill="#ba0d18"/>
<rect x="351.30" y="212.73" width="6.90" height="4.54" fill="#62a8ce"/>
<rect x="357.60" y="212.73" width="6.90" height="4.54" fill="#08093a"/>
<rect x="363.90" y="212.73" width="6.90" height="4.54" fill="#3680ba"/>
<rect x="370.20" y="212.73" width="13.20" height="4.54" fill="#62a8ce"/>
<rect x="382.80" y="212.73" width="6.90" height="4.54" fill="#1a4e9e"/>
<rect x="389.10" y="212.73" width="32.10" height="4.54" fill="#08093a"/>
<rect x="420.60" y="212.73" width="13.20" height="4.54" fill="#0b1754"/>
<rect x="433.20" y="212.73" width="6.90" height="4.54" fill="#0f2d74"/>
<rect x="439.50" y="212.73" width="13.20" height="4.54" fill="#08093a"/>
<rect x="452.10" y="212.73" width="6.90" height="4.54" fill="#0f2d74"/>
<rect x="458.40" y="212.73" width="6.90" height="4.54" fill="#1a4e9e"/>
<rect x="464.70" y="212.73" width="6.90" height="4.54" fill="#0f2d74"/>
<rect x="471.00" y="212.73" width="13.20" height="4.54" fill="#1a4e9e"/>
<rect x="483.60" y="212.73" width="6.90" height="4.54" fill="#0f2d74"/>
<rect x="489.90" y="212.73" width="6.90" height="4.54" fill="#1a4e9e"/>
<rect x="118.20" y="216.67" width="6.90" height="4.54" fill="#e2221e"/>
<rect x="124.50" y="216.67" width="13.20" height="4.54" fill="#ba0d18"/>
<rect x="137.10" y="216.67" width="19.50" height="4.54" fill="#e2221e"/>
<rect x="156.00" y="216.67" width="6.90" height="4.54" fill="#0f2d74"/>
<rect x="162.30" y="216.67" width="6.90" height="4.54" fill="#ba0d18"/>
<rect x="168.60" y="216.67" width="6.90" height="4.54" fill="#e2221e"/>
<rect x="174.90" y="216.67" width="6.90" height="4.54" fill="#fbd6ce"/>
<rect x="181.20" y="216.67" width="19.50" height="4.54" fill="#e2221e"/>
<rect x="200.10" y="216.67" width="6.90" height="4.54" fill="#ba0d18"/>
<rect x="206.40" y="216.67" width="6.90" height="4.54" fill="#f26452"/>
<rect x="212.70" y="216.67" width="25.80" height="4.54" fill="#e2221e"/>
<rect x="237.90" y="216.67" width="6.90" height="4.54" fill="#1a4e9e"/>
<rect x="244.20" y="216.67" width="6.90" height="4.54" fill="#e2221e"/>
<rect x="250.50" y="216.67" width="6.90" height="4.54" fill="#f9a698"/>
<rect x="256.80" y="216.67" width="6.90" height="4.54" fill="#3680ba"/>
<rect x="263.10" y="216.67" width="6.90" height="4.54" fill="#9ccde0"/>
<rect x="269.40" y="216.67" width="6.90" height="4.54" fill="#cce6f0"/>
<rect x="275.70" y="216.67" width="6.90" height="4.54" fill="#1a4e9e"/>
<rect x="282.00" y="216.67" width="13.20" height="4.54" fill="#3680ba"/>
<rect x="294.60" y="216.67" width="25.80" height="4.54" fill="#1a4e9e"/>
<rect x="319.80" y="216.67" width="6.90" height="4.54" fill="#3680ba"/>
<rect x="326.10" y="216.67" width="6.90" height="4.54" fill="#62a8ce"/>
<rect x="332.40" y="216.67" width="6.90" height="4.54" fill="#1a4e9e"/>
<rect x="338.70" y="216.67" width="6.90" height="4.54" fill="#0f2d74"/>
<rect x="345.00" y="216.67" width="19.50" height="4.54" fill="#08093a"/>
<rect x="363.90" y="216.67" width="6.90" height="4.54" fill="#0b1754"/>
<rect x="370.20" y="216.67" width="6.90" height="4.54" fill="#1a4e9e"/>
<rect x="376.50" y="216.67" width="13.20" height="4.54" fill="#0f2d74"/>
<rect x="389.10" y="216.67" width="32.10" height="4.54" fill="#08093a"/>
<rect x="420.60" y="216.67" width="6.90" height="4.54" fill="#0f2d74"/>
<rect x="426.90" y="216.67" width="13.20" height="4.54" fill="#0b1754"/>
<rect x="439.50" y="216.67" width="6.90" height="4.54" fill="#1a4e9e"/>
<rect x="445.80" y="216.67" width="13.20" height="4.54" fill="#3680ba"/>
<rect x="458.40" y="216.67" width="6.90" height="4.54" fill="#0b1754"/>
<rect x="464.70" y="216.67" width="6.90" height="4.54" fill="#08093a"/>
<rect x="471.00" y="216.67" width="6.90" height="4.54" fill="#0f2d74"/>
<rect x="477.30" y="216.67" width="13.20" height="4.54" fill="#0b1754"/>
<rect x="489.90" y="216.67" width="6.90" height="4.54" fill="#0f2d74"/>
<rect x="118.20" y="220.60" width="6.90" height="4.54" fill="#9ccde0"/>
<rect x="124.50" y="220.60" width="6.90" height="4.54" fill="#8e0a14"/>
<rect x="130.80" y="220.60" width="13.20" height="4.54" fill="#ba0d18"/>
<rect x="143.40" y="220.60" width="6.90" height="4.54" fill="#9ccde0"/>
<rect x="149.70" y="220.60" width="6.90" height="4.54" fill="#e2221e"/>
<rect x="156.00" y="220.60" width="6.90" height="4.54" fill="#1a4e9e"/>
<rect x="162.30" y="220.60" width="6.90" height="4.54" fill="#3680ba"/>
<rect x="168.60" y="220.60" width="13.20" height="4.54" fill="#fbd6ce"/>
<rect x="181.20" y="220.60" width="6.90" height="4.54" fill="#e2221e"/>
<rect x="187.50" y="220.60" width="6.90" height="4.54" fill="#8e0a14"/>
<rect x="193.80" y="220.60" width="6.90" height="4.54" fill="#9ccde0"/>
<rect x="200.10" y="220.60" width="6.90" height="4.54" fill="#e2221e"/>
<rect x="206.40" y="220.60" width="13.20" height="4.54" fill="#3680ba"/>
<rect x="219.00" y="220.60" width="6.90" height="4.54" fill="#ba0d18"/>
<rect x="225.30" y="220.60" width="6.90" height="4.54" fill="#cce6f0"/>
<rect x="231.60" y="220.60" width="6.90" height="4.54" fill="#9ccde0"/>
<rect x="237.90" y="220.60" width="6.90" height="4.54" fill="#3680ba"/>
<rect x="244.20" y="220.60" width="6.90" height="4.54" fill="#f26452"/>
<rect x="250.50" y="220.60" width="6.90" height="4.54" fill="#fbd6ce"/>
<rect x="256.80" y="220.60" width="6.90" height="4.54" fill="#3680ba"/>
<rect x="263.10" y="220.60" width="6.90" height="4.54" fill="#62a8ce"/>
<rect x="269.40" y="220.60" width="6.90" height="4.54" fill="#9ccde0"/>
<rect x="275.70" y="220.60" width="19.50" height="4.54" fill="#3680ba"/>
<rect x="294.60" y="220.60" width="6.90" height="4.54" fill="#0b1754"/>
<rect x="300.90" y="220.60" width="19.50" height="4.54" fill="#1a4e9e"/>
<rect x="319.80" y="220.60" width="6.90" height="4.54" fill="#3680ba"/>
<rect x="326.10" y="220.60" width="19.50" height="4.54" fill="#0b1754"/>
<rect x="345.00" y="220.60" width="32.10" height="4.54" fill="#08093a"/>
<rect x="376.50" y="220.60" width="13.20" height="4.54" fill="#0b1754"/>
<rect x="389.10" y="220.60" width="6.90" height="4.54" fill="#f8f6f6"/>
<rect x="395.40" y="220.60" width="25.80" height="4.54" fill="#08093a"/>
<rect x="420.60" y="220.60" width="6.90" height="4.54" fill="#0f2d74"/>
<rect x="426.90" y="220.60" width="13.20" height="4.54" fill="#0b1754"/>
<rect x="439.50" y="220.60" width="19.50" height="4.54" fill="#1a4e9e"/>
<rect x="458.40" y="220.60" width="6.90" height="4.54" fill="#0b1754"/>
<rect x="464.70" y="220.60" width="6.90" height="4.54" fill="#08093a"/>
<rect x="471.00" y="220.60" width="6.90" height="4.54" fill="#0f2d74"/>
<rect x="477.30" y="220.60" width="13.20" height="4.54" fill="#0b1754"/>
<rect x="489.90" y="220.60" width="6.90" height="4.54" fill="#0f2d74"/>
<rect x="118.20" y="224.54" width="6.90" height="4.54" fill="#ba0d18"/>
<rect x="124.50" y="224.54" width="6.90" height="4.54" fill="#8e0a14"/>
<rect x="130.80" y="224.54" width="6.90" height="4.54" fill="#e2221e"/>
<rect x="137.10" y="224.54" width="6.90" height="4.54" fill="#ba0d18"/>
<rect x="143.40" y="224.54" width="6.90" height="4.54" fill="#f26452"/>
<rect x="149.70" y="224.54" width="6.90" height="4.54" fill="#e2221e"/>
<rect x="156.00" y="224.54" width="6.90" height="4.54" fill="#1a4e9e"/>
<rect x="162.30" y="224.54" width="6.90" height="4.54" fill="#3680ba"/>
<rect x="168.60" y="224.54" width="13.20" height="4.54" fill="#f26452"/>
<rect x="181.20" y="224.54" width="6.90" height="4.54" fill="#e2221e"/>
<rect x="187.50" y="224.54" width="6.90" height="4.54" fill="#fbd6ce"/>
<rect x="193.80" y="224.54" width="6.90" height="4.54" fill="#62a8ce"/>
<rect x="200.10" y="224.54" width="6.90" height="4.54" fill="#08093a"/>
<rect x="206.40" y="224.54" width="6.90" height="4.54" fill="#0b1754"/>
<rect x="212.70" y="224.54" width="13.20" height="4.54" fill="#08093a"/>
<rect x="225.30" y="224.54" width="6.90" height="4.54" fill="#cce6f0"/>
<rect x="231.60" y="224.54" width="6.90" height="4.54" fill="#f9a698"/>
<rect x="237.90" y="224.54" width="6.90" height="4.54" fill="#0b1754"/>
<rect x="244.20" y="224.54" width="6.90" height="4.54" fill="#f9a698"/>
<rect x="250.50" y="224.54" width="6.90" height="4.54" fill="#cce6f0"/>
<rect x="256.80" y="224.54" width="6.90" height="4.54" fill="#0b1754"/>
<rect x="263.10" y="224.54" width="6.90" height="4.54" fill="#1a4e9e"/>
<rect x="269.40" y="224.54" width="25.80" height="4.54" fill="#3680ba"/>
<rect x="294.60" y="224.54" width="6.90" height="4.54" fill="#62a8ce"/>
<rect x="300.90" y="224.54" width="19.50" height="4.54" fill="#1a4e9e"/>
<rect x="319.80" y="224.54" width="6.90" height="4.54" fill="#62a8ce"/>
<rect x="326.10" y="224.54" width="6.90" height="4.54" fill="#3680ba"/>
<rect x="332.40" y="224.54" width="6.90" height="4.54" fill="#0b1754"/>
<rect x="338.70" y="224.54" width="6.90" height="4.54" fill="#1a4e9e"/>
<rect x="345.00" y="224.54" width="6.90" height="4.54" fill="#0b1754"/>
<rect x="351.30" y="224.54" width="6.90" height="4.54" fill="#08093a"/>
<rect x="357.60" y="224.54" width="6.90" height="4.54" fill="#1a4e9e"/>
<rect x="363.90" y="224.54" width="13.20" height="4.54" fill="#0b1754"/>
<rect x="376.50" y="224.54" width="13.20" height="4.54" fill="#1a4e9e"/>
<rect x="389.10" y="224.54" width="32.10" height="4.54" fill="#08093a"/>
<rect x="420.60" y="224.54" width="6.90" height="4.54" fill="#1a4e9e"/>
<rect x="426.90" y="224.54" width="13.20" height="4.54" fill="#0b1754"/>
<rect x="439.50" y="224.54" width="13.20" height="4.54" fill="#08093a"/>
<rect x="452.10" y="224.54" width="19.50" height="4.54" fill="#0b1754"/>
<rect x="471.00" y="224.54" width="25.80" height="4.54" fill="#0f2d74"/>
<rect x="118.20" y="228.47" width="6.90" height="4.54" fill="#8e0a14"/>
<rect x="124.50" y="228.47" width="6.90" height="4.54" fill="#ba0d18"/>
<rect x="130.80" y="228.47" width="6.90" height="4.54" fill="#e2221e"/>
<rect x="137.10" y="228.47" width="6.90" height="4.54" fill="#8e0a14"/>
<rect x="143.40" y="228.47" width="6.90" height="4.54" fill="#f26452"/>
<rect x="149.70" y="228.47" width="6.90" height="4.54" fill="#e2221e"/>
<rect x="156.00" y="228.47" width="6.90" height="4.54" fill="#1a4e9e"/>
<rect x="162.30" y="228.47" width="13.20" height="4.54" fill="#f26452"/>
<rect x="174.90" y="228.47" width="6.90" height="4.54" fill="#fbd6ce"/>
<rect x="181.20" y="228.47" width="6.90" height="4.54" fill="#e2221e"/>
<rect x="187.50" y="228.47" width="6.90" height="4.54" fill="#8e0a14"/>
<rect x="193.80" y="228.47" width="6.90" height="4.54" fill="#e2221e"/>
<rect x="200.10" y="228.47" width="6.90" height="4.54" fill="#f9a698"/>
<rect x="206.40" y="228.47" width="6.90" height="4.54" fill="#ba0d18"/>
<rect x="212.70" y="228.47" width="6.90" height="4.54" fill="#fbd6ce"/>
<rect x="219.00" y="228.47" width="6.90" height="4.54" fill="#f9a698"/>
<rect x="225.30" y="228.47" width="6.90" height="4.54" fill="#ba0d18"/>
<rect x="231.60" y="228.47" width="6.90" height="4.54" fill="#fbd6ce"/>
<rect x="237.90" y="228.47" width="6.90" height="4.54" fill="#3680ba"/>
<rect x="244.20" y="228.47" width="6.90" height="4.54" fill="#ba0d18"/>
<rect x="250.50" y="228.47" width="6.90" height="4.54" fill="#9ccde0"/>
<rect x="256.80" y="228.47" width="6.90" height="4.54" fill="#62a8ce"/>
<rect x="263.10" y="228.47" width="6.90" height="4.54" fill="#9ccde0"/>
<rect x="269.40" y="228.47" width="13.20" height="4.54" fill="#62a8ce"/>
<rect x="282.00" y="228.47" width="6.90" height="4.54" fill="#3680ba"/>
<rect x="288.30" y="228.47" width="6.90" height="4.54" fill="#9ccde0"/>
<rect x="294.60" y="228.47" width="6.90" height="4.54" fill="#cce6f0"/>
<rect x="300.90" y="228.47" width="19.50" height="4.54" fill="#3680ba"/>
<rect x="319.80" y="228.47" width="6.90" height="4.54" fill="#cce6f0"/>
<rect x="326.10" y="228.47" width="6.90" height="4.54" fill="#62a8ce"/>
<rect x="332.40" y="228.47" width="6.90" height="4.54" fill="#1a4e9e"/>
<rect x="338.70" y="228.47" width="6.90" height="4.54" fill="#f8f6f6"/>
<rect x="345.00" y="228.47" width="6.90" height="4.54" fill="#0f2d74"/>
<rect x="351.30" y="228.47" width="6.90" height="4.54" fill="#08093a"/>
<rect x="357.60" y="228.47" width="6.90" height="4.54" fill="#1a4e9e"/>
<rect x="363.90" y="228.47" width="13.20" height="4.54" fill="#9ccde0"/>
<rect x="376.50" y="228.47" width="13.20" height="4.54" fill="#1a4e9e"/>
<rect x="389.10" y="228.47" width="19.50" height="4.54" fill="#08093a"/>
<rect x="408.00" y="228.47" width="6.90" height="4.54" fill="#1a4e9e"/>
<rect x="414.30" y="228.47" width="6.90" height="4.54" fill="#08093a"/>
<rect x="420.60" y="228.47" width="6.90" height="4.54" fill="#1a4e9e"/>
<rect x="426.90" y="228.47" width="13.20" height="4.54" fill="#0b1754"/>
<rect x="439.50" y="228.47" width="6.90" height="4.54" fill="#08093a"/>
<rect x="445.80" y="228.47" width="6.90" height="4.54" fill="#f9a698"/>
<rect x="452.10" y="228.47" width="6.90" height="4.54" fill="#0b1754"/>
<rect x="458.40" y="228.47" width="6.90" height="4.54" fill="#1a4e9e"/>
<rect x="464.70" y="228.47" width="6.90" height="4.54" fill="#9ccde0"/>
<rect x="471.00" y="228.47" width="6.90" height="4.54" fill="#0f2d74"/>
<rect x="477.30" y="228.47" width="19.50" height="4.54" fill="#1a4e9e"/>
<rect x="118.20" y="232.41" width="25.80" height="4.54" fill="#ba0d18"/>
<rect x="143.40" y="232.41" width="6.90" height="4.54" fill="#f26452"/>
<rect x="149.70" y="232.41" width="6.90" height="4.54" fill="#e2221e"/>
<rect x="156.00" y="232.41" width="6.90" height="4.54" fill="#1a4e9e"/>
<rect x="162.30" y="232.41" width="6.90" height="4.54" fill="#f26452"/>
<rect x="168.60" y="232.41" width="6.90" height="4.54" fill="#8e0a14"/>
<rect x="174.90" y="232.41" width="6.90" height="4.54" fill="#fbd6ce"/>
<rect x="181.20" y="232.41" width="6.90" height="4.54" fill="#e2221e"/>
<rect x="187.50" y="232.41" width="6.90" height="4.54" fill="#8e0a14"/>
<rect x="193.80" y="232.41" width="13.20" height="4.54" fill="#ba0d18"/>
<rect x="206.40" y="232.41" width="6.90" height="4.54" fill="#f9a698"/>
<rect x="212.70" y="232.41" width="13.20" height="4.54" fill="#f26452"/>
<rect x="225.30" y="232.41" width="13.20" height="4.54" fill="#9ccde0"/>
<rect x="237.90" y="232.41" width="6.90" height="4.54" fill="#f9a698"/>
<rect x="244.20" y="232.41" width="6.90" height="4.54" fill="#ba0d18"/>
<rect x="250.50" y="232.41" width="6.90" height="4.54" fill="#cce6f0"/>
<rect x="256.80" y="232.41" width="6.90" height="4.54" fill="#f26452"/>
<rect x="263.10" y="232.41" width="6.90" height="4.54" fill="#3680ba"/>
<rect x="269.40" y="232.41" width="6.90" height="4.54" fill="#f8f6f6"/>
<rect x="275.70" y="232.41" width="6.90" height="4.54" fill="#08093a"/>
<rect x="282.00" y="232.41" width="6.90" height="4.54" fill="#3680ba"/>
<rect x="288.30" y="232.41" width="13.20" height="4.54" fill="#1a4e9e"/>
<rect x="300.90" y="232.41" width="6.90" height="4.54" fill="#3680ba"/>
<rect x="307.20" y="232.41" width="13.20" height="4.54" fill="#1a4e9e"/>
<rect x="319.80" y="232.41" width="25.80" height="4.54" fill="#0b1754"/>
<rect x="345.00" y="232.41" width="13.20" height="4.54" fill="#08093a"/>
<rect x="357.60" y="232.41" width="6.90" height="4.54" fill="#0b1754"/>
<rect x="363.90" y="232.41" width="13.20" height="4.54" fill="#08093a"/>
<rect x="376.50" y="232.41" width="13.20" height="4.54" fill="#0f2d74"/>
<rect x="389.10" y="232.41" width="6.90" height="4.54" fill="#cce6f0"/>
<rect x="395.40" y="232.41" width="25.80" height="4.54" fill="#08093a"/>
<rect x="420.60" y="232.41" width="19.50" height="4.54" fill="#0b1754"/>
<rect x="439.50" y="232.41" width="13.20" height="4.54" fill="#1a4e9e"/>
<rect x="452.10" y="232.41" width="6.90" height="4.54" fill="#62a8ce"/>
<rect x="458.40" y="232.41" width="6.90" height="4.54" fill="#0f2d74"/>
<rect x="464.70" y="232.41" width="25.80" height="4.54" fill="#0b1754"/>
<rect x="489.90" y="232.41" width="6.90" height="4.54" fill="#0f2d74"/>
<rect x="118.20" y="236.34" width="6.90" height="4.54" fill="#3680ba"/>
<rect x="124.50" y="236.34" width="13.20" height="4.54" fill="#ba0d18"/>
<rect x="137.10" y="236.34" width="19.50" height="4.54" fill="#e2221e"/>
<rect x="156.00" y="236.34" width="6.90" height="4.54" fill="#ba0d18"/>
<rect x="162.30" y="236.34" width="6.90" height="4.54" fill="#0b1754"/>
<rect x="168.60" y="236.34" width="13.20" height="4.54" fill="#f9a698"/>
<rect x="181.20" y="236.34" width="6.90" height="4.54" fill="#0b1754"/>
<rect x="187.50" y="236.34" width="6.90" height="4.54" fill="#08093a"/>
<rect x="193.80" y="236.34" width="6.90" height="4.54" fill="#0b1754"/>
<rect x="200.10" y="236.34" width="6.90" height="4.54" fill="#08093a"/>
<rect x="206.40" y="236.34" width="6.90" height="4.54" fill="#0b1754"/>
<rect x="212.70" y="236.34" width="13.20" height="4.54" fill="#3680ba"/>
<rect x="225.30" y="236.34" width="13.20" height="4.54" fill="#0b1754"/>
<rect x="237.90" y="236.34" width="6.90" height="4.54" fill="#1a4e9e"/>
<rect x="244.20" y="236.34" width="13.20" height="4.54" fill="#3680ba"/>
<rect x="256.80" y="236.34" width="13.20" height="4.54" fill="#62a8ce"/>
<rect x="269.40" y="236.34" width="6.90" height="4.54" fill="#1a4e9e"/>
<rect x="275.70" y="236.34" width="6.90" height="4.54" fill="#3680ba"/>
<rect x="282.00" y="236.34" width="38.40" height="4.54" fill="#1a4e9e"/>
<rect x="319.80" y="236.34" width="6.90" height="4.54" fill="#0b1754"/>
<rect x="326.10" y="236.34" width="6.90" height="4.54" fill="#08093a"/>
<rect x="332.40" y="236.34" width="13.20" height="4.54" fill="#0b1754"/>
<rect x="345.00" y="236.34" width="13.20" height="4.54" fill="#08093a"/>
<rect x="357.60" y="236.34" width="6.90" height="4.54" fill="#1a4e9e"/>
<rect x="363.90" y="236.34" width="13.20" height="4.54" fill="#08093a"/>
<rect x="376.50" y="236.34" width="6.90" height="4.54" fill="#0b1754"/>
<rect x="382.80" y="236.34" width="6.90" height="4.54" fill="#0f2d74"/>
<rect x="389.10" y="236.34" width="32.10" height="4.54" fill="#08093a"/>
<rect x="420.60" y="236.34" width="19.50" height="4.54" fill="#0b1754"/>
<rect x="439.50" y="236.34" width="19.50" height="4.54" fill="#08093a"/>
<rect x="458.40" y="236.34" width="6.90" height="4.54" fill="#0b1754"/>
<rect x="464.70" y="236.34" width="6.90" height="4.54" fill="#08093a"/>
<rect x="471.00" y="236.34" width="25.80" height="4.54" fill="#0b1754"/>
<rect x="118.20" y="240.28" width="13.20" height="4.54" fill="#8e0a14"/>
<rect x="130.80" y="240.28" width="6.90" height="4.54" fill="#ba0d18"/>
<rect x="137.10" y="240.28" width="6.90" height="4.54" fill="#8e0a14"/>
<rect x="143.40" y="240.28" width="6.90" height="4.54" fill="#e2221e"/>
<rect x="149.70" y="240.28" width="6.90" height="4.54" fill="#ba0d18"/>
<rect x="156.00" y="240.28" width="6.90" height="4.54" fill="#1a4e9e"/>
<rect x="162.30" y="240.28" width="6.90" height="4.54" fill="#3680ba"/>
<rect x="168.60" y="240.28" width="6.90" height="4.54" fill="#e2221e"/>
<rect x="174.90" y="240.28" width="6.90" height="4.54" fill="#fbd6ce"/>
<rect x="181.20" y="240.28" width="6.90" height="4.54" fill="#e2221e"/>
<rect x="187.50" y="240.28" width="6.90" height="4.54" fill="#0b1754"/>
<rect x="193.80" y="240.28" width="13.20" height="4.54" fill="#ba0d18"/>
<rect x="206.40" y="240.28" width="19.50" height="4.54" fill="#e2221e"/>
<rect x="225.30" y="240.28" width="6.90" height="4.54" fill="#f26452"/>
<rect x="231.60" y="240.28" width="13.20" height="4.54" fill="#e2221e"/>
<rect x="244.20" y="240.28" width="6.90" height="4.54" fill="#ba0d18"/>
<rect x="250.50" y="240.28" width="6.90" height="4.54" fill="#f9a698"/>
<rect x="256.80" y="240.28" width="6.90" height="4.54" fill="#e2221e"/>
<rect x="263.10" y="240.28" width="6.90" height="4.54" fill="#9ccde0"/>
<rect x="269.40" y="240.28" width="6.90" height="4.54" fill="#f9a698"/>
<rect x="275.70" y="240.28" width="6.90" height="4.54" fill="#62a8ce"/>
<rect x="282.00" y="240.28" width="6.90" height="4.54" fill="#3680ba"/>
<rect x="288.30" y="240.28" width="6.90" height="4.54" fill="#62a8ce"/>
<rect x="294.60" y="240.28" width="19.50" height="4.54" fill="#3680ba"/>
<rect x="313.50" y="240.28" width="6.90" height="4.54" fill="#62a8ce"/>
<rect x="319.80" y="240.28" width="6.90" height="4.54" fill="#9ccde0"/>
<rect x="326.10" y="240.28" width="6.90" height="4.54" fill="#62a8ce"/>
<rect x="332.40" y="240.28" width="6.90" height="4.54" fill="#1a4e9e"/>
<rect x="338.70" y="240.28" width="6.90" height="4.54" fill="#0f2d74"/>
<rect x="345.00" y="240.28" width="19.50" height="4.54" fill="#08093a"/>
<rect x="363.90" y="240.28" width="6.90" height="4.54" fill="#62a8ce"/>
<rect x="370.20" y="240.28" width="6.90" height="4.54" fill="#9ccde0"/>
<rect x="376.50" y="240.28" width="6.90" height="4.54" fill="#3680ba"/>
<rect x="382.80" y="240.28" width="6.90" height="4.54" fill="#1a4e9e"/>
<rect x="389.10" y="240.28" width="6.90" height="4.54" fill="#f8f6f6"/>
<rect x="395.40" y="240.28" width="19.50" height="4.54" fill="#08093a"/>
<rect x="414.30" y="240.28" width="13.20" height="4.54" fill="#1a4e9e"/>
<rect x="426.90" y="240.28" width="6.90" height="4.54" fill="#0f2d74"/>
<rect x="433.20" y="240.28" width="6.90" height="4.54" fill="#0b1754"/>
<rect x="439.50" y="240.28" width="6.90" height="4.54" fill="#0f2d74"/>
<rect x="445.80" y="240.28" width="6.90" height="4.54" fill="#9ccde0"/>
<rect x="452.10" y="240.28" width="13.20" height="4.54" fill="#1a4e9e"/>
<rect x="464.70" y="240.28" width="6.90" height="4.54" fill="#3680ba"/>
<rect x="471.00" y="240.28" width="6.90" height="4.54" fill="#0f2d74"/>
<rect x="477.30" y="240.28" width="19.50" height="4.54" fill="#1a4e9e"/>
<rect x="118.20" y="244.21" width="6.90" height="4.54" fill="#0b1754"/>
<rect x="124.50" y="244.21" width="6.90" height="4.54" fill="#8e0a14"/>
<rect x="130.80" y="244.21" width="13.20" height="4.54" fill="#ba0d18"/>
<rect x="143.40" y="244.21" width="6.90" height="4.54" fill="#e2221e"/>
<rect x="149.70" y="244.21" width="6.90" height="4.54" fill="#8e0a14"/>
<rect x="156.00" y="244.21" width="6.90" height="4.54" fill="#f9a698"/>
<rect x="162.30" y="244.21" width="6.90" height="4.54" fill="#9ccde0"/>
<rect x="168.60" y="244.21" width="13.20" height="4.54" fill="#f26452"/>
<rect x="181.20" y="244.21" width="6.90" height="4.54" fill="#e2221e"/>
<rect x="187.50" y="244.21" width="6.90" height="4.54" fill="#9ccde0"/>
<rect x="193.80" y="244.21" width="6.90" height="4.54" fill="#e2221e"/>
<rect x="200.10" y="244.21" width="6.90" height="4.54" fill="#08093a"/>
<rect x="206.40" y="244.21" width="6.90" height="4.54" fill="#1a4e9e"/>
<rect x="212.70" y="244.21" width="6.90" height="4.54" fill="#08093a"/>
<rect x="219.00" y="244.21" width="6.90" height="4.54" fill="#0b1754"/>
<rect x="225.30" y="244.21" width="13.20" height="4.54" fill="#e2221e"/>
<rect x="237.90" y="244.21" width="6.90" height="4.54" fill="#62a8ce"/>
<rect x="244.20" y="244.21" width="13.20" height="4.54" fill="#fbd6ce"/>
<rect x="256.80" y="244.21" width="6.90" height="4.54" fill="#3680ba"/>
<rect x="263.10" y="244.21" width="6.90" height="4.54" fill="#cce6f0"/>
<rect x="269.40" y="244.21" width="6.90" height="4.54" fill="#62a8ce"/>
<rect x="275.70" y="244.21" width="6.90" height="4.54" fill="#9ccde0"/>
<rect x="282.00" y="244.21" width="6.90" height="4.54" fill="#62a8ce"/>
<rect x="288.30" y="244.21" width="6.90" height="4.54" fill="#9ccde0"/>
<rect x="294.60" y="244.21" width="6.90" height="4.54" fill="#62a8ce"/>
<rect x="300.90" y="244.21" width="13.20" height="4.54" fill="#3680ba"/>
<rect x="313.50" y="244.21" width="6.90" height="4.54" fill="#62a8ce"/>
<rect x="319.80" y="244.21" width="6.90" height="4.54" fill="#cce6f0"/>
<rect x="326.10" y="244.21" width="6.90" height="4.54" fill="#9ccde0"/>
<rect x="332.40" y="244.21" width="6.90" height="4.54" fill="#1a4e9e"/>
<rect x="338.70" y="244.21" width="6.90" height="4.54" fill="#0f2d74"/>
<rect x="345.00" y="244.21" width="19.50" height="4.54" fill="#08093a"/>
<rect x="363.90" y="244.21" width="6.90" height="4.54" fill="#3680ba"/>
<rect x="370.20" y="244.21" width="6.90" height="4.54" fill="#62a8ce"/>
<rect x="376.50" y="244.21" width="6.90" height="4.54" fill="#0b1754"/>
<rect x="382.80" y="244.21" width="6.90" height="4.54" fill="#1a4e9e"/>
<rect x="389.10" y="244.21" width="32.10" height="4.54" fill="#08093a"/>
<rect x="420.60" y="244.21" width="13.20" height="4.54" fill="#1a4e9e"/>
<rect x="433.20" y="244.21" width="6.90" height="4.54" fill="#0b1754"/>
<rect x="439.50" y="244.21" width="6.90" height="4.54" fill="#0f2d74"/>
<rect x="445.80" y="244.21" width="13.20" height="4.54" fill="#0b1754"/>
<rect x="458.40" y="244.21" width="6.90" height="4.54" fill="#1a4e9e"/>
<rect x="464.70" y="244.21" width="6.90" height="4.54" fill="#0b1754"/>
<rect x="471.00" y="244.21" width="19.50" height="4.54" fill="#0f2d74"/>
<rect x="489.90" y="244.21" width="6.90" height="4.54" fill="#1a4e9e"/>
<rect x="118.20" y="248.15" width="6.90" height="4.54" fill="#5e0410"/>
<rect x="124.50" y="248.15" width="19.50" height="4.54" fill="#ba0d18"/>
<rect x="143.40" y="248.15" width="6.90" height="4.54" fill="#e2221e"/>
<rect x="149.70" y="248.15" width="6.90" height="4.54" fill="#8e0a14"/>
<rect x="156.00" y="248.15" width="6.90" height="4.54" fill="#5e0410"/>
<rect x="162.30" y="248.15" width="6.90" height="4.54" fill="#9ccde0"/>
<rect x="168.60" y="248.15" width="6.90" height="4.54" fill="#f26452"/>
<rect x="174.90" y="248.15" width="6.90" height="4.54" fill="#f9a698"/>
<rect x="181.20" y="248.15" width="6.90" height="4.54" fill="#0b1754"/>
<rect x="187.50" y="248.15" width="6.90" height="4.54" fill="#1a4e9e"/>
<rect x="193.80" y="248.15" width="6.90" height="4.54" fill="#e2221e"/>
<rect x="200.10" y="248.15" width="6.90" height="4.54" fill="#ba0d18"/>
<rect x="206.40" y="248.15" width="6.90" height="4.54" fill="#fbd6ce"/>
<rect x="212.70" y="248.15" width="6.90" height="4.54" fill="#0b1754"/>
<rect x="219.00" y="248.15" width="6.90" height="4.54" fill="#3680ba"/>
<rect x="225.30" y="248.15" width="13.20" height="4.54" fill="#e2221e"/>
<rect x="237.90" y="248.15" width="6.90" height="4.54" fill="#9ccde0"/>
<rect x="244.20" y="248.15" width="6.90" height="4.54" fill="#cce6f0"/>
<rect x="250.50" y="248.15" width="6.90" height="4.54" fill="#fbd6ce"/>
<rect x="256.80" y="248.15" width="6.90" height="4.54" fill="#cce6f0"/>
<rect x="263.10" y="248.15" width="13.20" height="4.54" fill="#62a8ce"/>
<rect x="275.70" y="248.15" width="13.20" height="4.54" fill="#3680ba"/>
<rect x="288.30" y="248.15" width="13.20" height="4.54" fill="#62a8ce"/>
<rect x="300.90" y="248.15" width="19.50" height="4.54" fill="#3680ba"/>
<rect x="319.80" y="248.15" width="6.90" height="4.54" fill="#9ccde0"/>
<rect x="326.10" y="248.15" width="6.90" height="4.54" fill="#62a8ce"/>
<rect x="332.40" y="248.15" width="6.90" height="4.54" fill="#1a4e9e"/>
<rect x="338.70" y="248.15" width="13.20" height="4.54" fill="#0f2d74"/>
<rect x="351.30" y="248.15" width="6.90" height="4.54" fill="#08093a"/>
<rect x="357.60" y="248.15" width="6.90" height="4.54" fill="#0b1754"/>
<rect x="363.90" y="248.15" width="25.80" height="4.54" fill="#1a4e9e"/>
<rect x="389.10" y="248.15" width="32.10" height="4.54" fill="#08093a"/>
<rect x="420.60" y="248.15" width="6.90" height="4.54" fill="#1a4e9e"/>
<rect x="426.90" y="248.15" width="13.20" height="4.54" fill="#0b1754"/>
<rect x="439.50" y="248.15" width="6.90" height="4.54" fill="#1a4e9e"/>
<rect x="445.80" y="248.15" width="6.90" height="4.54" fill="#0b1754"/>
<rect x="452.10" y="248.15" width="13.20" height="4.54" fill="#1a4e9e"/>
<rect x="464.70" y="248.15" width="6.90" height="4.54" fill="#0b1754"/>
<rect x="471.00" y="248.15" width="19.50" height="4.54" fill="#0f2d74"/>
<rect x="489.90" y="248.15" width="6.90" height="4.54" fill="#1a4e9e"/>
<rect x="118.20" y="252.08" width="25.80" height="4.54" fill="#ba0d18"/>
<rect x="143.40" y="252.08" width="6.90" height="4.54" fill="#e2221e"/>
<rect x="149.70" y="252.08" width="6.90" height="4.54" fill="#ba0d18"/>
<rect x="156.00" y="252.08" width="6.90" height="4.54" fill="#cce6f0"/>
<rect x="162.30" y="252.08" width="6.90" height="4.54" fill="#9ccde0"/>
<rect x="168.60" y="252.08" width="6.90" height="4.54" fill="#f26452"/>
<rect x="174.90" y="252.08" width="6.90" height="4.54" fill="#f9a698"/>
<rect x="181.20" y="252.08" width="6.90" height="4.54" fill="#e2221e"/>
<rect x="187.50" y="252.08" width="6.90" height="4.54" fill="#cce6f0"/>
<rect x="193.80" y="252.08" width="13.20" height="4.54" fill="#e2221e"/>
<rect x="206.40" y="252.08" width="6.90" height="4.54" fill="#fbd6ce"/>
<rect x="212.70" y="252.08" width="25.80" height="4.54" fill="#f26452"/>
<rect x="237.90" y="252.08" width="6.90" height="4.54" fill="#9ccde0"/>
<rect x="244.20" y="252.08" width="6.90" height="4.54" fill="#f9a698"/>
<rect x="250.50" y="252.08" width="6.90" height="4.54" fill="#9ccde0"/>
<rect x="256.80" y="252.08" width="6.90" height="4.54" fill="#3680ba"/>
<rect x="263.10" y="252.08" width="6.90" height="4.54" fill="#f9a698"/>
<rect x="269.40" y="252.08" width="6.90" height="4.54" fill="#62a8ce"/>
<rect x="275.70" y="252.08" width="6.90" height="4.54" fill="#1a4e9e"/>
<rect x="282.00" y="252.08" width="13.20" height="4.54" fill="#3680ba"/>
<rect x="294.60" y="252.08" width="6.90" height="4.54" fill="#62a8ce"/>
<rect x="300.90" y="252.08" width="6.90" height="4.54" fill="#1a4e9e"/>
<rect x="307.20" y="252.08" width="13.20" height="4.54" fill="#3680ba"/>
<rect x="319.80" y="252.08" width="6.90" height="4.54" fill="#62a8ce"/>
<rect x="326.10" y="252.08" width="6.90" height="4.54" fill="#3680ba"/>
<rect x="332.40" y="252.08" width="6.90" height="4.54" fill="#1a4e9e"/>
<rect x="338.70" y="252.08" width="13.20" height="4.54" fill="#0f2d74"/>
<rect x="351.30" y="252.08" width="6.90" height="4.54" fill="#08093a"/>
<rect x="357.60" y="252.08" width="6.90" height="4.54" fill="#1a4e9e"/>
<rect x="363.90" y="252.08" width="13.20" height="4.54" fill="#3680ba"/>
<rect x="376.50" y="252.08" width="13.20" height="4.54" fill="#1a4e9e"/>
<rect x="389.10" y="252.08" width="6.90" height="4.54" fill="#08093a"/>
<rect x="395.40" y="252.08" width="6.90" height="4.54" fill="#0b1754"/>
<rect x="401.70" y="252.08" width="19.50" height="4.54" fill="#08093a"/>
<rect x="420.60" y="252.08" width="6.90" height="4.54" fill="#1a4e9e"/>
<rect x="426.90" y="252.08" width="13.20" height="4.54" fill="#0b1754"/>
<rect x="439.50" y="252.08" width="6.90" height="4.54" fill="#0f2d74"/>
<rect x="445.80" y="252.08" width="6.90" height="4.54" fill="#0b1754"/>
<rect x="452.10" y="252.08" width="6.90" height="4.54" fill="#1a4e9e"/>
<rect x="458.40" y="252.08" width="6.90" height="4.54" fill="#0b1754"/>
<rect x="464.70" y="252.08" width="6.90" height="4.54" fill="#08093a"/>
<rect x="471.00" y="252.08" width="13.20" height="4.54" fill="#0f2d74"/>
<rect x="483.60" y="252.08" width="6.90" height="4.54" fill="#0b1754"/>
<rect x="489.90" y="252.08" width="6.90" height="4.54" fill="#0f2d74"/>
<rect x="118.20" y="256.02" width="6.90" height="4.54" fill="#f26452"/>
<rect x="124.50" y="256.02" width="6.90" height="4.54" fill="#ba0d18"/>
<rect x="130.80" y="256.02" width="6.90" height="4.54" fill="#e2221e"/>
<rect x="137.10" y="256.02" width="6.90" height="4.54" fill="#ba0d18"/>
<rect x="143.40" y="256.02" width="19.50" height="4.54" fill="#e2221e"/>
<rect x="162.30" y="256.02" width="6.90" height="4.54" fill="#3680ba"/>
<rect x="168.60" y="256.02" width="6.90" height="4.54" fill="#f26452"/>
<rect x="174.90" y="256.02" width="6.90" height="4.54" fill="#fbd6ce"/>
<rect x="181.20" y="256.02" width="6.90" height="4.54" fill="#e2221e"/>
<rect x="187.50" y="256.02" width="6.90" height="4.54" fill="#f26452"/>
<rect x="193.80" y="256.02" width="6.90" height="4.54" fill="#0b1754"/>
<rect x="200.10" y="256.02" width="6.90" height="4.54" fill="#1a4e9e"/>
<rect x="206.40" y="256.02" width="6.90" height="4.54" fill="#f8f6f6"/>
<rect x="212.70" y="256.02" width="6.90" height="4.54" fill="#0b1754"/>
<rect x="219.00" y="256.02" width="19.50" height="4.54" fill="#08093a"/>
<rect x="237.90" y="256.02" width="6.90" height="4.54" fill="#1a4e9e"/>
<rect x="244.20" y="256.02" width="6.90" height="4.54" fill="#62a8ce"/>
<rect x="250.50" y="256.02" width="6.90" height="4.54" fill="#08093a"/>
<rect x="256.80" y="256.02" width="6.90" height="4.54" fill="#62a8ce"/>
<rect x="263.10" y="256.02" width="6.90" height="4.54" fill="#e2221e"/>
<rect x="269.40" y="256.02" width="6.90" height="4.54" fill="#08093a"/>
<rect x="275.70" y="256.02" width="6.90" height="4.54" fill="#1a4e9e"/>
<rect x="282.00" y="256.02" width="19.50" height="4.54" fill="#3680ba"/>
<rect x="300.90" y="256.02" width="6.90" height="4.54" fill="#1a4e9e"/>
<rect x="307.20" y="256.02" width="6.90" height="4.54" fill="#3680ba"/>
<rect x="313.50" y="256.02" width="6.90" height="4.54" fill="#1a4e9e"/>
<rect x="319.80" y="256.02" width="6.90" height="4.54" fill="#08093a"/>
<rect x="326.10" y="256.02" width="6.90" height="4.54" fill="#f9a698"/>
<rect x="332.40" y="256.02" width="6.90" height="4.54" fill="#0b1754"/>
<rect x="338.70" y="256.02" width="6.90" height="4.54" fill="#0f2d74"/>
<rect x="345.00" y="256.02" width="32.10" height="4.54" fill="#08093a"/>
<rect x="376.50" y="256.02" width="6.90" height="4.54" fill="#0b1754"/>
<rect x="382.80" y="256.02" width="6.90" height="4.54" fill="#0f2d74"/>
<rect x="389.10" y="256.02" width="32.10" height="4.54" fill="#08093a"/>
<rect x="420.60" y="256.02" width="25.80" height="4.54" fill="#0b1754"/>
<rect x="445.80" y="256.02" width="6.90" height="4.54" fill="#08093a"/>
<rect x="452.10" y="256.02" width="13.20" height="4.54" fill="#0b1754"/>
<rect x="464.70" y="256.02" width="6.90" height="4.54" fill="#08093a"/>
<rect x="471.00" y="256.02" width="19.50" height="4.54" fill="#0b1754"/>
<rect x="489.90" y="256.02" width="6.90" height="4.54" fill="#0f2d74"/>
<rect x="118.20" y="259.95" width="6.90" height="4.54" fill="#f26452"/>
<rect x="124.50" y="259.95" width="6.90" height="4.54" fill="#ba0d18"/>
<rect x="130.80" y="259.95" width="25.80" height="4.54" fill="#e2221e"/>
<rect x="156.00" y="259.95" width="6.90" height="4.54" fill="#fbd6ce"/>
<rect x="162.30" y="259.95" width="13.20" height="4.54" fill="#f26452"/>
<rect x="174.90" y="259.95" width="6.90" height="4.54" fill="#f9a698"/>
<rect x="181.20" y="259.95" width="13.20" height="4.54" fill="#ba0d18"/>
<rect x="193.80" y="259.95" width="6.90" height="4.54" fill="#cce6f0"/>
<rect x="200.10" y="259.95" width="13.20" height="4.54" fill="#ba0d18"/>
<rect x="212.70" y="259.95" width="6.90" height="4.54" fill="#e2221e"/>
<rect x="219.00" y="259.95" width="6.90" height="4.54" fill="#f26452"/>
<rect x="225.30" y="259.95" width="6.90" height="4.54" fill="#f9a698"/>
<rect x="231.60" y="259.95" width="6.90" height="4.54" fill="#08093a"/>
<rect x="237.90" y="259.95" width="6.90" height="4.54" fill="#e2221e"/>
<rect x="244.20" y="259.95" width="6.90" height="4.54" fill="#ba0d18"/>
<rect x="250.50" y="259.95" width="6.90" height="4.54" fill="#fbd6ce"/>
<rect x="256.80" y="259.95" width="6.90" height="4.54" fill="#9ccde0"/>
<rect x="263.10" y="259.95" width="6.90" height="4.54" fill="#f9a698"/>
<rect x="269.40" y="259.95" width="6.90" height="4.54" fill="#cce6f0"/>
<rect x="275.70" y="259.95" width="6.90" height="4.54" fill="#3680ba"/>
<rect x="282.00" y="259.95" width="6.90" height="4.54" fill="#62a8ce"/>
<rect x="288.30" y="259.95" width="6.90" height="4.54" fill="#f9a698"/>
<rect x="294.60" y="259.95" width="6.90" height="4.54" fill="#62a8ce"/>
<rect x="300.90" y="259.95" width="13.20" height="4.54" fill="#3680ba"/>
<rect x="313.50" y="259.95" width="6.90" height="4.54" fill="#62a8ce"/>
<rect x="319.80" y="259.95" width="6.90" height="4.54" fill="#f8f6f6"/>
<rect x="326.10" y="259.95" width="6.90" height="4.54" fill="#0b1754"/>
<rect x="332.40" y="259.95" width="19.50" height="4.54" fill="#e2221e"/>
<rect x="351.30" y="259.95" width="6.90" height="4.54" fill="#f9a698"/>
<rect x="357.60" y="259.95" width="6.90" height="4.54" fill="#08093a"/>
<rect x="363.90" y="259.95" width="6.90" height="4.54" fill="#9ccde0"/>
<rect x="370.20" y="259.95" width="6.90" height="4.54" fill="#08093a"/>
<rect x="376.50" y="259.95" width="13.20" height="4.54" fill="#1a4e9e"/>
<rect x="389.10" y="259.95" width="6.90" height="4.54" fill="#08093a"/>
<rect x="395.40" y="259.95" width="6.90" height="4.54" fill="#0b1754"/>
<rect x="401.70" y="259.95" width="19.50" height="4.54" fill="#08093a"/>
<rect x="420.60" y="259.95" width="13.20" height="4.54" fill="#0f2d74"/>
<rect x="433.20" y="259.95" width="6.90" height="4.54" fill="#0b1754"/>
<rect x="439.50" y="259.95" width="57.30" height="4.54" fill="#1a4e9e"/>
<rect x="118.20" y="263.88" width="6.90" height="4.54" fill="#e2221e"/>
<rect x="124.50" y="263.88" width="6.90" height="4.54" fill="#8e0a14"/>
<rect x="130.80" y="263.88" width="13.20" height="4.54" fill="#ba0d18"/>
<rect x="143.40" y="263.88" width="13.20" height="4.54" fill="#e2221e"/>
<rect x="156.00" y="263.88" width="6.90" height="4.54" fill="#fbd6ce"/>
<rect x="162.30" y="263.88" width="25.80" height="4.54" fill="#e2221e"/>
<rect x="187.50" y="263.88" width="6.90" height="4.54" fill="#8e0a14"/>
<rect x="193.80" y="263.88" width="25.80" height="4.54" fill="#ba0d18"/>
<rect x="219.00" y="263.88" width="6.90" height="4.54" fill="#f9a698"/>
<rect x="225.30" y="263.88" width="6.90" height="4.54" fill="#fbd6ce"/>
<rect x="231.60" y="263.88" width="6.90" height="4.54" fill="#08093a"/>
<rect x="237.90" y="263.88" width="6.90" height="4.54" fill="#8e0a14"/>
<rect x="244.20" y="263.88" width="6.90" height="4.54" fill="#ba0d18"/>
<rect x="250.50" y="263.88" width="13.20" height="4.54" fill="#fbd6ce"/>
<rect x="263.10" y="263.88" width="13.20" height="4.54" fill="#f26452"/>
<rect x="275.70" y="263.88" width="6.90" height="4.54" fill="#9ccde0"/>
<rect x="282.00" y="263.88" width="6.90" height="4.54" fill="#62a8ce"/>
<rect x="288.30" y="263.88" width="6.90" height="4.54" fill="#f9a698"/>
<rect x="294.60" y="263.88" width="6.90" height="4.54" fill="#62a8ce"/>
<rect x="300.90" y="263.88" width="13.20" height="4.54" fill="#9ccde0"/>
<rect x="313.50" y="263.88" width="6.90" height="4.54" fill="#3680ba"/>
<rect x="319.80" y="263.88" width="13.20" height="4.54" fill="#0b1754"/>
<rect x="332.40" y="263.88" width="13.20" height="4.54" fill="#e2221e"/>
<rect x="345.00" y="263.88" width="6.90" height="4.54" fill="#ba0d18"/>
<rect x="351.30" y="263.88" width="6.90" height="4.54" fill="#fbd6ce"/>
<rect x="357.60" y="263.88" width="6.90" height="4.54" fill="#08093a"/>
<rect x="363.90" y="263.88" width="6.90" height="4.54" fill="#cce6f0"/>
<rect x="370.20" y="263.88" width="6.90" height="4.54" fill="#0b1754"/>
<rect x="376.50" y="263.88" width="13.20" height="4.54" fill="#1a4e9e"/>
<rect x="389.10" y="263.88" width="6.90" height="4.54" fill="#0b1754"/>
<rect x="395.40" y="263.88" width="25.80" height="4.54" fill="#08093a"/>
<rect x="420.60" y="263.88" width="32.10" height="4.54" fill="#1a4e9e"/>
<rect x="452.10" y="263.88" width="6.90" height="4.54" fill="#3680ba"/>
<rect x="458.40" y="263.88" width="6.90" height="4.54" fill="#1a4e9e"/>
<rect x="464.70" y="263.88" width="19.50" height="4.54" fill="#3680ba"/>
<rect x="483.60" y="263.88" width="6.90" height="4.54" fill="#1a4e9e"/>
<rect x="489.90" y="263.88" width="6.90" height="4.54" fill="#3680ba"/>
<rect x="118.20" y="267.82" width="6.90" height="4.54" fill="#8e0a14"/>
<rect x="124.50" y="267.82" width="19.50" height="4.54" fill="#ba0d18"/>
<rect x="143.40" y="267.82" width="6.90" height="4.54" fill="#fbd6ce"/>
<rect x="149.70" y="267.82" width="6.90" height="4.54" fill="#e2221e"/>
<rect x="156.00" y="267.82" width="6.90" height="4.54" fill="#0b1754"/>
<rect x="162.30" y="267.82" width="6.90" height="4.54" fill="#f9a698"/>
<rect x="168.60" y="267.82" width="19.50" height="4.54" fill="#e2221e"/>
<rect x="187.50" y="267.82" width="6.90" height="4.54" fill="#ba0d18"/>
<rect x="193.80" y="267.82" width="6.90" height="4.54" fill="#8e0a14"/>
<rect x="200.10" y="267.82" width="6.90" height="4.54" fill="#e2221e"/>
<rect x="206.40" y="267.82" width="6.90" height="4.54" fill="#ba0d18"/>
<rect x="212.70" y="267.82" width="13.20" height="4.54" fill="#f26452"/>
<rect x="225.30" y="267.82" width="6.90" height="4.54" fill="#fbd6ce"/>
<rect x="231.60" y="267.82" width="6.90" height="4.54" fill="#cce6f0"/>
<rect x="237.90" y="267.82" width="13.20" height="4.54" fill="#ba0d18"/>
<rect x="250.50" y="267.82" width="6.90" height="4.54" fill="#9ccde0"/>
<rect x="256.80" y="267.82" width="6.90" height="4.54" fill="#e2221e"/>
<rect x="263.10" y="267.82" width="6.90" height="4.54" fill="#62a8ce"/>
<rect x="269.40" y="267.82" width="6.90" height="4.54" fill="#cce6f0"/>
<rect x="275.70" y="267.82" width="6.90" height="4.54" fill="#0b1754"/>
<rect x="282.00" y="267.82" width="6.90" height="4.54" fill="#3680ba"/>
<rect x="288.30" y="267.82" width="6.90" height="4.54" fill="#0b1754"/>
<rect x="294.60" y="267.82" width="6.90" height="4.54" fill="#3680ba"/>
<rect x="300.90" y="267.82" width="6.90" height="4.54" fill="#1a4e9e"/>
<rect x="307.20" y="267.82" width="6.90" height="4.54" fill="#3680ba"/>
<rect x="313.50" y="267.82" width="6.90" height="4.54" fill="#1a4e9e"/>
<rect x="319.80" y="267.82" width="6.90" height="4.54" fill="#3680ba"/>
<rect x="326.10" y="267.82" width="6.90" height="4.54" fill="#1a4e9e"/>
<rect x="332.40" y="267.82" width="13.20" height="4.54" fill="#0b1754"/>
<rect x="345.00" y="267.82" width="19.50" height="4.54" fill="#08093a"/>
<rect x="363.90" y="267.82" width="6.90" height="4.54" fill="#0f2d74"/>
<rect x="370.20" y="267.82" width="13.20" height="4.54" fill="#0b1754"/>
<rect x="382.80" y="267.82" width="6.90" height="4.54" fill="#0f2d74"/>
<rect x="389.10" y="267.82" width="6.90" height="4.54" fill="#cce6f0"/>
<rect x="395.40" y="267.82" width="25.80" height="4.54" fill="#08093a"/>
<rect x="420.60" y="267.82" width="19.50" height="4.54" fill="#0b1754"/>
<rect x="439.50" y="267.82" width="6.90" height="4.54" fill="#0f2d74"/>
<rect x="445.80" y="267.82" width="6.90" height="4.54" fill="#1a4e9e"/>
<rect x="452.10" y="267.82" width="6.90" height="4.54" fill="#3680ba"/>
<rect x="458.40" y="267.82" width="6.90" height="4.54" fill="#0b1754"/>
<rect x="464.70" y="267.82" width="6.90" height="4.54" fill="#08093a"/>
<rect x="471.00" y="267.82" width="25.80" height="4.54" fill="#0b1754"/>
<rect x="118.20" y="271.75" width="6.90" height="4.54" fill="#3680ba"/>
<rect x="124.50" y="271.75" width="19.50" height="4.54" fill="#ba0d18"/>
<rect x="143.40" y="271.75" width="6.90" height="4.54" fill="#f26452"/>
<rect x="149.70" y="271.75" width="6.90" height="4.54" fill="#e2221e"/>
<rect x="156.00" y="271.75" width="6.90" height="4.54" fill="#0f2d74"/>
<rect x="162.30" y="271.75" width="6.90" height="4.54" fill="#3680ba"/>
<rect x="168.60" y="271.75" width="6.90" height="4.54" fill="#f9a698"/>
<rect x="174.90" y="271.75" width="6.90" height="4.54" fill="#f26452"/>
<rect x="181.20" y="271.75" width="6.90" height="4.54" fill="#e2221e"/>
<rect x="187.50" y="271.75" width="6.90" height="4.54" fill="#f9a698"/>
<rect x="193.80" y="271.75" width="6.90" height="4.54" fill="#ba0d18"/>
<rect x="200.10" y="271.75" width="6.90" height="4.54" fill="#e2221e"/>
<rect x="206.40" y="271.75" width="25.80" height="4.54" fill="#f26452"/>
<rect x="231.60" y="271.75" width="6.90" height="4.54" fill="#fbd6ce"/>
<rect x="237.90" y="271.75" width="13.20" height="4.54" fill="#ba0d18"/>
<rect x="250.50" y="271.75" width="6.90" height="4.54" fill="#9ccde0"/>
<rect x="256.80" y="271.75" width="6.90" height="4.54" fill="#f9a698"/>
<rect x="263.10" y="271.75" width="6.90" height="4.54" fill="#3680ba"/>
<rect x="269.40" y="271.75" width="6.90" height="4.54" fill="#62a8ce"/>
<rect x="275.70" y="271.75" width="6.90" height="4.54" fill="#08093a"/>
<rect x="282.00" y="271.75" width="13.20" height="4.54" fill="#3680ba"/>
<rect x="294.60" y="271.75" width="6.90" height="4.54" fill="#9ccde0"/>
<rect x="300.90" y="271.75" width="6.90" height="4.54" fill="#1a4e9e"/>
<rect x="307.20" y="271.75" width="6.90" height="4.54" fill="#3680ba"/>
<rect x="313.50" y="271.75" width="6.90" height="4.54" fill="#1a4e9e"/>
<rect x="319.80" y="271.75" width="6.90" height="4.54" fill="#9ccde0"/>
<rect x="326.10" y="271.75" width="6.90" height="4.54" fill="#1a4e9e"/>
<rect x="332.40" y="271.75" width="6.90" height="4.54" fill="#ba0d18"/>
<rect x="338.70" y="271.75" width="6.90" height="4.54" fill="#0f2d74"/>
<rect x="345.00" y="271.75" width="19.50" height="4.54" fill="#08093a"/>
<rect x="363.90" y="271.75" width="19.50" height="4.54" fill="#0b1754"/>
<rect x="382.80" y="271.75" width="6.90" height="4.54" fill="#0f2d74"/>
<rect x="389.10" y="271.75" width="32.10" height="4.54" fill="#08093a"/>
<rect x="420.60" y="271.75" width="13.20" height="4.54" fill="#0b1754"/>
<rect x="433.20" y="271.75" width="6.90" height="4.54" fill="#0f2d74"/>
<rect x="439.50" y="271.75" width="13.20" height="4.54" fill="#0b1754"/>
<rect x="452.10" y="271.75" width="6.90" height="4.54" fill="#3680ba"/>
<rect x="458.40" y="271.75" width="6.90" height="4.54" fill="#1a4e9e"/>
<rect x="464.70" y="271.75" width="6.90" height="4.54" fill="#08093a"/>
<rect x="471.00" y="271.75" width="25.80" height="4.54" fill="#0b1754"/>
<rect x="118.20" y="275.69" width="6.90" height="4.54" fill="#8e0a14"/>
<rect x="124.50" y="275.69" width="19.50" height="4.54" fill="#ba0d18"/>
<rect x="143.40" y="275.69" width="13.20" height="4.54" fill="#f26452"/>
<rect x="156.00" y="275.69" width="6.90" height="4.54" fill="#1a4e9e"/>
<rect x="162.30" y="275.69" width="13.20" height="4.54" fill="#f26452"/>
<rect x="174.90" y="275.69" width="6.90" height="4.54" fill="#fbd6ce"/>
<rect x="181.20" y="275.69" width="6.90" height="4.54" fill="#e2221e"/>
<rect x="187.50" y="275.69" width="6.90" height="4.54" fill="#8e0a14"/>
<rect x="193.80" y="275.69" width="6.90" height="4.54" fill="#62a8ce"/>
<rect x="200.10" y="275.69" width="6.90" height="4.54" fill="#e2221e"/>
<rect x="206.40" y="275.69" width="19.50" height="4.54" fill="#f26452"/>
<rect x="225.30" y="275.69" width="6.90" height="4.54" fill="#62a8ce"/>
<rect x="231.60" y="275.69" width="6.90" height="4.54" fill="#1a4e9e"/>
<rect x="237.90" y="275.69" width="6.90" height="4.54" fill="#f26452"/>
<rect x="244.20" y="275.69" width="6.90" height="4.54" fill="#e2221e"/>
<rect x="250.50" y="275.69" width="6.90" height="4.54" fill="#9ccde0"/>
<rect x="256.80" y="275.69" width="6.90" height="4.54" fill="#fbd6ce"/>
<rect x="263.10" y="275.69" width="6.90" height="4.54" fill="#3680ba"/>
<rect x="269.40" y="275.69" width="6.90" height="4.54" fill="#cce6f0"/>
<rect x="275.70" y="275.69" width="6.90" height="4.54" fill="#08093a"/>
<rect x="282.00" y="275.69" width="6.90" height="4.54" fill="#3680ba"/>
<rect x="288.30" y="275.69" width="6.90" height="4.54" fill="#0b1754"/>
<rect x="294.60" y="275.69" width="13.20" height="4.54" fill="#1a4e9e"/>
<rect x="307.20" y="275.69" width="6.90" height="4.54" fill="#3680ba"/>
<rect x="313.50" y="275.69" width="6.90" height="4.54" fill="#0b1754"/>
<rect x="319.80" y="275.69" width="6.90" height="4.54" fill="#08093a"/>
<rect x="326.10" y="275.69" width="6.90" height="4.54" fill="#1a4e9e"/>
<rect x="332.40" y="275.69" width="13.20" height="4.54" fill="#0b1754"/>
<rect x="345.00" y="275.69" width="19.50" height="4.54" fill="#08093a"/>
<rect x="363.90" y="275.69" width="6.90" height="4.54" fill="#1a4e9e"/>
<rect x="370.20" y="275.69" width="13.20" height="4.54" fill="#0b1754"/>
<rect x="382.80" y="275.69" width="6.90" height="4.54" fill="#0f2d74"/>
<rect x="389.10" y="275.69" width="32.10" height="4.54" fill="#08093a"/>
<rect x="420.60" y="275.69" width="19.50" height="4.54" fill="#0b1754"/>
<rect x="439.50" y="275.69" width="6.90" height="4.54" fill="#1a4e9e"/>
<rect x="445.80" y="275.69" width="6.90" height="4.54" fill="#0b1754"/>
<rect x="452.10" y="275.69" width="6.90" height="4.54" fill="#1a4e9e"/>
<rect x="458.40" y="275.69" width="6.90" height="4.54" fill="#0b1754"/>
<rect x="464.70" y="275.69" width="6.90" height="4.54" fill="#08093a"/>
<rect x="471.00" y="275.69" width="25.80" height="4.54" fill="#0b1754"/>
<rect x="118.20" y="279.62" width="6.90" height="4.54" fill="#8e0a14"/>
<rect x="124.50" y="279.62" width="19.50" height="4.54" fill="#ba0d18"/>
<rect x="143.40" y="279.62" width="6.90" height="4.54" fill="#f26452"/>
<rect x="149.70" y="279.62" width="6.90" height="4.54" fill="#e2221e"/>
<rect x="156.00" y="279.62" width="6.90" height="4.54" fill="#1a4e9e"/>
<rect x="162.30" y="279.62" width="13.20" height="4.54" fill="#e2221e"/>
<rect x="174.90" y="279.62" width="6.90" height="4.54" fill="#f9a698"/>
<rect x="181.20" y="279.62" width="6.90" height="4.54" fill="#e2221e"/>
<rect x="187.50" y="279.62" width="6.90" height="4.54" fill="#ba0d18"/>
<rect x="193.80" y="279.62" width="13.20" height="4.54" fill="#e2221e"/>
<rect x="206.40" y="279.62" width="19.50" height="4.54" fill="#f26452"/>
<rect x="225.30" y="279.62" width="6.90" height="4.54" fill="#9ccde0"/>
<rect x="231.60" y="279.62" width="13.20" height="4.54" fill="#3680ba"/>
<rect x="244.20" y="279.62" width="6.90" height="4.54" fill="#e2221e"/>
<rect x="250.50" y="279.62" width="13.20" height="4.54" fill="#9ccde0"/>
<rect x="263.10" y="279.62" width="6.90" height="4.54" fill="#1a4e9e"/>
<rect x="269.40" y="279.62" width="6.90" height="4.54" fill="#3680ba"/>
<rect x="275.70" y="279.62" width="6.90" height="4.54" fill="#0b1754"/>
<rect x="282.00" y="279.62" width="32.10" height="4.54" fill="#3680ba"/>
<rect x="313.50" y="279.62" width="13.20" height="4.54" fill="#1a4e9e"/>
<rect x="326.10" y="279.62" width="19.50" height="4.54" fill="#0b1754"/>
<rect x="345.00" y="279.62" width="19.50" height="4.54" fill="#08093a"/>
<rect x="363.90" y="279.62" width="25.80" height="4.54" fill="#0b1754"/>
<rect x="389.10" y="279.62" width="32.10" height="4.54" fill="#08093a"/>
<rect x="420.60" y="279.62" width="19.50" height="4.54" fill="#0b1754"/>
<rect x="439.50" y="279.62" width="6.90" height="4.54" fill="#1a4e9e"/>
<rect x="445.80" y="279.62" width="19.50" height="4.54" fill="#0b1754"/>
<rect x="464.70" y="279.62" width="6.90" height="4.54" fill="#08093a"/>
<rect x="471.00" y="279.62" width="25.80" height="4.54" fill="#0b1754"/>
<rect x="118.20" y="283.56" width="13.20" height="4.54" fill="#8e0a14"/>
<rect x="130.80" y="283.56" width="6.90" height="4.54" fill="#f9a698"/>
<rect x="137.10" y="283.56" width="19.50" height="4.54" fill="#ba0d18"/>
<rect x="156.00" y="283.56" width="6.90" height="4.54" fill="#e2221e"/>
<rect x="162.30" y="283.56" width="6.90" height="4.54" fill="#9ccde0"/>
<rect x="168.60" y="283.56" width="6.90" height="4.54" fill="#f9a698"/>
<rect x="174.90" y="283.56" width="6.90" height="4.54" fill="#e2221e"/>
<rect x="181.20" y="283.56" width="6.90" height="4.54" fill="#f26452"/>
<rect x="187.50" y="283.56" width="6.90" height="4.54" fill="#fbd6ce"/>
<rect x="193.80" y="283.56" width="6.90" height="4.54" fill="#f9a698"/>
<rect x="200.10" y="283.56" width="6.90" height="4.54" fill="#0b1754"/>
<rect x="206.40" y="283.56" width="13.20" height="4.54" fill="#08093a"/>
<rect x="219.00" y="283.56" width="6.90" height="4.54" fill="#3680ba"/>
<rect x="225.30" y="283.56" width="13.20" height="4.54" fill="#ba0d18"/>
<rect x="237.90" y="283.56" width="6.90" height="4.54" fill="#fbd6ce"/>
<rect x="244.20" y="283.56" width="6.90" height="4.54" fill="#3680ba"/>
<rect x="250.50" y="283.56" width="13.20" height="4.54" fill="#f9a698"/>
<rect x="263.10" y="283.56" width="6.90" height="4.54" fill="#f26452"/>
<rect x="269.40" y="283.56" width="6.90" height="4.54" fill="#3680ba"/>
<rect x="275.70" y="283.56" width="13.20" height="4.54" fill="#9ccde0"/>
<rect x="288.30" y="283.56" width="6.90" height="4.54" fill="#cce6f0"/>
<rect x="294.60" y="283.56" width="13.20" height="4.54" fill="#62a8ce"/>
<rect x="307.20" y="283.56" width="6.90" height="4.54" fill="#9ccde0"/>
<rect x="313.50" y="283.56" width="6.90" height="4.54" fill="#62a8ce"/>
<rect x="319.80" y="283.56" width="6.90" height="4.54" fill="#f26452"/>
<rect x="326.10" y="283.56" width="6.90" height="4.54" fill="#fbd6ce"/>
<rect x="332.40" y="283.56" width="6.90" height="4.54" fill="#e2221e"/>
<rect x="338.70" y="283.56" width="6.90" height="4.54" fill="#1a4e9e"/>
<rect x="345.00" y="283.56" width="6.90" height="4.54" fill="#62a8ce"/>
<rect x="351.30" y="283.56" width="6.90" height="4.54" fill="#0b1754"/>
<rect x="357.60" y="283.56" width="6.90" height="4.54" fill="#0f2d74"/>
<rect x="363.90" y="283.56" width="6.90" height="4.54" fill="#3680ba"/>
<rect x="370.20" y="283.56" width="6.90" height="4.54" fill="#62a8ce"/>
<rect x="376.50" y="283.56" width="13.20" height="4.54" fill="#3680ba"/>
<rect x="389.10" y="283.56" width="13.20" height="4.54" fill="#08093a"/>
<rect x="401.70" y="283.56" width="6.90" height="4.54" fill="#f9a698"/>
<rect x="408.00" y="283.56" width="6.90" height="4.54" fill="#3680ba"/>
<rect x="414.30" y="283.56" width="6.90" height="4.54" fill="#08093a"/>
<rect x="420.60" y="283.56" width="6.90" height="4.54" fill="#1a4e9e"/>
<rect x="426.90" y="283.56" width="6.90" height="4.54" fill="#3680ba"/>
<rect x="433.20" y="283.56" width="6.90" height="4.54" fill="#1a4e9e"/>
<rect x="439.50" y="283.56" width="13.20" height="4.54" fill="#0b1754"/>
<rect x="452.10" y="283.56" width="6.90" height="4.54" fill="#1a4e9e"/>
<rect x="458.40" y="283.56" width="6.90" height="4.54" fill="#3680ba"/>
<rect x="464.70" y="283.56" width="6.90" height="4.54" fill="#0b1754"/>
<rect x="471.00" y="283.56" width="6.90" height="4.54" fill="#0f2d74"/>
<rect x="477.30" y="283.56" width="19.50" height="4.54" fill="#3680ba"/>
<rect x="118.20" y="287.50" width="6.90" height="4.54" fill="#0b1754"/>
<rect x="124.50" y="287.50" width="32.10" height="4.54" fill="#ba0d18"/>
<rect x="156.00" y="287.50" width="6.90" height="4.54" fill="#1a4e9e"/>
<rect x="162.30" y="287.50" width="6.90" height="4.54" fill="#f8f6f6"/>
<rect x="168.60" y="287.50" width="6.90" height="4.54" fill="#cce6f0"/>
<rect x="174.90" y="287.50" width="6.90" height="4.54" fill="#e2221e"/>
<rect x="181.20" y="287.50" width="6.90" height="4.54" fill="#08093a"/>
<rect x="187.50" y="287.50" width="6.90" height="4.54" fill="#ba0d18"/>
<rect x="193.80" y="287.50" width="6.90" height="4.54" fill="#fbd6ce"/>
<rect x="200.10" y="287.50" width="13.20" height="4.54" fill="#08093a"/>
<rect x="212.70" y="287.50" width="6.90" height="4.54" fill="#0b1754"/>
<rect x="219.00" y="287.50" width="6.90" height="4.54" fill="#08093a"/>
<rect x="225.30" y="287.50" width="6.90" height="4.54" fill="#f8f6f6"/>
<rect x="231.60" y="287.50" width="13.20" height="4.54" fill="#08093a"/>
<rect x="244.20" y="287.50" width="6.90" height="4.54" fill="#3680ba"/>
<rect x="250.50" y="287.50" width="6.90" height="4.54" fill="#fbd6ce"/>
<rect x="256.80" y="287.50" width="6.90" height="4.54" fill="#08093a"/>
<rect x="263.10" y="287.50" width="6.90" height="4.54" fill="#f9a698"/>
<rect x="269.40" y="287.50" width="6.90" height="4.54" fill="#1a4e9e"/>
<rect x="275.70" y="287.50" width="13.20" height="4.54" fill="#62a8ce"/>
<rect x="288.30" y="287.50" width="6.90" height="4.54" fill="#9ccde0"/>
<rect x="294.60" y="287.50" width="25.80" height="4.54" fill="#3680ba"/>
<rect x="319.80" y="287.50" width="6.90" height="4.54" fill="#9ccde0"/>
<rect x="326.10" y="287.50" width="6.90" height="4.54" fill="#3680ba"/>
<rect x="332.40" y="287.50" width="6.90" height="4.54" fill="#cce6f0"/>
<rect x="338.70" y="287.50" width="6.90" height="4.54" fill="#0b1754"/>
<rect x="345.00" y="287.50" width="6.90" height="4.54" fill="#08093a"/>
<rect x="351.30" y="287.50" width="6.90" height="4.54" fill="#f9a698"/>
<rect x="357.60" y="287.50" width="6.90" height="4.54" fill="#08093a"/>
<rect x="363.90" y="287.50" width="6.90" height="4.54" fill="#0b1754"/>
<rect x="370.20" y="287.50" width="6.90" height="4.54" fill="#62a8ce"/>
<rect x="376.50" y="287.50" width="13.20" height="4.54" fill="#0f2d74"/>
<rect x="389.10" y="287.50" width="13.20" height="4.54" fill="#08093a"/>
<rect x="401.70" y="287.50" width="6.90" height="4.54" fill="#62a8ce"/>
<rect x="408.00" y="287.50" width="6.90" height="4.54" fill="#0b1754"/>
<rect x="414.30" y="287.50" width="6.90" height="4.54" fill="#08093a"/>
<rect x="420.60" y="287.50" width="13.20" height="4.54" fill="#1a4e9e"/>
<rect x="433.20" y="287.50" width="6.90" height="4.54" fill="#0f2d74"/>
<rect x="439.50" y="287.50" width="13.20" height="4.54" fill="#0b1754"/>
<rect x="452.10" y="287.50" width="13.20" height="4.54" fill="#1a4e9e"/>
<rect x="464.70" y="287.50" width="6.90" height="4.54" fill="#08093a"/>
<rect x="471.00" y="287.50" width="6.90" height="4.54" fill="#0b1754"/>
<rect x="477.30" y="287.50" width="6.90" height="4.54" fill="#0f2d74"/>
<rect x="483.60" y="287.50" width="13.20" height="4.54" fill="#1a4e9e"/>
<rect x="118.20" y="291.43" width="25.80" height="4.54" fill="#ba0d18"/>
<rect x="143.40" y="291.43" width="13.20" height="4.54" fill="#e2221e"/>
<rect x="156.00" y="291.43" width="6.90" height="4.54" fill="#f9a698"/>
<rect x="162.30" y="291.43" width="6.90" height="4.54" fill="#0b1754"/>
<rect x="168.60" y="291.43" width="6.90" height="4.54" fill="#9ccde0"/>
<rect x="174.90" y="291.43" width="6.90" height="4.54" fill="#f26452"/>
<rect x="181.20" y="291.43" width="6.90" height="4.54" fill="#08093a"/>
<rect x="187.50" y="291.43" width="6.90" height="4.54" fill="#fbd6ce"/>
<rect x="193.80" y="291.43" width="6.90" height="4.54" fill="#e2221e"/>
<rect x="200.10" y="291.43" width="6.90" height="4.54" fill="#ba0d18"/>
<rect x="206.40" y="291.43" width="6.90" height="4.54" fill="#fbd6ce"/>
<rect x="212.70" y="291.43" width="6.90" height="4.54" fill="#f9a698"/>
<rect x="219.00" y="291.43" width="6.90" height="4.54" fill="#08093a"/>
<rect x="225.30" y="291.43" width="13.20" height="4.54" fill="#f26452"/>
<rect x="237.90" y="291.43" width="6.90" height="4.54" fill="#1a4e9e"/>
<rect x="244.20" y="291.43" width="13.20" height="4.54" fill="#9ccde0"/>
<rect x="256.80" y="291.43" width="6.90" height="4.54" fill="#fbd6ce"/>
<rect x="263.10" y="291.43" width="6.90" height="4.54" fill="#9ccde0"/>
<rect x="269.40" y="291.43" width="6.90" height="4.54" fill="#1a4e9e"/>
<rect x="275.70" y="291.43" width="13.20" height="4.54" fill="#3680ba"/>
<rect x="288.30" y="291.43" width="6.90" height="4.54" fill="#62a8ce"/>
<rect x="294.60" y="291.43" width="6.90" height="4.54" fill="#1a4e9e"/>
<rect x="300.90" y="291.43" width="6.90" height="4.54" fill="#3680ba"/>
<rect x="307.20" y="291.43" width="13.20" height="4.54" fill="#1a4e9e"/>
<rect x="319.80" y="291.43" width="6.90" height="4.54" fill="#62a8ce"/>
<rect x="326.10" y="291.43" width="6.90" height="4.54" fill="#1a4e9e"/>
<rect x="332.40" y="291.43" width="6.90" height="4.54" fill="#0b1754"/>
<rect x="338.70" y="291.43" width="6.90" height="4.54" fill="#0f2d74"/>
<rect x="345.00" y="291.43" width="19.50" height="4.54" fill="#08093a"/>
<rect x="363.90" y="291.43" width="13.20" height="4.54" fill="#0b1754"/>
<rect x="376.50" y="291.43" width="13.20" height="4.54" fill="#0f2d74"/>
<rect x="389.10" y="291.43" width="19.50" height="4.54" fill="#08093a"/>
<rect x="408.00" y="291.43" width="6.90" height="4.54" fill="#1a4e9e"/>
<rect x="414.30" y="291.43" width="6.90" height="4.54" fill="#08093a"/>
<rect x="420.60" y="291.43" width="13.20" height="4.54" fill="#0f2d74"/>
<rect x="433.20" y="291.43" width="13.20" height="4.54" fill="#0b1754"/>
<rect x="445.80" y="291.43" width="6.90" height="4.54" fill="#08093a"/>
<rect x="452.10" y="291.43" width="13.20" height="4.54" fill="#0b1754"/>
<rect x="464.70" y="291.43" width="6.90" height="4.54" fill="#08093a"/>
<rect x="471.00" y="291.43" width="6.90" height="4.54" fill="#0b1754"/>
<rect x="477.30" y="291.43" width="6.90" height="4.54" fill="#0f2d74"/>
<rect x="483.60" y="291.43" width="6.90" height="4.54" fill="#0b1754"/>
<rect x="489.90" y="291.43" width="6.90" height="4.54" fill="#0f2d74"/>
<rect x="118.20" y="295.37" width="6.90" height="4.54" fill="#8e0a14"/>
<rect x="124.50" y="295.37" width="19.50" height="4.54" fill="#ba0d18"/>
<rect x="143.40" y="295.37" width="6.90" height="4.54" fill="#f26452"/>
<rect x="149.70" y="295.37" width="6.90" height="4.54" fill="#e2221e"/>
<rect x="156.00" y="295.37" width="6.90" height="4.54" fill="#0b1754"/>
<rect x="162.30" y="295.37" width="6.90" height="4.54" fill="#e2221e"/>
<rect x="168.60" y="295.37" width="6.90" height="4.54" fill="#9ccde0"/>
<rect x="174.90" y="295.37" width="6.90" height="4.54" fill="#f26452"/>
<rect x="181.20" y="295.37" width="6.90" height="4.54" fill="#08093a"/>
<rect x="187.50" y="295.37" width="6.90" height="4.54" fill="#e2221e"/>
<rect x="193.80" y="295.37" width="6.90" height="4.54" fill="#0b1754"/>
<rect x="200.10" y="295.37" width="6.90" height="4.54" fill="#f26452"/>
<rect x="206.40" y="295.37" width="6.90" height="4.54" fill="#f9a698"/>
<rect x="212.70" y="295.37" width="6.90" height="4.54" fill="#f8f6f6"/>
<rect x="219.00" y="295.37" width="6.90" height="4.54" fill="#fbd6ce"/>
<rect x="225.30" y="295.37" width="13.20" height="4.54" fill="#08093a"/>
<rect x="237.90" y="295.37" width="6.90" height="4.54" fill="#1a4e9e"/>
<rect x="244.20" y="295.37" width="6.90" height="4.54" fill="#e2221e"/>
<rect x="250.50" y="295.37" width="6.90" height="4.54" fill="#3680ba"/>
<rect x="256.80" y="295.37" width="6.90" height="4.54" fill="#f26452"/>
<rect x="263.10" y="295.37" width="13.20" height="4.54" fill="#3680ba"/>
<rect x="275.70" y="295.37" width="6.90" height="4.54" fill="#1a4e9e"/>
<rect x="282.00" y="295.37" width="13.20" height="4.54" fill="#0b1754"/>
<rect x="294.60" y="295.37" width="25.80" height="4.54" fill="#1a4e9e"/>
<rect x="319.80" y="295.37" width="6.90" height="4.54" fill="#08093a"/>
<rect x="326.10" y="295.37" width="6.90" height="4.54" fill="#1a4e9e"/>
<rect x="332.40" y="295.37" width="6.90" height="4.54" fill="#08093a"/>
<rect x="338.70" y="295.37" width="6.90" height="4.54" fill="#0f2d74"/>
<rect x="345.00" y="295.37" width="19.50" height="4.54" fill="#08093a"/>
<rect x="363.90" y="295.37" width="25.80" height="4.54" fill="#0b1754"/>
<rect x="389.10" y="295.37" width="32.10" height="4.54" fill="#08093a"/>
<rect x="420.60" y="295.37" width="6.90" height="4.54" fill="#0b1754"/>
<rect x="426.90" y="295.37" width="6.90" height="4.54" fill="#0f2d74"/>
<rect x="433.20" y="295.37" width="13.20" height="4.54" fill="#0b1754"/>
<rect x="445.80" y="295.37" width="6.90" height="4.54" fill="#1a4e9e"/>
<rect x="452.10" y="295.37" width="6.90" height="4.54" fill="#3680ba"/>
<rect x="458.40" y="295.37" width="6.90" height="4.54" fill="#0b1754"/>
<rect x="464.70" y="295.37" width="6.90" height="4.54" fill="#08093a"/>
<rect x="471.00" y="295.37" width="6.90" height="4.54" fill="#1a4e9e"/>
<rect x="477.30" y="295.37" width="13.20" height="4.54" fill="#0b1754"/>
<rect x="489.90" y="295.37" width="6.90" height="4.54" fill="#0f2d74"/>
<rect x="118.20" y="299.30" width="6.90" height="4.54" fill="#08093a"/>
<rect x="124.50" y="299.30" width="19.50" height="4.54" fill="#ba0d18"/>
<rect x="143.40" y="299.30" width="6.90" height="4.54" fill="#e2221e"/>
<rect x="149.70" y="299.30" width="6.90" height="4.54" fill="#f9a698"/>
<rect x="156.00" y="299.30" width="6.90" height="4.54" fill="#9ccde0"/>
<rect x="162.30" y="299.30" width="6.90" height="4.54" fill="#0b1754"/>
<rect x="168.60" y="299.30" width="6.90" height="4.54" fill="#cce6f0"/>
<rect x="174.90" y="299.30" width="6.90" height="4.54" fill="#f9a698"/>
<rect x="181.20" y="299.30" width="6.90" height="4.54" fill="#0b1754"/>
<rect x="187.50" y="299.30" width="6.90" height="4.54" fill="#f9a698"/>
<rect x="193.80" y="299.30" width="6.90" height="4.54" fill="#0b1754"/>
<rect x="200.10" y="299.30" width="6.90" height="4.54" fill="#08093a"/>
<rect x="206.40" y="299.30" width="6.90" height="4.54" fill="#f26452"/>
<rect x="212.70" y="299.30" width="25.80" height="4.54" fill="#08093a"/>
<rect x="237.90" y="299.30" width="6.90" height="4.54" fill="#1a4e9e"/>
<rect x="244.20" y="299.30" width="6.90" height="4.54" fill="#fbd6ce"/>
<rect x="250.50" y="299.30" width="13.20" height="4.54" fill="#3680ba"/>
<rect x="263.10" y="299.30" width="6.90" height="4.54" fill="#1a4e9e"/>
<rect x="269.40" y="299.30" width="6.90" height="4.54" fill="#9ccde0"/>
<rect x="275.70" y="299.30" width="13.20" height="4.54" fill="#0b1754"/>
<rect x="288.30" y="299.30" width="6.90" height="4.54" fill="#1a4e9e"/>
<rect x="294.60" y="299.30" width="6.90" height="4.54" fill="#0b1754"/>
<rect x="300.90" y="299.30" width="19.50" height="4.54" fill="#1a4e9e"/>
<rect x="319.80" y="299.30" width="13.20" height="4.54" fill="#0b1754"/>
<rect x="332.40" y="299.30" width="6.90" height="4.54" fill="#08093a"/>
<rect x="338.70" y="299.30" width="6.90" height="4.54" fill="#0f2d74"/>
<rect x="345.00" y="299.30" width="19.50" height="4.54" fill="#08093a"/>
<rect x="363.90" y="299.30" width="6.90" height="4.54" fill="#0b1754"/>
<rect x="370.20" y="299.30" width="6.90" height="4.54" fill="#08093a"/>
<rect x="376.50" y="299.30" width="6.90" height="4.54" fill="#0b1754"/>
<rect x="382.80" y="299.30" width="6.90" height="4.54" fill="#0f2d74"/>
<rect x="389.10" y="299.30" width="32.10" height="4.54" fill="#08093a"/>
<rect x="420.60" y="299.30" width="19.50" height="4.54" fill="#0b1754"/>
<rect x="439.50" y="299.30" width="6.90" height="4.54" fill="#08093a"/>
<rect x="445.80" y="299.30" width="6.90" height="4.54" fill="#0b1754"/>
<rect x="452.10" y="299.30" width="6.90" height="4.54" fill="#0f2d74"/>
<rect x="458.40" y="299.30" width="6.90" height="4.54" fill="#0b1754"/>
<rect x="464.70" y="299.30" width="6.90" height="4.54" fill="#08093a"/>
<rect x="471.00" y="299.30" width="25.80" height="4.54" fill="#0b1754"/>
<rect x="118.20" y="303.24" width="25.80" height="4.54" fill="#ba0d18"/>
<rect x="143.40" y="303.24" width="13.20" height="4.54" fill="#e2221e"/>
<rect x="156.00" y="303.24" width="6.90" height="4.54" fill="#fbd6ce"/>
<rect x="162.30" y="303.24" width="13.20" height="4.54" fill="#e2221e"/>
<rect x="174.90" y="303.24" width="6.90" height="4.54" fill="#f26452"/>
<rect x="181.20" y="303.24" width="25.80" height="4.54" fill="#e2221e"/>
<rect x="206.40" y="303.24" width="6.90" height="4.54" fill="#f26452"/>
<rect x="212.70" y="303.24" width="6.90" height="4.54" fill="#f9a698"/>
<rect x="219.00" y="303.24" width="6.90" height="4.54" fill="#f26452"/>
<rect x="225.30" y="303.24" width="13.20" height="4.54" fill="#fbd6ce"/>
<rect x="237.90" y="303.24" width="6.90" height="4.54" fill="#e2221e"/>
<rect x="244.20" y="303.24" width="6.90" height="4.54" fill="#ba0d18"/>
<rect x="250.50" y="303.24" width="6.90" height="4.54" fill="#9ccde0"/>
<rect x="256.80" y="303.24" width="6.90" height="4.54" fill="#3680ba"/>
<rect x="263.10" y="303.24" width="13.20" height="4.54" fill="#9ccde0"/>
<rect x="275.70" y="303.24" width="6.90" height="4.54" fill="#3680ba"/>
<rect x="282.00" y="303.24" width="6.90" height="4.54" fill="#0b1754"/>
<rect x="288.30" y="303.24" width="6.90" height="4.54" fill="#9ccde0"/>
<rect x="294.60" y="303.24" width="6.90" height="4.54" fill="#62a8ce"/>
<rect x="300.90" y="303.24" width="6.90" height="4.54" fill="#1a4e9e"/>
<rect x="307.20" y="303.24" width="6.90" height="4.54" fill="#3680ba"/>
<rect x="313.50" y="303.24" width="6.90" height="4.54" fill="#1a4e9e"/>
<rect x="319.80" y="303.24" width="6.90" height="4.54" fill="#9ccde0"/>
<rect x="326.10" y="303.24" width="6.90" height="4.54" fill="#1a4e9e"/>
<rect x="332.40" y="303.24" width="6.90" height="4.54" fill="#0b1754"/>
<rect x="338.70" y="303.24" width="6.90" height="4.54" fill="#9ccde0"/>
<rect x="345.00" y="303.24" width="6.90" height="4.54" fill="#cce6f0"/>
<rect x="351.30" y="303.24" width="6.90" height="4.54" fill="#0b1754"/>
<rect x="357.60" y="303.24" width="6.90" height="4.54" fill="#fbd6ce"/>
<rect x="363.90" y="303.24" width="13.20" height="4.54" fill="#9ccde0"/>
<rect x="376.50" y="303.24" width="6.90" height="4.54" fill="#62a8ce"/>
<rect x="382.80" y="303.24" width="6.90" height="4.54" fill="#3680ba"/>
<rect x="389.10" y="303.24" width="13.20" height="4.54" fill="#f26452"/>
<rect x="401.70" y="303.24" width="6.90" height="4.54" fill="#0b1754"/>
<rect x="408.00" y="303.24" width="6.90" height="4.54" fill="#1a4e9e"/>
<rect x="414.30" y="303.24" width="6.90" height="4.54" fill="#08093a"/>
<rect x="420.60" y="303.24" width="13.20" height="4.54" fill="#0f2d74"/>
<rect x="433.20" y="303.24" width="13.20" height="4.54" fill="#1a4e9e"/>
<rect x="445.80" y="303.24" width="6.90" height="4.54" fill="#0b1754"/>
<rect x="452.10" y="303.24" width="6.90" height="4.54" fill="#3680ba"/>
<rect x="458.40" y="303.24" width="6.90" height="4.54" fill="#1a4e9e"/>
<rect x="464.70" y="303.24" width="6.90" height="4.54" fill="#0b1754"/>
<rect x="471.00" y="303.24" width="13.20" height="4.54" fill="#0f2d74"/>
<rect x="483.60" y="303.24" width="13.20" height="4.54" fill="#1a4e9e"/>
</g>
<rect x="124.20" y="63.20" width="0.6" height="243.97" fill="#fff" fill-opacity="0.38"/>
<rect x="130.50" y="63.20" width="0.6" height="243.97" fill="#fff" fill-opacity="0.38"/>
<rect x="136.80" y="63.20" width="0.6" height="243.97" fill="#fff" fill-opacity="0.38"/>
<rect x="143.10" y="63.20" width="0.6" height="243.97" fill="#fff" fill-opacity="0.38"/>
<rect x="149.40" y="63.20" width="0.6" height="243.97" fill="#fff" fill-opacity="0.38"/>
<rect x="162.00" y="63.20" width="0.6" height="243.97" fill="#fff" fill-opacity="0.38"/>
<rect x="174.60" y="63.20" width="0.6" height="243.97" fill="#fff" fill-opacity="0.38"/>
<rect x="187.20" y="63.20" width="0.6" height="243.97" fill="#fff" fill-opacity="0.38"/>
<rect x="193.50" y="63.20" width="0.6" height="243.97" fill="#fff" fill-opacity="0.38"/>
<rect x="206.10" y="63.20" width="0.6" height="243.97" fill="#fff" fill-opacity="0.38"/>
<rect x="212.40" y="63.20" width="0.6" height="243.97" fill="#fff" fill-opacity="0.38"/>
<rect x="218.70" y="63.20" width="0.6" height="243.97" fill="#fff" fill-opacity="0.38"/>
<rect x="225.00" y="63.20" width="0.6" height="243.97" fill="#fff" fill-opacity="0.38"/>
<rect x="231.30" y="63.20" width="0.6" height="243.97" fill="#fff" fill-opacity="0.38"/>
<rect x="237.60" y="63.20" width="0.6" height="243.97" fill="#fff" fill-opacity="0.38"/>
<rect x="243.90" y="63.20" width="0.6" height="243.97" fill="#fff" fill-opacity="0.38"/>
<rect x="250.20" y="63.20" width="0.6" height="243.97" fill="#fff" fill-opacity="0.38"/>
<rect x="256.50" y="63.20" width="0.6" height="243.97" fill="#fff" fill-opacity="0.38"/>
<rect x="269.10" y="63.20" width="0.6" height="243.97" fill="#fff" fill-opacity="0.38"/>
<rect x="275.40" y="63.20" width="0.6" height="243.97" fill="#fff" fill-opacity="0.38"/>
<rect x="281.70" y="63.20" width="0.6" height="243.97" fill="#fff" fill-opacity="0.38"/>
<rect x="288.00" y="63.20" width="0.6" height="243.97" fill="#fff" fill-opacity="0.38"/>
<rect x="294.30" y="63.20" width="0.6" height="243.97" fill="#fff" fill-opacity="0.38"/>
<rect x="300.60" y="63.20" width="0.6" height="243.97" fill="#fff" fill-opacity="0.38"/>
<rect x="306.90" y="63.20" width="0.6" height="243.97" fill="#fff" fill-opacity="0.38"/>
<rect x="313.20" y="63.20" width="0.6" height="243.97" fill="#fff" fill-opacity="0.38"/>
<rect x="319.50" y="63.20" width="0.6" height="243.97" fill="#fff" fill-opacity="0.38"/>
<rect x="325.80" y="63.20" width="0.6" height="243.97" fill="#fff" fill-opacity="0.38"/>
<rect x="332.10" y="63.20" width="0.6" height="243.97" fill="#fff" fill-opacity="0.38"/>
<rect x="344.70" y="63.20" width="0.6" height="243.97" fill="#fff" fill-opacity="0.38"/>
<rect x="351.00" y="63.20" width="0.6" height="243.97" fill="#fff" fill-opacity="0.38"/>
<rect x="357.30" y="63.20" width="0.6" height="243.97" fill="#fff" fill-opacity="0.38"/>
<rect x="363.60" y="63.20" width="0.6" height="243.97" fill="#fff" fill-opacity="0.38"/>
<rect x="369.90" y="63.20" width="0.6" height="243.97" fill="#fff" fill-opacity="0.38"/>
<rect x="376.20" y="63.20" width="0.6" height="243.97" fill="#fff" fill-opacity="0.38"/>
<rect x="382.50" y="63.20" width="0.6" height="243.97" fill="#fff" fill-opacity="0.38"/>
<rect x="388.80" y="63.20" width="0.6" height="243.97" fill="#fff" fill-opacity="0.38"/>
<rect x="395.10" y="63.20" width="0.6" height="243.97" fill="#fff" fill-opacity="0.38"/>
<rect x="401.40" y="63.20" width="0.6" height="243.97" fill="#fff" fill-opacity="0.38"/>
<rect x="407.70" y="63.20" width="0.6" height="243.97" fill="#fff" fill-opacity="0.38"/>
<rect x="414.00" y="63.20" width="0.6" height="243.97" fill="#fff" fill-opacity="0.38"/>
<rect x="420.30" y="63.20" width="0.6" height="243.97" fill="#fff" fill-opacity="0.38"/>
<rect x="426.60" y="63.20" width="0.6" height="243.97" fill="#fff" fill-opacity="0.38"/>
<rect x="432.90" y="63.20" width="0.6" height="243.97" fill="#fff" fill-opacity="0.38"/>
<rect x="439.20" y="63.20" width="0.6" height="243.97" fill="#fff" fill-opacity="0.38"/>
<rect x="445.50" y="63.20" width="0.6" height="243.97" fill="#fff" fill-opacity="0.38"/>
<rect x="451.80" y="63.20" width="0.6" height="243.97" fill="#fff" fill-opacity="0.38"/>
<rect x="458.10" y="63.20" width="0.6" height="243.97" fill="#fff" fill-opacity="0.38"/>
<rect x="464.40" y="63.20" width="0.6" height="243.97" fill="#fff" fill-opacity="0.38"/>
<rect x="470.70" y="63.20" width="0.6" height="243.97" fill="#fff" fill-opacity="0.38"/>
<rect x="477.00" y="63.20" width="0.6" height="243.97" fill="#fff" fill-opacity="0.38"/>
<rect x="483.30" y="63.20" width="0.6" height="243.97" fill="#fff" fill-opacity="0.38"/>
<rect x="489.60" y="63.20" width="0.6" height="243.97" fill="#fff" fill-opacity="0.38"/>
<rect x="155.00" y="47" width="2.0" height="272.17" fill="#fff"/>
<rect x="167.60" y="47" width="2.0" height="272.17" fill="#fff"/>
<rect x="180.20" y="47" width="2.0" height="272.17" fill="#fff"/>
<rect x="199.10" y="47" width="2.0" height="272.17" fill="#fff"/>
<rect x="262.10" y="47" width="2.0" height="272.17" fill="#fff"/>
<rect x="337.70" y="47" width="2.0" height="272.17" fill="#fff"/>
<rect x="118.20" y="48.3" width="36.80" height="13.9" fill="#cfcfc7"/>
<text x="136.60" y="57.4" font-family="Liberation Sans, sans-serif" font-weight="bold" font-size="5.6" text-anchor="middle" fill="#222">A</text>
<rect x="157.00" y="48.3" width="10.60" height="13.9" fill="#cfcfc7"/>
<text x="162.30" y="57.4" font-family="Liberation Sans, sans-serif" font-weight="bold" font-size="5.6" text-anchor="middle" fill="#222">B</text>
<rect x="169.60" y="48.3" width="10.60" height="13.9" fill="#cfcfc7"/>
<text x="174.90" y="57.4" font-family="Liberation Sans, sans-serif" font-weight="bold" font-size="5.6" text-anchor="middle" fill="#222">C</text>
<rect x="182.20" y="48.3" width="16.90" height="13.9" fill="#cfcfc7"/>
<text x="190.65" y="57.4" font-family="Liberation Sans, sans-serif" font-weight="bold" font-size="5.6" text-anchor="middle" fill="#222">D</text>
<rect x="201.10" y="48.3" width="61.00" height="13.9" fill="#cfcfc7"/>
<text x="231.60" y="57.4" font-family="Liberation Sans, sans-serif" font-weight="bold" font-size="5.6" text-anchor="middle" fill="#222">E</text>
<rect x="264.10" y="48.3" width="73.60" height="13.9" fill="#cfcfc7"/>
<text x="300.90" y="57.4" font-family="Liberation Sans, sans-serif" font-weight="bold" font-size="5.6" text-anchor="middle" fill="#222">F</text>
<rect x="339.70" y="48.3" width="156.50" height="13.9" fill="#cfcfc7"/>
<text x="417.95" y="57.4" font-family="Liberation Sans, sans-serif" font-weight="bold" font-size="5.6" text-anchor="middle" fill="#222">G</text>
<rect x="97.0" y="63.20" width="18.9" height="11.90" fill="#ee2010"/>
<text x="89.9" y="68.95" font-family="Liberation Sans, sans-serif" font-size="5.5" text-anchor="end" fill="#111">Hyperdiploid</text>
<rect x="97.0" y="75.00" width="18.9" height="7.97" fill="#f8400e"/>
<text x="89.9" y="80.54" font-family="Liberation Sans, sans-serif" font-size="5.5" text-anchor="end" fill="#111">ETV-RUNX1</text>
<rect x="97.0" y="82.88" width="18.9" height="19.78" fill="#fc8628"/>
<text x="89.9" y="98.06" font-family="Liberation Sans, sans-serif" font-size="5.5" text-anchor="end" fill="#111">TCF3-PBX1</text>
<rect x="97.0" y="102.55" width="18.9" height="23.71" fill="#fdd04a"/>
<text x="89.9" y="116.95" font-family="Liberation Sans, sans-serif" font-size="5.5" text-anchor="end" fill="#111">TCF3-HLF</text>
<rect x="97.0" y="126.16" width="18.9" height="15.84" fill="#c6e6e4"/>
<text x="89.9" y="135.13" font-family="Liberation Sans, sans-serif" font-size="5.5" text-anchor="end" fill="#111">MLL-AF4</text>
<rect x="97.0" y="141.90" width="18.9" height="11.90" fill="#78c4cc"/>
<text x="92.3" y="149.40" font-family="Liberation Sans, sans-serif" font-size="5.5" text-anchor="end" fill="#111">P2RY8-CRLF2</text>
<rect x="97.0" y="153.70" width="18.9" height="7.97" fill="#4088b2"/>
<text x="89.9" y="161.84" font-family="Liberation Sans, sans-serif" font-size="5.5" text-anchor="end" fill="#111">BCR-ABL</text>
<rect x="97.0" y="161.57" width="18.9" height="55.19" fill="#1c4aa8"/>
<text x="89.9" y="186.32" font-family="Liberation Sans, sans-serif" font-size="5.5" text-anchor="end" fill="#111">OTHER</text>
<rect x="97.0" y="216.67" width="18.9" height="23.71" fill="#f01414"/>
<text x="89.9" y="231.07" font-family="Liberation Sans, sans-serif" font-size="5.5" text-anchor="end" fill="#111">Pre-T-ALL</text>
<rect x="97.0" y="240.28" width="18.9" height="43.38" fill="#ece4a0"/>
<text x="89.9" y="263.52" font-family="Liberation Sans, sans-serif" font-size="5.5" text-anchor="end" fill="#111">Cortical T-ALL</text>
<rect x="97.0" y="283.56" width="18.9" height="23.71" fill="#2450b0"/>
<text x="89.9" y="296.97" font-family="Liberation Sans, sans-serif" font-size="5.5" text-anchor="end" fill="#111">Mature T-ALL</text>
<rect x="95" y="215.72" width="405" height="1.8" fill="#fff"/>
<g font-family="Liberation Sans, sans-serif" font-weight="bold" font-size="3.0" fill="#111">
<text x="498.4" y="66.47">B-MR-88</text>
<text x="498.4" y="70.40">B-PI-80</text>
<text x="498.4" y="74.34">B-MR-95</text>
<text x="498.4" y="78.27">B-MR-92</text>
<text x="498.4" y="82.21">B-MR-14</text>
<text x="498.4" y="86.14">B-MR-01</text>
<text x="498.4" y="90.08">B-MR-21</text>
<text x="498.4" y="94.01">B-MR-22</text>
<text x="498.4" y="97.95">B-MR-23</text>
<text x="498.4" y="101.88">B-MR-24</text>
<text x="498.4" y="105.82">B-MR-20</text>
<text x="498.4" y="109.75">B-MR-21</text>
<text x="498.4" y="113.69">B-MR-24</text>
<text x="498.4" y="117.62">B-PI-25</text>
<text x="498.4" y="121.56">B-VHR-61</text>
<text x="498.4" y="125.49">B-VHR-23</text>
<text x="498.4" y="129.43">B-MR-93</text>
<text x="498.4" y="133.36">B-MR-25</text>
<text x="498.4" y="137.30">B-VHR-67</text>
<text x="498.4" y="141.23">B-PI-67</text>
<text x="498.4" y="145.17">B-MR-53</text>
<text x="498.4" y="149.10">B-PI-20b</text>
<text x="498.4" y="153.04">B-PI-14</text>
<text x="498.4" y="156.97">B-MR-82</text>
<text x="498.4" y="160.91">B-MR-13</text>
<text x="498.4" y="164.84">B-MR-17</text>
<text x="498.4" y="168.78">B-PI-04</text>
<text x="498.4" y="172.71">B-PI-10</text>
<text x="498.4" y="176.65">B-SR-02</text>
<text x="498.4" y="180.58">B-SR-30</text>
<text x="498.4" y="184.52">B-VHR-02</text>
<text x="498.4" y="188.45">B-VHR-03</text>
<text x="498.4" y="192.39">B-VHR-04</text>
<text x="498.4" y="196.32">B-VHR-05</text>
<text x="498.4" y="200.26">B-VHR-52</text>
<text x="498.4" y="204.19">B-PI-81</text>
<text x="498.4" y="208.13">B-PI-27</text>
<text x="498.4" y="212.06">B-PI-09</text>
<text x="498.4" y="216.00">B-MR-27</text>
<text x="498.4" y="219.93">T-MR-06</text>
<text x="498.4" y="223.87">T-PI-15</text>
<text x="498.4" y="227.80">T-MR-62</text>
<text x="498.4" y="231.74">T-MR-56</text>
<text x="498.4" y="235.67">T-MR-54</text>
<text x="498.4" y="239.61">T-MR-04</text>
<text x="498.4" y="243.54">T-MR-86</text>
<text x="498.4" y="247.48">T-MR-65</text>
<text x="498.4" y="251.41">T-VHR-05</text>
<text x="498.4" y="255.35">T-MR-96</text>
<text x="498.4" y="259.28">T-MR-87</text>
<text x="498.4" y="263.22">T-MR-15</text>
<text x="498.4" y="267.15">T-PI-17</text>
<text x="498.4" y="271.09">T-MR-95</text>
<text x="498.4" y="275.02">T-PI-05</text>
<text x="498.4" y="278.96">T-MR-64</text>
<text x="498.4" y="282.89">T-VHR-56</text>
<text x="498.4" y="286.83">T-PI-13</text>
<text x="498.4" y="290.76">T-PI-10</text>
<text x="498.4" y="294.70">T-PI-12</text>
<text x="498.4" y="298.63">T-MR-42</text>
<text x="498.4" y="302.57">T-MR-67</text>
<text x="498.4" y="306.50">T-VHR-26</text>
<text x="498.6" y="315.9">MRC</text>
</g>
<rect x="118.20" y="312" width="6.90" height="5.3" fill="#0b1754"/>
<rect x="124.50" y="312" width="6.90" height="5.3" fill="#1a4e9e"/>
<rect x="130.80" y="312" width="6.90" height="5.3" fill="#0f2d74"/>
<rect x="137.10" y="312" width="6.90" height="5.3" fill="#0b1754"/>
<rect x="143.40" y="312" width="6.90" height="5.3" fill="#0b1754"/>
<rect x="149.70" y="312" width="6.90" height="5.3" fill="#0f2d74"/>
<rect x="156.00" y="312" width="6.90" height="5.3" fill="#0b1754"/>
<rect x="162.30" y="312" width="6.90" height="5.3" fill="#0b1754"/>
<rect x="168.60" y="312" width="6.90" height="5.3" fill="#1a4e9e"/>
<rect x="174.90" y="312" width="6.90" height="5.3" fill="#0b1754"/>
<rect x="181.20" y="312" width="6.90" height="5.3" fill="#0b1754"/>
<rect x="187.50" y="312" width="6.90" height="5.3" fill="#0b1754"/>
<rect x="193.80" y="312" width="6.90" height="5.3" fill="#0b1754"/>
<rect x="200.10" y="312" width="6.90" height="5.3" fill="#0b1754"/>
<rect x="206.40" y="312" width="6.90" height="5.3" fill="#0b1754"/>
<rect x="212.70" y="312" width="6.90" height="5.3" fill="#0b1754"/>
<rect x="219.00" y="312" width="6.90" height="5.3" fill="#0b1754"/>
<rect x="225.30" y="312" width="6.90" height="5.3" fill="#0b1754"/>
<rect x="231.60" y="312" width="6.90" height="5.3" fill="#0b1754"/>
<rect x="237.90" y="312" width="6.90" height="5.3" fill="#0b1754"/>
<rect x="244.20" y="312" width="6.90" height="5.3" fill="#0b1754"/>
<rect x="250.50" y="312" width="6.90" height="5.3" fill="#0b1754"/>
<rect x="256.80" y="312" width="6.90" height="5.3" fill="#0b1754"/>
<rect x="263.10" y="312" width="6.90" height="5.3" fill="#1a4e9e"/>
<rect x="269.40" y="312" width="6.90" height="5.3" fill="#0b1754"/>
<rect x="275.70" y="312" width="6.90" height="5.3" fill="#0b1754"/>
<rect x="282.00" y="312" width="6.90" height="5.3" fill="#0b1754"/>
<rect x="288.30" y="312" width="6.90" height="5.3" fill="#0b1754"/>
<rect x="294.60" y="312" width="6.90" height="5.3" fill="#0b1754"/>
<rect x="300.90" y="312" width="6.90" height="5.3" fill="#0b1754"/>
<rect x="307.20" y="312" width="6.90" height="5.3" fill="#0b1754"/>
<rect x="313.50" y="312" width="6.90" height="5.3" fill="#0b1754"/>
<rect x="319.80" y="312" width="6.90" height="5.3" fill="#0b1754"/>
<rect x="326.10" y="312" width="6.90" height="5.3" fill="#0b1754"/>
<rect x="332.40" y="312" width="6.90" height="5.3" fill="#0b1754"/>
<rect x="338.70" y="312" width="6.90" height="5.3" fill="#0b1754"/>
<rect x="345.00" y="312" width="6.90" height="5.3" fill="#0b1754"/>
<rect x="351.30" y="312" width="6.90" height="5.3" fill="#0b1754"/>
<rect x="357.60" y="312" width="6.90" height="5.3" fill="#0b1754"/>
<rect x="363.90" y="312" width="6.90" height="5.3" fill="#0b1754"/>
<rect x="370.20" y="312" width="6.90" height="5.3" fill="#0b1754"/>
<rect x="376.50" y="312" width="6.90" height="5.3" fill="#0b1754"/>
<rect x="382.80" y="312" width="6.90" height="5.3" fill="#0b1754"/>
<rect x="389.10" y="312" width="6.90" height="5.3" fill="#0b1754"/>
<rect x="395.40" y="312" width="6.90" height="5.3" fill="#0b1754"/>
<rect x="401.70" y="312" width="6.90" height="5.3" fill="#0b1754"/>
<rect x="408.00" y="312" width="6.90" height="5.3" fill="#0b1754"/>
<rect x="414.30" y="312" width="6.90" height="5.3" fill="#0b1754"/>
<rect x="420.60" y="312" width="6.90" height="5.3" fill="#0b1754"/>
<rect x="426.90" y="312" width="6.90" height="5.3" fill="#0b1754"/>
<rect x="433.20" y="312" width="6.90" height="5.3" fill="#0b1754"/>
<rect x="439.50" y="312" width="6.90" height="5.3" fill="#0b1754"/>
<rect x="445.80" y="312" width="6.90" height="5.3" fill="#0b1754"/>
<rect x="452.10" y="312" width="6.90" height="5.3" fill="#0b1754"/>
<rect x="458.40" y="312" width="6.90" height="5.3" fill="#0b1754"/>
<rect x="464.70" y="312" width="6.90" height="5.3" fill="#0b1754"/>
<rect x="471.00" y="312" width="6.90" height="5.3" fill="#0b1754"/>
<rect x="477.30" y="312" width="6.90" height="5.3" fill="#0b1754"/>
<rect x="483.60" y="312" width="6.90" height="5.3" fill="#0b1754"/>
<rect x="489.90" y="312" width="6.30" height="5.3" fill="#0b1754"/>
<rect x="124.20" y="312" width="0.6" height="5.3" fill="#fff" fill-opacity="0.3"/>
<rect x="130.50" y="312" width="0.6" height="5.3" fill="#fff" fill-opacity="0.3"/>
<rect x="136.80" y="312" width="0.6" height="5.3" fill="#fff" fill-opacity="0.3"/>
<rect x="143.10" y="312" width="0.6" height="5.3" fill="#fff" fill-opacity="0.3"/>
<rect x="149.40" y="312" width="0.6" height="5.3" fill="#fff" fill-opacity="0.3"/>
<rect x="162.00" y="312" width="0.6" height="5.3" fill="#fff" fill-opacity="0.3"/>
<rect x="174.60" y="312" width="0.6" height="5.3" fill="#fff" fill-opacity="0.3"/>
<rect x="187.20" y="312" width="0.6" height="5.3" fill="#fff" fill-opacity="0.3"/>
<rect x="193.50" y="312" width="0.6" height="5.3" fill="#fff" fill-opacity="0.3"/>
<rect x="206.10" y="312" width="0.6" height="5.3" fill="#fff" fill-opacity="0.3"/>
<rect x="212.40" y="312" width="0.6" height="5.3" fill="#fff" fill-opacity="0.3"/>
<rect x="218.70" y="312" width="0.6" height="5.3" fill="#fff" fill-opacity="0.3"/>
<rect x="225.00" y="312" width="0.6" height="5.3" fill="#fff" fill-opacity="0.3"/>
<rect x="231.30" y="312" width="0.6" height="5.3" fill="#fff" fill-opacity="0.3"/>
<rect x="237.60" y="312" width="0.6" height="5.3" fill="#fff" fill-opacity="0.3"/>
<rect x="243.90" y="312" width="0.6" height="5.3" fill="#fff" fill-opacity="0.3"/>
<rect x="250.20" y="312" width="0.6" height="5.3" fill="#fff" fill-opacity="0.3"/>
<rect x="256.50" y="312" width="0.6" height="5.3" fill="#fff" fill-opacity="0.3"/>
<rect x="269.10" y="312" width="0.6" height="5.3" fill="#fff" fill-opacity="0.3"/>
<rect x="275.40" y="312" width="0.6" height="5.3" fill="#fff" fill-opacity="0.3"/>
<rect x="281.70" y="312" width="0.6" height="5.3" fill="#fff" fill-opacity="0.3"/>
<rect x="288.00" y="312" width="0.6" height="5.3" fill="#fff" fill-opacity="0.3"/>
<rect x="294.30" y="312" width="0.6" height="5.3" fill="#fff" fill-opacity="0.3"/>
<rect x="300.60" y="312" width="0.6" height="5.3" fill="#fff" fill-opacity="0.3"/>
<rect x="306.90" y="312" width="0.6" height="5.3" fill="#fff" fill-opacity="0.3"/>
<rect x="313.20" y="312" width="0.6" height="5.3" fill="#fff" fill-opacity="0.3"/>
<rect x="319.50" y="312" width="0.6" height="5.3" fill="#fff" fill-opacity="0.3"/>
<rect x="325.80" y="312" width="0.6" height="5.3" fill="#fff" fill-opacity="0.3"/>
<rect x="332.10" y="312" width="0.6" height="5.3" fill="#fff" fill-opacity="0.3"/>
<rect x="344.70" y="312" width="0.6" height="5.3" fill="#fff" fill-opacity="0.3"/>
<rect x="351.00" y="312" width="0.6" height="5.3" fill="#fff" fill-opacity="0.3"/>
<rect x="357.30" y="312" width="0.6" height="5.3" fill="#fff" fill-opacity="0.3"/>
<rect x="363.60" y="312" width="0.6" height="5.3" fill="#fff" fill-opacity="0.3"/>
<rect x="369.90" y="312" width="0.6" height="5.3" fill="#fff" fill-opacity="0.3"/>
<rect x="376.20" y="312" width="0.6" height="5.3" fill="#fff" fill-opacity="0.3"/>
<rect x="382.50" y="312" width="0.6" height="5.3" fill="#fff" fill-opacity="0.3"/>
<rect x="388.80" y="312" width="0.6" height="5.3" fill="#fff" fill-opacity="0.3"/>
<rect x="395.10" y="312" width="0.6" height="5.3" fill="#fff" fill-opacity="0.3"/>
<rect x="401.40" y="312" width="0.6" height="5.3" fill="#fff" fill-opacity="0.3"/>
<rect x="407.70" y="312" width="0.6" height="5.3" fill="#fff" fill-opacity="0.3"/>
<rect x="414.00" y="312" width="0.6" height="5.3" fill="#fff" fill-opacity="0.3"/>
<rect x="420.30" y="312" width="0.6" height="5.3" fill="#fff" fill-opacity="0.3"/>
<rect x="426.60" y="312" width="0.6" height="5.3" fill="#fff" fill-opacity="0.3"/>
<rect x="432.90" y="312" width="0.6" height="5.3" fill="#fff" fill-opacity="0.3"/>
<rect x="439.20" y="312" width="0.6" height="5.3" fill="#fff" fill-opacity="0.3"/>
<rect x="445.50" y="312" width="0.6" height="5.3" fill="#fff" fill-opacity="0.3"/>
<rect x="451.80" y="312" width="0.6" height="5.3" fill="#fff" fill-opacity="0.3"/>
<rect x="458.10" y="312" width="0.6" height="5.3" fill="#fff" fill-opacity="0.3"/>
<rect x="464.40" y="312" width="0.6" height="5.3" fill="#fff" fill-opacity="0.3"/>
<rect x="470.70" y="312" width="0.6" height="5.3" fill="#fff" fill-opacity="0.3"/>
<rect x="477.00" y="312" width="0.6" height="5.3" fill="#fff" fill-opacity="0.3"/>
<rect x="483.30" y="312" width="0.6" height="5.3" fill="#fff" fill-opacity="0.3"/>
<rect x="489.60" y="312" width="0.6" height="5.3" fill="#fff" fill-opacity="0.3"/>
<rect x="155.00" y="311" width="2.0" height="7" fill="#fff"/>
<rect x="167.60" y="311" width="2.0" height="7" fill="#fff"/>
<rect x="180.20" y="311" width="2.0" height="7" fill="#fff"/>
<rect x="199.10" y="311" width="2.0" height="7" fill="#fff"/>
<rect x="262.10" y="311" width="2.0" height="7" fill="#fff"/>
<rect x="337.70" y="311" width="2.0" height="7" fill="#fff"/>
<rect x="121.05" y="321.00" width="0.6" height="22.00" fill="#5a1020"/>
<rect x="118.85" y="331.00" width="5.0" height="9.25" fill="#a4162c"/>
<rect x="118.85" y="335.79" width="5.0" height="0.6" fill="#3c0814"/>
<rect x="127.35" y="332.50" width="0.6" height="10.50" fill="#5a1020"/>
<rect x="125.15" y="336.25" width="5.0" height="4.00" fill="#a4162c"/>
<rect x="125.15" y="338.15" width="5.0" height="0.6" fill="#3c0814"/>
<rect x="133.65" y="333.50" width="0.6" height="7.50" fill="#5a1020"/>
<rect x="131.45" y="337.00" width="5.0" height="2.00" fill="#a4162c"/>
<rect x="131.45" y="337.80" width="5.0" height="0.6" fill="#3c0814"/>
<rect x="139.95" y="332.25" width="0.6" height="8.25" fill="#5a1020"/>
<rect x="137.75" y="336.00" width="5.0" height="2.50" fill="#a4162c"/>
<rect x="137.75" y="337.07" width="5.0" height="0.6" fill="#3c0814"/>
<rect x="146.25" y="331.00" width="0.6" height="9.25" fill="#5a1020"/>
<rect x="144.05" y="334.75" width="5.0" height="3.00" fill="#a4162c"/>
<rect x="144.05" y="336.10" width="5.0" height="0.6" fill="#3c0814"/>
<rect x="152.55" y="331.00" width="0.6" height="8.75" fill="#5a1020"/>
<rect x="150.35" y="334.25" width="5.0" height="3.00" fill="#a4162c"/>
<rect x="150.35" y="335.60" width="5.0" height="0.6" fill="#3c0814"/>
<rect x="158.85" y="322.25" width="0.6" height="17.50" fill="#5a1020"/>
<rect x="156.65" y="325.50" width="5.0" height="10.00" fill="#a4162c"/>
<rect x="156.65" y="330.70" width="5.0" height="0.6" fill="#3c0814"/>
<rect x="165.15" y="322.25" width="0.6" height="16.25" fill="#5a1020"/>
<rect x="162.95" y="329.75" width="5.0" height="5.75" fill="#a4162c"/>
<rect x="162.95" y="332.61" width="5.0" height="0.6" fill="#3c0814"/>
<rect x="171.45" y="327.25" width="0.6" height="10.00" fill="#5a1020"/>
<rect x="169.25" y="330.25" width="5.0" height="3.25" fill="#a4162c"/>
<rect x="169.25" y="331.74" width="5.0" height="0.6" fill="#3c0814"/>
<rect x="177.75" y="329.75" width="0.6" height="4.25" fill="#5a1020"/>
<rect x="175.55" y="331.00" width="5.0" height="1.75" fill="#a4162c"/>
<rect x="175.55" y="331.66" width="5.0" height="0.6" fill="#3c0814"/>
<rect x="184.05" y="319.75" width="0.6" height="20.00" fill="#5a1020"/>
<rect x="181.85" y="319.75" width="5.0" height="15.75" fill="#a4162c"/>
<rect x="181.85" y="328.11" width="5.0" height="0.6" fill="#3c0814"/>
<rect x="190.35" y="321.00" width="0.6" height="18.75" fill="#5a1020"/>
<rect x="188.15" y="326.50" width="5.0" height="9.50" fill="#a4162c"/>
<rect x="188.15" y="331.43" width="5.0" height="0.6" fill="#3c0814"/>
<rect x="196.65" y="326.00" width="0.6" height="13.75" fill="#5a1020"/>
<rect x="194.45" y="330.25" width="5.0" height="5.75" fill="#a4162c"/>
<rect x="194.45" y="333.11" width="5.0" height="0.6" fill="#3c0814"/>
<rect x="202.95" y="319.75" width="0.6" height="20.75" fill="#5a1020"/>
<rect x="200.75" y="319.75" width="5.0" height="15.75" fill="#a4162c"/>
<rect x="200.75" y="328.11" width="5.0" height="0.6" fill="#3c0814"/>
<rect x="209.25" y="319.75" width="0.6" height="17.50" fill="#5a1020"/>
<rect x="207.05" y="320.50" width="5.0" height="13.00" fill="#a4162c"/>
<rect x="207.05" y="327.35" width="5.0" height="0.6" fill="#3c0814"/>
<rect x="215.55" y="320.50" width="0.6" height="15.50" fill="#5a1020"/>
<rect x="213.35" y="323.00" width="5.0" height="8.00" fill="#a4162c"/>
<rect x="213.35" y="327.10" width="5.0" height="0.6" fill="#3c0814"/>
<rect x="221.85" y="319.75" width="0.6" height="15.75" fill="#5a1020"/>
<rect x="219.65" y="321.00" width="5.0" height="11.25" fill="#a4162c"/>
<rect x="219.65" y="326.89" width="5.0" height="0.6" fill="#3c0814"/>
<rect x="228.15" y="321.50" width="0.6" height="15.75" fill="#5a1020"/>
<rect x="225.95" y="327.25" width="5.0" height="5.75" fill="#a4162c"/>
<rect x="225.95" y="330.11" width="5.0" height="0.6" fill="#3c0814"/>
<rect x="234.45" y="319.75" width="0.6" height="16.25" fill="#5a1020"/>
<rect x="232.25" y="319.75" width="5.0" height="11.25" fill="#a4162c"/>
<rect x="232.25" y="325.64" width="5.0" height="0.6" fill="#3c0814"/>
<rect x="240.75" y="322.25" width="0.6" height="17.50" fill="#5a1020"/>
<rect x="238.55" y="324.00" width="5.0" height="7.00" fill="#a4162c"/>
<rect x="238.55" y="327.55" width="5.0" height="0.6" fill="#3c0814"/>
<rect x="247.05" y="322.25" width="0.6" height="14.25" fill="#5a1020"/>
<rect x="244.85" y="326.50" width="5.0" height="7.50" fill="#a4162c"/>
<rect x="244.85" y="330.32" width="5.0" height="0.6" fill="#3c0814"/>
<rect x="253.35" y="327.25" width="0.6" height="5.75" fill="#5a1020"/>
<rect x="251.15" y="329.25" width="5.0" height="1.25" fill="#a4162c"/>
<rect x="251.15" y="329.64" width="5.0" height="0.6" fill="#3c0814"/>
<rect x="259.65" y="325.50" width="0.6" height="9.25" fill="#5a1020"/>
<rect x="257.45" y="327.75" width="5.0" height="4.00" fill="#a4162c"/>
<rect x="257.45" y="329.65" width="5.0" height="0.6" fill="#3c0814"/>
<rect x="265.95" y="321.00" width="0.6" height="11.25" fill="#5a1020"/>
<rect x="263.75" y="324.75" width="5.0" height="5.00" fill="#a4162c"/>
<rect x="263.75" y="327.20" width="5.0" height="0.6" fill="#3c0814"/>
<rect x="272.25" y="321.50" width="0.6" height="9.50" fill="#5a1020"/>
<rect x="270.05" y="324.00" width="5.0" height="4.00" fill="#a4162c"/>
<rect x="270.05" y="325.90" width="5.0" height="0.6" fill="#3c0814"/>
<rect x="278.55" y="320.50" width="0.6" height="10.50" fill="#5a1020"/>
<rect x="276.35" y="323.00" width="5.0" height="5.50" fill="#a4162c"/>
<rect x="276.35" y="325.72" width="5.0" height="0.6" fill="#3c0814"/>
<rect x="284.85" y="323.00" width="0.6" height="7.50" fill="#5a1020"/>
<rect x="282.65" y="324.75" width="5.0" height="3.25" fill="#a4162c"/>
<rect x="282.65" y="326.24" width="5.0" height="0.6" fill="#3c0814"/>
<rect x="291.15" y="320.50" width="0.6" height="11.75" fill="#5a1020"/>
<rect x="288.95" y="323.50" width="5.0" height="5.00" fill="#a4162c"/>
<rect x="288.95" y="325.95" width="5.0" height="0.6" fill="#3c0814"/>
<rect x="297.45" y="321.00" width="0.6" height="8.00" fill="#5a1020"/>
<rect x="295.25" y="323.50" width="5.0" height="3.25" fill="#a4162c"/>
<rect x="295.25" y="324.99" width="5.0" height="0.6" fill="#3c0814"/>
<rect x="303.75" y="319.75" width="0.6" height="8.25" fill="#5a1020"/>
<rect x="301.55" y="322.75" width="5.0" height="2.75" fill="#a4162c"/>
<rect x="301.55" y="323.96" width="5.0" height="0.6" fill="#3c0814"/>
<rect x="310.05" y="321.50" width="0.6" height="7.50" fill="#5a1020"/>
<rect x="307.85" y="324.00" width="5.0" height="2.00" fill="#a4162c"/>
<rect x="307.85" y="324.80" width="5.0" height="0.6" fill="#3c0814"/>
<rect x="316.35" y="321.50" width="0.6" height="6.50" fill="#5a1020"/>
<rect x="314.15" y="323.50" width="5.0" height="2.50" fill="#a4162c"/>
<rect x="314.15" y="324.57" width="5.0" height="0.6" fill="#3c0814"/>
<rect x="322.65" y="321.00" width="0.6" height="10.00" fill="#5a1020"/>
<rect x="320.45" y="324.75" width="5.0" height="4.25" fill="#a4162c"/>
<rect x="320.45" y="326.79" width="5.0" height="0.6" fill="#3c0814"/>
<rect x="328.95" y="319.75" width="0.6" height="11.25" fill="#5a1020"/>
<rect x="326.75" y="321.50" width="5.0" height="7.00" fill="#a4162c"/>
<rect x="326.75" y="325.05" width="5.0" height="0.6" fill="#3c0814"/>
<rect x="335.25" y="319.75" width="0.6" height="15.75" fill="#5a1020"/>
<rect x="333.05" y="320.00" width="5.0" height="6.00" fill="#a4162c"/>
<rect x="333.05" y="323.00" width="5.0" height="0.6" fill="#3c0814"/>
<rect x="341.55" y="319.88" width="0.6" height="4.88" fill="#5a1020"/>
<rect x="339.35" y="320.00" width="5.0" height="2.50" fill="#a4162c"/>
<rect x="339.35" y="321.07" width="5.0" height="0.6" fill="#3c0814"/>
<rect x="345.95" y="319.52" width="4.4" height="0.7" fill="#40101c"/>
<rect x="352.25" y="319.52" width="4.4" height="0.7" fill="#40101c"/>
<rect x="360.45" y="319.88" width="0.6" height="6.62" fill="#5a1020"/>
<rect x="358.25" y="319.88" width="5.0" height="3.62" fill="#a4162c"/>
<rect x="358.25" y="321.57" width="5.0" height="0.6" fill="#3c0814"/>
<rect x="366.75" y="319.88" width="0.6" height="9.88" fill="#5a1020"/>
<rect x="364.55" y="320.50" width="5.0" height="5.00" fill="#a4162c"/>
<rect x="364.55" y="322.95" width="5.0" height="0.6" fill="#3c0814"/>
<rect x="373.05" y="319.88" width="0.6" height="14.12" fill="#5a1020"/>
<rect x="370.85" y="319.88" width="5.0" height="5.62" fill="#a4162c"/>
<rect x="370.85" y="322.67" width="5.0" height="0.6" fill="#3c0814"/>
<rect x="379.35" y="319.88" width="0.6" height="11.12" fill="#5a1020"/>
<rect x="377.15" y="320.50" width="5.0" height="4.25" fill="#a4162c"/>
<rect x="377.15" y="322.54" width="5.0" height="0.6" fill="#3c0814"/>
<rect x="385.65" y="319.88" width="0.6" height="5.62" fill="#5a1020"/>
<rect x="383.45" y="320.50" width="5.0" height="3.00" fill="#a4162c"/>
<rect x="383.45" y="321.85" width="5.0" height="0.6" fill="#3c0814"/>
<rect x="390.05" y="319.52" width="4.4" height="0.7" fill="#40101c"/>
<rect x="396.35" y="319.52" width="4.4" height="0.7" fill="#40101c"/>
<rect x="402.65" y="319.52" width="4.4" height="0.7" fill="#40101c"/>
<rect x="410.85" y="319.88" width="0.6" height="4.38" fill="#5a1020"/>
<rect x="408.65" y="319.88" width="5.0" height="2.38" fill="#a4162c"/>
<rect x="408.65" y="320.88" width="5.0" height="0.6" fill="#3c0814"/>
<rect x="415.25" y="319.52" width="4.4" height="0.7" fill="#40101c"/>
<rect x="423.45" y="319.88" width="0.6" height="5.88" fill="#5a1020"/>
<rect x="421.25" y="320.38" width="5.0" height="2.50" fill="#a4162c"/>
<rect x="421.25" y="321.45" width="5.0" height="0.6" fill="#3c0814"/>
<rect x="429.75" y="319.88" width="0.6" height="5.38" fill="#5a1020"/>
<rect x="427.55" y="319.88" width="5.0" height="2.50" fill="#a4162c"/>
<rect x="427.55" y="320.95" width="5.0" height="0.6" fill="#3c0814"/>
<rect x="436.05" y="319.88" width="0.6" height="3.88" fill="#5a1020"/>
<rect x="433.85" y="319.88" width="5.0" height="1.88" fill="#a4162c"/>
<rect x="433.85" y="320.61" width="5.0" height="0.6" fill="#3c0814"/>
<rect x="442.35" y="319.88" width="0.6" height="5.38" fill="#5a1020"/>
<rect x="440.15" y="319.88" width="5.0" height="2.50" fill="#a4162c"/>
<rect x="440.15" y="320.95" width="5.0" height="0.6" fill="#3c0814"/>
<rect x="448.65" y="319.88" width="0.6" height="5.38" fill="#5a1020"/>
<rect x="446.45" y="319.88" width="5.0" height="3.00" fill="#a4162c"/>
<rect x="446.45" y="321.22" width="5.0" height="0.6" fill="#3c0814"/>
<rect x="454.95" y="319.88" width="0.6" height="7.62" fill="#5a1020"/>
<rect x="452.75" y="319.88" width="5.0" height="5.00" fill="#a4162c"/>
<rect x="452.75" y="322.32" width="5.0" height="0.6" fill="#3c0814"/>
<rect x="461.25" y="319.88" width="0.6" height="6.38" fill="#5a1020"/>
<rect x="459.05" y="320.00" width="5.0" height="3.75" fill="#a4162c"/>
<rect x="459.05" y="321.76" width="5.0" height="0.6" fill="#3c0814"/>
<rect x="467.55" y="319.88" width="0.6" height="8.88" fill="#5a1020"/>
<rect x="465.35" y="319.88" width="5.0" height="3.88" fill="#a4162c"/>
<rect x="465.35" y="321.71" width="5.0" height="0.6" fill="#3c0814"/>
<rect x="473.85" y="319.88" width="0.6" height="7.38" fill="#5a1020"/>
<rect x="471.65" y="320.00" width="5.0" height="4.88" fill="#a4162c"/>
<rect x="471.65" y="322.38" width="5.0" height="0.6" fill="#3c0814"/>
<rect x="480.15" y="319.88" width="0.6" height="4.88" fill="#5a1020"/>
<rect x="477.95" y="321.75" width="5.0" height="1.50" fill="#a4162c"/>
<rect x="477.95" y="322.27" width="5.0" height="0.6" fill="#3c0814"/>
<rect x="486.45" y="319.88" width="0.6" height="5.38" fill="#5a1020"/>
<rect x="484.25" y="319.88" width="5.0" height="2.50" fill="#a4162c"/>
<rect x="484.25" y="320.95" width="5.0" height="0.6" fill="#3c0814"/>
<rect x="492.75" y="319.88" width="0.6" height="7.38" fill="#5a1020"/>
<rect x="490.55" y="319.88" width="5.0" height="3.88" fill="#a4162c"/>
<rect x="490.55" y="321.71" width="5.0" height="0.6" fill="#3c0814"/>
<rect x="115.7" y="318.5" width="0.5" height="25" fill="#222"/>
<g font-family="Liberation Sans, sans-serif" font-weight="bold" font-size="3.4" fill="#000" text-anchor="end">
<rect x="114.8" y="319.80" width="0.9" height="0.4" fill="#222"/>
<text x="114.4" y="321.15">4</text>
<rect x="114.8" y="323.00" width="0.9" height="0.4" fill="#222"/>
<text x="114.4" y="324.35">3</text>
<rect x="114.8" y="326.20" width="0.9" height="0.4" fill="#222"/>
<text x="114.4" y="327.55">2</text>
<rect x="114.8" y="329.40" width="0.9" height="0.4" fill="#222"/>
<text x="114.4" y="330.75">1</text>
<rect x="114.8" y="332.60" width="0.9" height="0.4" fill="#222"/>
<text x="114.4" y="333.95">0</text>
<rect x="114.8" y="335.80" width="0.9" height="0.4" fill="#222"/>
<text x="114.4" y="337.15">-1</text>
<rect x="114.8" y="339.00" width="0.9" height="0.4" fill="#222"/>
<text x="114.4" y="340.35">-2</text>
<rect x="114.8" y="342.20" width="0.9" height="0.4" fill="#222"/>
<text x="114.4" y="343.55">-3</text>
</g>
<text transform="translate(109.0,331.7) rotate(-90)" font-family="Liberation Sans, sans-serif" font-weight="bold" font-size="4.7" text-anchor="middle" fill="#111">log IC50 (nM)</text>
<g font-family="Liberation Sans, sans-serif" font-size="3.38" fill="#000" text-anchor="end">
<text transform="translate(122.40,345.7) rotate(-90)">VINCRISTINE</text>
<text transform="translate(128.70,345.7) rotate(-90)">MITOXANTRONE</text>
<text transform="translate(135.00,345.7) rotate(-90)">BORTEZOMIB</text>
<text transform="translate(141.30,345.7) rotate(-90)">IDARUBICIN</text>
<text transform="translate(147.60,345.7) rotate(-90)">MARITOCLAX</text>
<text transform="translate(153.90,345.7) rotate(-90)">PANOBINOSTAT</text>
<text transform="translate(160.20,345.7) rotate(-90)">VENETOCLAX</text>
<text transform="translate(166.50,345.7) rotate(-90)">RAPA</text>
<text transform="translate(172.80,345.7) rotate(-90)">DOXORUBICIN</text>
<text transform="translate(179.10,345.7) rotate(-90)">CGP-60474</text>
<text transform="translate(185.40,345.7) rotate(-90)">DEXAMETHASONE</text>
<text transform="translate(191.70,345.7) rotate(-90)">BI-2536</text>
<text transform="translate(198.00,345.7) rotate(-90)">LUMINESPIB</text>
<text transform="translate(204.30,345.7) rotate(-90)">VORINOSTAT</text>
<text transform="translate(210.60,345.7) rotate(-90)">GEMCITABINE</text>
<text transform="translate(216.90,345.7) rotate(-90)">CYTARABINE</text>
<text transform="translate(223.20,345.7) rotate(-90)">BARASERTIB</text>
<text transform="translate(229.50,345.7) rotate(-90)">NVP-HSP990</text>
<text transform="translate(235.80,345.7) rotate(-90)">AT13387</text>
<text transform="translate(242.10,345.7) rotate(-90)">ALISX</text>
<text transform="translate(248.40,345.7) rotate(-90)">TOPOTECAN</text>
<text transform="translate(254.70,345.7) rotate(-90)">BELINOSTAT</text>
<text transform="translate(261.00,345.7) rotate(-90)">AT9283</text>
<text transform="translate(267.30,345.7) rotate(-90)">LESTAURTINIB</text>
<text transform="translate(273.60,345.7) rotate(-90)">ETOPOSIDE</text>
<text transform="translate(279.90,345.7) rotate(-90)">NVP-RAF265</text>
<text transform="translate(286.20,345.7) rotate(-90)">ENTINOSTAT</text>
<text transform="translate(292.50,345.7) rotate(-90)">JQ-1</text>
<text transform="translate(298.80,345.7) rotate(-90)">OBATOCLAX</text>
<text transform="translate(305.10,345.7) rotate(-90)">NUTLIN</text>
<text transform="translate(311.40,345.7) rotate(-90)">DOVITINIB</text>
<text transform="translate(317.70,345.7) rotate(-90)">MIDOSTAURIN</text>
<text transform="translate(324.00,345.7) rotate(-90)">PU-H71</text>
<text transform="translate(330.30,345.7) rotate(-90)">MK2206</text>
<text transform="translate(336.60,345.7) rotate(-90)">DASATINIB</text>
<text transform="translate(342.90,345.7) rotate(-90)">TEMSIROLIMUS</text>
<text transform="translate(349.20,345.7) rotate(-90)">IMATINIB</text>
<text transform="translate(355.50,345.7) rotate(-90)">DAPT</text>
<text transform="translate(361.80,345.7) rotate(-90)">NVP-LCL161</text>
<text transform="translate(368.10,345.7) rotate(-90)">TORIN-1</text>
<text transform="translate(374.40,345.7) rotate(-90)">DACTOLISIB</text>
<text transform="translate(380.70,345.7) rotate(-90)">MK-2206</text>
<text transform="translate(387.00,345.7) rotate(-90)">NVP-AEW541</text>
<text transform="translate(393.30,345.7) rotate(-90)">METHOTREXATE</text>
<text transform="translate(399.60,345.7) rotate(-90)">NILOTINIB</text>
<text transform="translate(405.90,345.7) rotate(-90)">AXITINIB</text>
<text transform="translate(412.20,345.7) rotate(-90)">PALBOCICLIB</text>
<text transform="translate(418.50,345.7) rotate(-90)">MERCAPTOPURINE</text>
<text transform="translate(424.80,345.7) rotate(-90)">NVP-BGJ398</text>
<text transform="translate(431.10,345.7) rotate(-90)">MK1775</text>
<text transform="translate(437.40,345.7) rotate(-90)">SUNITINIB</text>
<text transform="translate(443.70,345.7) rotate(-90)">OLAPARIB</text>
<text transform="translate(450.00,345.7) rotate(-90)">THIOGUANINE</text>
<text transform="translate(456.30,345.7) rotate(-90)">ZM-447439</text>
<text transform="translate(462.60,345.7) rotate(-90)">PTC-209</text>
<text transform="translate(468.90,345.7) rotate(-90)">AZD4055</text>
<text transform="translate(475.20,345.7) rotate(-90)">BUPARLISIB</text>
<text transform="translate(481.50,345.7) rotate(-90)">BMS-509744</text>
<text transform="translate(487.80,345.7) rotate(-90)">NVP-BKM120-NX</text>
<text transform="translate(494.10,345.7) rotate(-90)">NVP-BYL719</text>
</g>
<g stroke-width="0.62" stroke-linecap="square" fill="none">
<line x1="139.40" y1="38.40" x2="139.40" y2="45.30" stroke="#cc3c70"/>
<line x1="145.70" y1="38.40" x2="145.70" y2="45.30" stroke="#cc3c70"/>
<line x1="139.40" y1="38.40" x2="142.55" y2="38.40" stroke="#cc3c70"/>
<line x1="142.55" y1="38.40" x2="145.70" y2="38.40" stroke="#cc3c70"/>
<line x1="133.10" y1="39.10" x2="133.10" y2="45.30" stroke="#cc3c70"/>
<line x1="142.55" y1="39.10" x2="142.55" y2="38.40" stroke="#cc3c70"/>
<line x1="133.10" y1="39.10" x2="137.82" y2="39.10" stroke="#cc3c70"/>
<line x1="137.82" y1="39.10" x2="142.55" y2="39.10" stroke="#cc3c70"/>
<line x1="137.82" y1="37.00" x2="137.82" y2="39.10" stroke="#cc3c70"/>
<line x1="152.00" y1="37.00" x2="152.00" y2="45.30" stroke="#cc3c70"/>
<line x1="137.82" y1="37.00" x2="144.91" y2="37.00" stroke="#cc3c70"/>
<line x1="144.91" y1="37.00" x2="152.00" y2="37.00" stroke="#cc3c70"/>
<line x1="126.80" y1="34.80" x2="126.80" y2="45.30" stroke="#cc3c70"/>
<line x1="144.91" y1="34.80" x2="144.91" y2="37.00" stroke="#cc3c70"/>
<line x1="126.80" y1="34.80" x2="135.86" y2="34.80" stroke="#cc3c70"/>
<line x1="135.86" y1="34.80" x2="144.91" y2="34.80" stroke="#cc3c70"/>
<line x1="120.50" y1="29.80" x2="120.50" y2="45.30" stroke="#cc3c70"/>
<line x1="135.86" y1="29.80" x2="135.86" y2="34.80" stroke="#cc3c70"/>
<line x1="120.50" y1="29.80" x2="128.18" y2="29.80" stroke="#cc3c70"/>
<line x1="128.18" y1="29.80" x2="135.86" y2="29.80" stroke="#cc3c70"/>
<line x1="170.90" y1="38.40" x2="170.90" y2="45.30" stroke="#a08444"/>
<line x1="177.20" y1="38.40" x2="177.20" y2="45.30" stroke="#a08444"/>
<line x1="170.90" y1="38.40" x2="174.05" y2="38.40" stroke="#a08444"/>
<line x1="174.05" y1="38.40" x2="177.20" y2="38.40" stroke="#a08444"/>
<line x1="164.60" y1="34.40" x2="164.60" y2="45.30" stroke="#a08444"/>
<line x1="174.05" y1="34.40" x2="174.05" y2="38.40" stroke="#a08444"/>
<line x1="164.60" y1="34.40" x2="169.32" y2="34.40" stroke="#a08444"/>
<line x1="169.32" y1="34.40" x2="174.05" y2="34.40" stroke="#a08444"/>
<line x1="158.30" y1="30.50" x2="158.30" y2="45.30" stroke="#a08444"/>
<line x1="169.32" y1="30.50" x2="169.32" y2="34.40" stroke="#a08444"/>
<line x1="158.30" y1="30.50" x2="163.81" y2="30.50" stroke="#a08444"/>
<line x1="163.81" y1="30.50" x2="169.32" y2="30.50" stroke="#a08444"/>
<line x1="189.80" y1="30.50" x2="189.80" y2="45.30" stroke="#2e8450"/>
<line x1="196.10" y1="30.50" x2="196.10" y2="45.30" stroke="#2e8450"/>
<line x1="189.80" y1="30.50" x2="192.95" y2="30.50" stroke="#2e8450"/>
<line x1="192.95" y1="30.50" x2="196.10" y2="30.50" stroke="#2e8450"/>
<line x1="183.50" y1="26.70" x2="183.50" y2="45.30" stroke="#2e8450"/>
<line x1="192.95" y1="26.70" x2="192.95" y2="30.50" stroke="#2e8450"/>
<line x1="183.50" y1="26.70" x2="188.22" y2="26.70" stroke="#2e8450"/>
<line x1="188.22" y1="26.70" x2="192.95" y2="26.70" stroke="#2e8450"/>
<line x1="163.81" y1="24.80" x2="163.81" y2="30.50" stroke="#a08444"/>
<line x1="188.22" y1="24.80" x2="188.22" y2="26.70" stroke="#2e8450"/>
<line x1="163.81" y1="24.80" x2="176.02" y2="24.80" stroke="#a08444"/>
<line x1="176.02" y1="24.80" x2="188.22" y2="24.80" stroke="#2e8450"/>
<line x1="128.18" y1="24.40" x2="128.18" y2="29.80" stroke="#cc3c70"/>
<line x1="176.02" y1="24.40" x2="176.02" y2="24.80" stroke="#222"/>
<line x1="128.18" y1="24.40" x2="152.10" y2="24.40" stroke="#cc3c70"/>
<line x1="152.10" y1="24.40" x2="176.02" y2="24.40" stroke="#222"/>
<line x1="215.00" y1="36.70" x2="215.00" y2="45.30" stroke="#8850a8"/>
<line x1="221.30" y1="36.70" x2="221.30" y2="45.30" stroke="#8850a8"/>
<line x1="215.00" y1="36.70" x2="218.15" y2="36.70" stroke="#8850a8"/>
<line x1="218.15" y1="36.70" x2="221.30" y2="36.70" stroke="#8850a8"/>
<line x1="208.70" y1="34.10" x2="208.70" y2="45.30" stroke="#8850a8"/>
<line x1="218.15" y1="34.10" x2="218.15" y2="36.70" stroke="#8850a8"/>
<line x1="208.70" y1="34.10" x2="213.43" y2="34.10" stroke="#8850a8"/>
<line x1="213.43" y1="34.10" x2="218.15" y2="34.10" stroke="#8850a8"/>
<line x1="202.40" y1="32.90" x2="202.40" y2="45.30" stroke="#8850a8"/>
<line x1="213.43" y1="32.90" x2="213.43" y2="34.10" stroke="#8850a8"/>
<line x1="202.40" y1="32.90" x2="207.91" y2="32.90" stroke="#8850a8"/>
<line x1="207.91" y1="32.90" x2="213.43" y2="32.90" stroke="#8850a8"/>
<line x1="227.60" y1="35.50" x2="227.60" y2="45.30" stroke="#8850a8"/>
<line x1="233.90" y1="35.50" x2="233.90" y2="45.30" stroke="#8850a8"/>
<line x1="227.60" y1="35.50" x2="230.75" y2="35.50" stroke="#8850a8"/>
<line x1="230.75" y1="35.50" x2="233.90" y2="35.50" stroke="#8850a8"/>
<line x1="252.80" y1="37.20" x2="252.80" y2="45.30" stroke="#8850a8"/>
<line x1="259.10" y1="37.20" x2="259.10" y2="45.30" stroke="#8850a8"/>
<line x1="252.80" y1="37.20" x2="255.95" y2="37.20" stroke="#8850a8"/>
<line x1="255.95" y1="37.20" x2="259.10" y2="37.20" stroke="#8850a8"/>
<line x1="246.50" y1="35.50" x2="246.50" y2="45.30" stroke="#8850a8"/>
<line x1="255.95" y1="35.50" x2="255.95" y2="37.20" stroke="#8850a8"/>
<line x1="246.50" y1="35.50" x2="251.22" y2="35.50" stroke="#8850a8"/>
<line x1="251.22" y1="35.50" x2="255.95" y2="35.50" stroke="#8850a8"/>
<line x1="240.20" y1="33.70" x2="240.20" y2="45.30" stroke="#8850a8"/>
<line x1="251.22" y1="33.70" x2="251.22" y2="35.50" stroke="#8850a8"/>
<line x1="240.20" y1="33.70" x2="245.71" y2="33.70" stroke="#8850a8"/>
<line x1="245.71" y1="33.70" x2="251.22" y2="33.70" stroke="#8850a8"/>
<line x1="230.75" y1="31.50" x2="230.75" y2="35.50" stroke="#8850a8"/>
<line x1="245.71" y1="31.50" x2="245.71" y2="33.70" stroke="#8850a8"/>
<line x1="230.75" y1="31.50" x2="238.23" y2="31.50" stroke="#8850a8"/>
<line x1="238.23" y1="31.50" x2="245.71" y2="31.50" stroke="#8850a8"/>
<line x1="207.91" y1="27.30" x2="207.91" y2="32.90" stroke="#8850a8"/>
<line x1="238.23" y1="27.30" x2="238.23" y2="31.50" stroke="#8850a8"/>
<line x1="207.91" y1="27.30" x2="223.07" y2="27.30" stroke="#8850a8"/>
<line x1="223.07" y1="27.30" x2="238.23" y2="27.30" stroke="#8850a8"/>
<line x1="265.40" y1="37.70" x2="265.40" y2="45.30" stroke="#3a96a8"/>
<line x1="271.70" y1="37.70" x2="271.70" y2="45.30" stroke="#3a96a8"/>
<line x1="265.40" y1="37.70" x2="268.55" y2="37.70" stroke="#3a96a8"/>
<line x1="268.55" y1="37.70" x2="271.70" y2="37.70" stroke="#3a96a8"/>
<line x1="284.30" y1="39.10" x2="284.30" y2="45.30" stroke="#3a96a8"/>
<line x1="290.60" y1="39.10" x2="290.60" y2="45.30" stroke="#3a96a8"/>
<line x1="284.30" y1="39.10" x2="287.45" y2="39.10" stroke="#3a96a8"/>
<line x1="287.45" y1="39.10" x2="290.60" y2="39.10" stroke="#3a96a8"/>
<line x1="278.00" y1="37.30" x2="278.00" y2="45.30" stroke="#3a96a8"/>
<line x1="287.45" y1="37.30" x2="287.45" y2="39.10" stroke="#3a96a8"/>
<line x1="278.00" y1="37.30" x2="282.73" y2="37.30" stroke="#3a96a8"/>
<line x1="282.73" y1="37.30" x2="287.45" y2="37.30" stroke="#3a96a8"/>
<line x1="309.50" y1="41.50" x2="309.50" y2="45.30" stroke="#3a96a8"/>
<line x1="315.80" y1="41.50" x2="315.80" y2="45.30" stroke="#3a96a8"/>
<line x1="309.50" y1="41.50" x2="312.65" y2="41.50" stroke="#3a96a8"/>
<line x1="312.65" y1="41.50" x2="315.80" y2="41.50" stroke="#3a96a8"/>
<line x1="303.20" y1="40.30" x2="303.20" y2="45.30" stroke="#3a96a8"/>
<line x1="312.65" y1="40.30" x2="312.65" y2="41.50" stroke="#3a96a8"/>
<line x1="303.20" y1="40.30" x2="307.92" y2="40.30" stroke="#3a96a8"/>
<line x1="307.92" y1="40.30" x2="312.65" y2="40.30" stroke="#3a96a8"/>
<line x1="296.90" y1="37.70" x2="296.90" y2="45.30" stroke="#3a96a8"/>
<line x1="307.92" y1="37.70" x2="307.92" y2="40.30" stroke="#3a96a8"/>
<line x1="296.90" y1="37.70" x2="302.41" y2="37.70" stroke="#3a96a8"/>
<line x1="302.41" y1="37.70" x2="307.92" y2="37.70" stroke="#3a96a8"/>
<line x1="282.73" y1="36.30" x2="282.73" y2="37.30" stroke="#3a96a8"/>
<line x1="302.41" y1="36.30" x2="302.41" y2="37.70" stroke="#3a96a8"/>
<line x1="282.73" y1="36.30" x2="292.57" y2="36.30" stroke="#3a96a8"/>
<line x1="292.57" y1="36.30" x2="302.41" y2="36.30" stroke="#3a96a8"/>
<line x1="268.55" y1="35.40" x2="268.55" y2="37.70" stroke="#3a96a8"/>
<line x1="292.57" y1="35.40" x2="292.57" y2="36.30" stroke="#3a96a8"/>
<line x1="268.55" y1="35.40" x2="280.56" y2="35.40" stroke="#3a96a8"/>
<line x1="280.56" y1="35.40" x2="292.57" y2="35.40" stroke="#3a96a8"/>
<line x1="322.10" y1="36.00" x2="322.10" y2="45.30" stroke="#3a96a8"/>
<line x1="328.40" y1="36.00" x2="328.40" y2="45.30" stroke="#3a96a8"/>
<line x1="322.10" y1="36.00" x2="325.25" y2="36.00" stroke="#3a96a8"/>
<line x1="325.25" y1="36.00" x2="328.40" y2="36.00" stroke="#3a96a8"/>
<line x1="280.56" y1="34.20" x2="280.56" y2="35.40" stroke="#3a96a8"/>
<line x1="325.25" y1="34.20" x2="325.25" y2="36.00" stroke="#3a96a8"/>
<line x1="280.56" y1="34.20" x2="302.90" y2="34.20" stroke="#3a96a8"/>
<line x1="302.90" y1="34.20" x2="325.25" y2="34.20" stroke="#3a96a8"/>
<line x1="302.90" y1="32.10" x2="302.90" y2="34.20" stroke="#3a96a8"/>
<line x1="334.70" y1="32.10" x2="334.70" y2="45.30" stroke="#3a96a8"/>
<line x1="302.90" y1="32.10" x2="318.80" y2="32.10" stroke="#3a96a8"/>
<line x1="318.80" y1="32.10" x2="334.70" y2="32.10" stroke="#3a96a8"/>
<line x1="347.30" y1="36.80" x2="347.30" y2="45.30" stroke="#3a96a8"/>
<line x1="353.60" y1="36.80" x2="353.60" y2="45.30" stroke="#3a96a8"/>
<line x1="347.30" y1="36.80" x2="350.45" y2="36.80" stroke="#3a96a8"/>
<line x1="350.45" y1="36.80" x2="353.60" y2="36.80" stroke="#3a96a8"/>
<line x1="341.00" y1="35.60" x2="341.00" y2="45.30" stroke="#3a96a8"/>
<line x1="350.45" y1="35.60" x2="350.45" y2="36.80" stroke="#3a96a8"/>
<line x1="341.00" y1="35.60" x2="345.73" y2="35.60" stroke="#3a96a8"/>
<line x1="345.73" y1="35.60" x2="350.45" y2="35.60" stroke="#3a96a8"/>
<line x1="366.20" y1="37.70" x2="366.20" y2="45.30" stroke="#3a96a8"/>
<line x1="372.50" y1="37.70" x2="372.50" y2="45.30" stroke="#3a96a8"/>
<line x1="366.20" y1="37.70" x2="369.35" y2="37.70" stroke="#3a96a8"/>
<line x1="369.35" y1="37.70" x2="372.50" y2="37.70" stroke="#3a96a8"/>
<line x1="378.80" y1="38.50" x2="378.80" y2="45.30" stroke="#3a96a8"/>
<line x1="385.10" y1="38.50" x2="385.10" y2="45.30" stroke="#3a96a8"/>
<line x1="378.80" y1="38.50" x2="381.95" y2="38.50" stroke="#3a96a8"/>
<line x1="381.95" y1="38.50" x2="385.10" y2="38.50" stroke="#3a96a8"/>
<line x1="369.35" y1="35.60" x2="369.35" y2="37.70" stroke="#3a96a8"/>
<line x1="381.95" y1="35.60" x2="381.95" y2="38.50" stroke="#3a96a8"/>
<line x1="369.35" y1="35.60" x2="375.65" y2="35.60" stroke="#3a96a8"/>
<line x1="375.65" y1="35.60" x2="381.95" y2="35.60" stroke="#3a96a8"/>
<line x1="404.00" y1="41.10" x2="404.00" y2="45.30" stroke="#3a96a8"/>
<line x1="410.30" y1="41.10" x2="410.30" y2="45.30" stroke="#3a96a8"/>
<line x1="404.00" y1="41.10" x2="407.15" y2="41.10" stroke="#3a96a8"/>
<line x1="407.15" y1="41.10" x2="410.30" y2="41.10" stroke="#3a96a8"/>
<line x1="397.70" y1="37.70" x2="397.70" y2="45.30" stroke="#3a96a8"/>
<line x1="407.15" y1="37.70" x2="407.15" y2="41.10" stroke="#3a96a8"/>
<line x1="397.70" y1="37.70" x2="402.42" y2="37.70" stroke="#3a96a8"/>
<line x1="402.42" y1="37.70" x2="407.15" y2="37.70" stroke="#3a96a8"/>
<line x1="416.60" y1="41.10" x2="416.60" y2="45.30" stroke="#3a96a8"/>
<line x1="422.90" y1="41.10" x2="422.90" y2="45.30" stroke="#3a96a8"/>
<line x1="416.60" y1="41.10" x2="419.75" y2="41.10" stroke="#3a96a8"/>
<line x1="419.75" y1="41.10" x2="422.90" y2="41.10" stroke="#3a96a8"/>
<line x1="429.20" y1="41.10" x2="429.20" y2="45.30" stroke="#3a96a8"/>
<line x1="435.50" y1="41.10" x2="435.50" y2="45.30" stroke="#3a96a8"/>
<line x1="429.20" y1="41.10" x2="432.35" y2="41.10" stroke="#3a96a8"/>
<line x1="432.35" y1="41.10" x2="435.50" y2="41.10" stroke="#3a96a8"/>
<line x1="419.75" y1="39.40" x2="419.75" y2="41.10" stroke="#3a96a8"/>
<line x1="432.35" y1="39.40" x2="432.35" y2="41.10" stroke="#3a96a8"/>
<line x1="419.75" y1="39.40" x2="426.05" y2="39.40" stroke="#3a96a8"/>
<line x1="426.05" y1="39.40" x2="432.35" y2="39.40" stroke="#3a96a8"/>
<line x1="441.80" y1="40.80" x2="441.80" y2="45.30" stroke="#3a96a8"/>
<line x1="448.10" y1="40.80" x2="448.10" y2="45.30" stroke="#3a96a8"/>
<line x1="441.80" y1="40.80" x2="444.95" y2="40.80" stroke="#3a96a8"/>
<line x1="444.95" y1="40.80" x2="448.10" y2="40.80" stroke="#3a96a8"/>
<line x1="444.95" y1="38.50" x2="444.95" y2="40.80" stroke="#3a96a8"/>
<line x1="454.40" y1="38.50" x2="454.40" y2="45.30" stroke="#3a96a8"/>
<line x1="444.95" y1="38.50" x2="449.67" y2="38.50" stroke="#3a96a8"/>
<line x1="449.67" y1="38.50" x2="454.40" y2="38.50" stroke="#3a96a8"/>
<line x1="460.70" y1="40.30" x2="460.70" y2="45.30" stroke="#3a96a8"/>
<line x1="467.00" y1="40.30" x2="467.00" y2="45.30" stroke="#3a96a8"/>
<line x1="460.70" y1="40.30" x2="463.85" y2="40.30" stroke="#3a96a8"/>
<line x1="463.85" y1="40.30" x2="467.00" y2="40.30" stroke="#3a96a8"/>
<line x1="473.30" y1="40.80" x2="473.30" y2="45.30" stroke="#3a96a8"/>
<line x1="479.60" y1="40.80" x2="479.60" y2="45.30" stroke="#3a96a8"/>
<line x1="473.30" y1="40.80" x2="476.45" y2="40.80" stroke="#3a96a8"/>
<line x1="476.45" y1="40.80" x2="479.60" y2="40.80" stroke="#3a96a8"/>
<line x1="485.90" y1="40.80" x2="485.90" y2="45.30" stroke="#3a96a8"/>
<line x1="492.20" y1="40.80" x2="492.20" y2="45.30" stroke="#3a96a8"/>
<line x1="485.90" y1="40.80" x2="489.05" y2="40.80" stroke="#3a96a8"/>
<line x1="489.05" y1="40.80" x2="492.20" y2="40.80" stroke="#3a96a8"/>
<line x1="476.45" y1="39.10" x2="476.45" y2="40.80" stroke="#3a96a8"/>
<line x1="489.05" y1="39.10" x2="489.05" y2="40.80" stroke="#3a96a8"/>
<line x1="476.45" y1="39.10" x2="482.75" y2="39.10" stroke="#3a96a8"/>
<line x1="482.75" y1="39.10" x2="489.05" y2="39.10" stroke="#3a96a8"/>
<line x1="463.85" y1="38.20" x2="463.85" y2="40.30" stroke="#3a96a8"/>
<line x1="482.75" y1="38.20" x2="482.75" y2="39.10" stroke="#3a96a8"/>
<line x1="463.85" y1="38.20" x2="473.30" y2="38.20" stroke="#3a96a8"/>
<line x1="473.30" y1="38.20" x2="482.75" y2="38.20" stroke="#3a96a8"/>
<line x1="449.67" y1="36.80" x2="449.67" y2="38.50" stroke="#3a96a8"/>
<line x1="473.30" y1="36.80" x2="473.30" y2="38.20" stroke="#3a96a8"/>
<line x1="449.67" y1="36.80" x2="461.49" y2="36.80" stroke="#3a96a8"/>
<line x1="461.49" y1="36.80" x2="473.30" y2="36.80" stroke="#3a96a8"/>
<line x1="426.05" y1="36.00" x2="426.05" y2="39.40" stroke="#3a96a8"/>
<line x1="461.49" y1="36.00" x2="461.49" y2="36.80" stroke="#3a96a8"/>
<line x1="426.05" y1="36.00" x2="443.77" y2="36.00" stroke="#3a96a8"/>
<line x1="443.77" y1="36.00" x2="461.49" y2="36.00" stroke="#3a96a8"/>
<line x1="402.42" y1="35.10" x2="402.42" y2="37.70" stroke="#3a96a8"/>
<line x1="443.77" y1="35.10" x2="443.77" y2="36.00" stroke="#3a96a8"/>
<line x1="402.42" y1="35.10" x2="423.10" y2="35.10" stroke="#3a96a8"/>
<line x1="423.10" y1="35.10" x2="443.77" y2="35.10" stroke="#3a96a8"/>
<line x1="391.40" y1="33.00" x2="391.40" y2="45.30" stroke="#3a96a8"/>
<line x1="423.10" y1="33.00" x2="423.10" y2="35.10" stroke="#3a96a8"/>
<line x1="391.40" y1="33.00" x2="407.25" y2="33.00" stroke="#3a96a8"/>
<line x1="407.25" y1="33.00" x2="423.10" y2="33.00" stroke="#3a96a8"/>
<line x1="375.65" y1="33.40" x2="375.65" y2="35.60" stroke="#3a96a8"/>
<line x1="407.25" y1="33.40" x2="407.25" y2="33.00" stroke="#3a96a8"/>
<line x1="375.65" y1="33.40" x2="391.45" y2="33.40" stroke="#3a96a8"/>
<line x1="391.45" y1="33.40" x2="407.25" y2="33.40" stroke="#3a96a8"/>
<line x1="359.90" y1="32.50" x2="359.90" y2="45.30" stroke="#3a96a8"/>
<line x1="391.45" y1="32.50" x2="391.45" y2="33.40" stroke="#3a96a8"/>
<line x1="359.90" y1="32.50" x2="375.67" y2="32.50" stroke="#3a96a8"/>
<line x1="375.67" y1="32.50" x2="391.45" y2="32.50" stroke="#3a96a8"/>
<line x1="345.73" y1="31.10" x2="345.73" y2="35.60" stroke="#3a96a8"/>
<line x1="375.67" y1="31.10" x2="375.67" y2="32.50" stroke="#3a96a8"/>
<line x1="345.73" y1="31.10" x2="360.70" y2="31.10" stroke="#3a96a8"/>
<line x1="360.70" y1="31.10" x2="375.67" y2="31.10" stroke="#3a96a8"/>
<line x1="318.80" y1="28.20" x2="318.80" y2="32.10" stroke="#3a96a8"/>
<line x1="360.70" y1="28.20" x2="360.70" y2="31.10" stroke="#3a96a8"/>
<line x1="318.80" y1="28.20" x2="339.75" y2="28.20" stroke="#3a96a8"/>
<line x1="339.75" y1="28.20" x2="360.70" y2="28.20" stroke="#3a96a8"/>
<line x1="223.07" y1="19.90" x2="223.07" y2="27.30" stroke="#8850a8"/>
<line x1="339.75" y1="19.90" x2="339.75" y2="28.20" stroke="#3a96a8"/>
<line x1="223.07" y1="19.90" x2="281.41" y2="19.90" stroke="#8850a8"/>
<line x1="281.41" y1="19.90" x2="339.75" y2="19.90" stroke="#3a96a8"/>
<line x1="152.10" y1="7.30" x2="152.10" y2="24.40" stroke="#222"/>
<line x1="281.41" y1="7.30" x2="281.41" y2="19.90" stroke="#222"/>
<line x1="152.10" y1="7.30" x2="216.75" y2="7.30" stroke="#222"/>
<line x1="216.75" y1="7.30" x2="281.41" y2="7.30" stroke="#222"/>
</g>
<rect x="0" y="0" width="520" height="1.3" fill="#000"/>
<rect x="0" y="0" width="1.2" height="383" fill="#000"/>
<rect x="518.3" y="0" width="1.7" height="383" fill="#000"/>
<rect x="0" y="381.2" width="520" height="1.8" fill="#000"/>
</svg>
</body></html>
